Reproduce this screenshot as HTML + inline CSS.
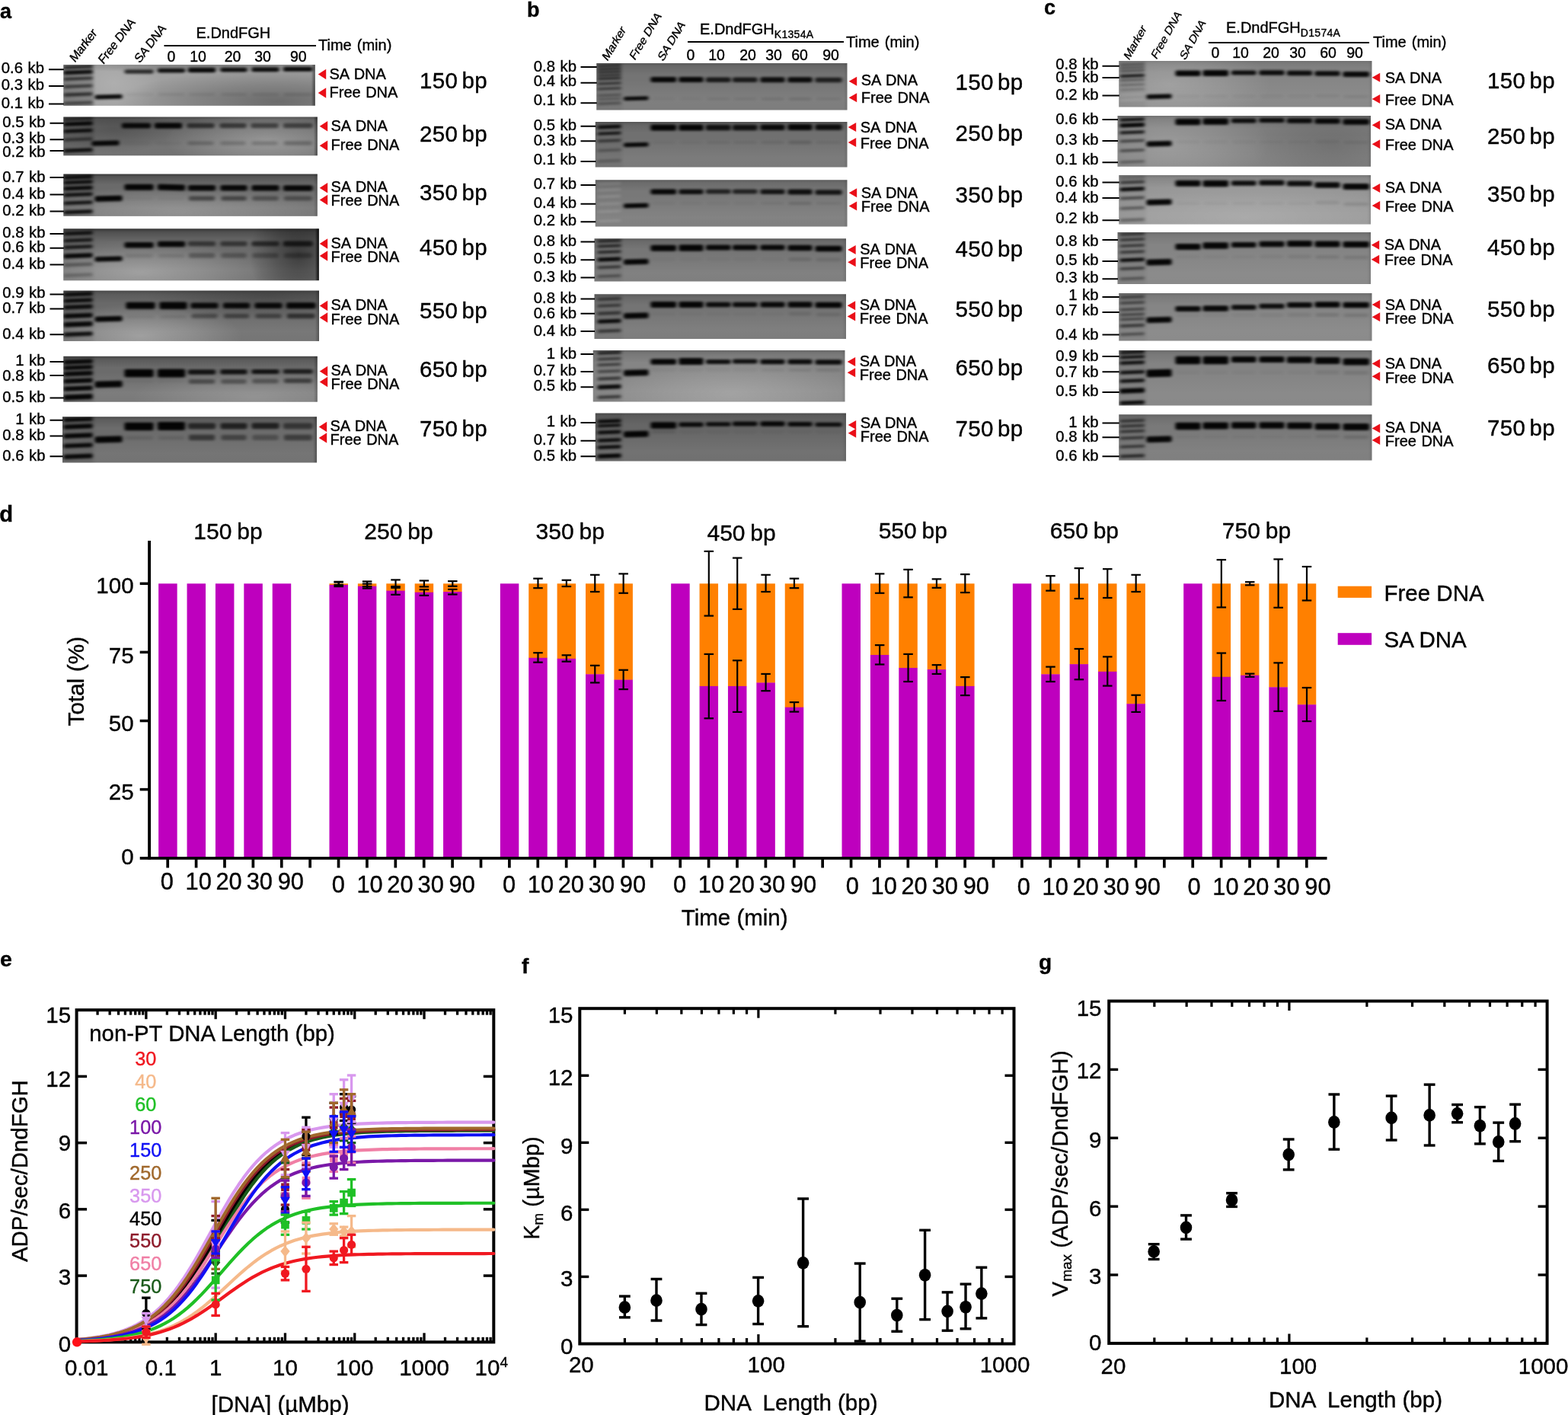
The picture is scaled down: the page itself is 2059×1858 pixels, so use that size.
<!DOCTYPE html>
<html><head><meta charset="utf-8"><title>Figure</title>
<style>
html,body{margin:0;padding:0;background:#fff;}
body{width:2059px;height:1858px;overflow:hidden;}
svg{display:block;position:absolute;left:0;top:0;}
text{font-family:'Liberation Sans', Arial, Helvetica, sans-serif;stroke:#000;stroke-width:0.38px;}
</style></head><body>
<svg width="2059" height="1858" viewBox="0 0 2059 1858">
<defs>
<filter id="bl" x="-20%" y="-100%" width="140%" height="300%"><feGaussianBlur stdDeviation="1.9 1.35"/></filter>
<filter id="bl2" x="-20%" y="-100%" width="140%" height="300%"><feGaussianBlur stdDeviation="2.2 1.5"/></filter>
<radialGradient id="rgk"><stop offset="0" stop-color="#000" stop-opacity="1"/><stop offset="0.5" stop-color="#000" stop-opacity="0.55"/><stop offset="1" stop-color="#000" stop-opacity="0"/></radialGradient>
<radialGradient id="rgw"><stop offset="0" stop-color="#fff" stop-opacity="1"/><stop offset="0.5" stop-color="#fff" stop-opacity="0.55"/><stop offset="1" stop-color="#fff" stop-opacity="0"/></radialGradient>
<linearGradient id="gt" x1="0" y1="0" x2="0" y2="1"><stop offset="0" stop-color="#000" stop-opacity="1"/><stop offset="0.07" stop-color="#000" stop-opacity="0.45"/><stop offset="0.25" stop-color="#000" stop-opacity="0"/></linearGradient>
<linearGradient id="gb" x1="0" y1="0" x2="0" y2="1"><stop offset="0.35" stop-color="#fff" stop-opacity="0"/><stop offset="0.8" stop-color="#fff" stop-opacity="1"/><stop offset="1" stop-color="#fff" stop-opacity="0.8"/></linearGradient>
<linearGradient id="gr" x1="0" y1="0" x2="1" y2="0"><stop offset="0" stop-color="#000" stop-opacity="0"/><stop offset="0.6" stop-color="#000" stop-opacity="0.6"/><stop offset="1" stop-color="#000" stop-opacity="1"/></linearGradient>
<clipPath id="cg1"><rect x="83.3" y="84.9" width="330.5" height="53.9"/></clipPath>
<clipPath id="cg2"><rect x="83.3" y="153.5" width="333.5" height="50.8"/></clipPath>
<clipPath id="cg3"><rect x="83.3" y="228.5" width="333.5" height="55.3"/></clipPath>
<clipPath id="cg4"><rect x="83.3" y="300.3" width="335.5" height="68"/></clipPath>
<clipPath id="cg5"><rect x="83.3" y="381.6" width="335.7" height="66.3"/></clipPath>
<clipPath id="cg6"><rect x="83.3" y="467.8" width="333.5" height="59.9"/></clipPath>
<clipPath id="cg7"><rect x="82" y="547.2" width="334" height="60.3"/></clipPath>
<clipPath id="cg8"><rect x="783.25" y="83" width="329.25" height="61.5"/></clipPath>
<clipPath id="cg9"><rect x="781.75" y="160" width="330.75" height="59.5"/></clipPath>
<clipPath id="cg10"><rect x="781.75" y="236.25" width="330.75" height="61.25"/></clipPath>
<clipPath id="cg11"><rect x="780.5" y="313.25" width="330.5" height="56.25"/></clipPath>
<clipPath id="cg12"><rect x="780.5" y="386.25" width="330.5" height="58.75"/></clipPath>
<clipPath id="cg13"><rect x="778.75" y="460" width="330.75" height="67.5"/></clipPath>
<clipPath id="cg14"><rect x="781.75" y="542.5" width="329.25" height="63"/></clipPath>
<clipPath id="cg15"><rect x="1469.25" y="80" width="332.25" height="60.5"/></clipPath>
<clipPath id="cg16"><rect x="1467.5" y="152" width="332.5" height="66.75"/></clipPath>
<clipPath id="cg17"><rect x="1469.25" y="230" width="330.75" height="64.5"/></clipPath>
<clipPath id="cg18"><rect x="1467.5" y="305" width="332.5" height="68"/></clipPath>
<clipPath id="cg19"><rect x="1469.25" y="385" width="332.25" height="62.5"/></clipPath>
<clipPath id="cg20"><rect x="1469.25" y="460" width="332.25" height="72.5"/></clipPath>
<clipPath id="cg21"><rect x="1469.25" y="544.25" width="332.25" height="60.25"/></clipPath>
</defs>
<rect x="0" y="0" width="2059" height="1858" fill="#fff"/>
<rect x="83.3" y="84.9" width="330.5" height="53.9" fill="#a0a0a0"/>
<g clip-path="url(#cg1)">
<rect x="408.8" y="84.9" width="5" height="53.9" fill="url(#gr)" opacity="0.5"/>
<rect x="80.3" y="81.9" width="42.7" height="59.9" fill="#000" opacity="0.22" filter="url(#bl2)"/>
<ellipse cx="364.23" cy="133.41" rx="211.52" ry="43.12" fill="url(#rgk)" opacity="0.33"/>
<ellipse cx="149.4" cy="109.16" rx="63.46" ry="43.12" fill="url(#rgw)" opacity="0.15"/>
<ellipse cx="281.6" cy="84.9" rx="264.4" ry="10.35" fill="url(#rgk)" opacity="0.22"/>
<rect x="83.4" y="86.3" width="38.2" height="3.4" rx="1.7" fill="#000" opacity="0.78" filter="url(#bl)" transform="rotate(-2.2 102.5 88)"/>
<rect x="83.4" y="92.2" width="38.2" height="5.2" rx="2.2" fill="#000" opacity="0.9" filter="url(#bl)" transform="rotate(-2.2 102.5 94.8)"/>
<rect x="83.4" y="101.15" width="38.2" height="4.1" rx="2.05" fill="#000" opacity="0.64" filter="url(#bl)" transform="rotate(-2.2 102.5 103.2)"/>
<rect x="83.4" y="111.15" width="38.2" height="4.1" rx="2.05" fill="#000" opacity="0.59" filter="url(#bl)" transform="rotate(-2.2 102.5 113.2)"/>
<rect x="83.4" y="121.85" width="38.2" height="4.3" rx="2.15" fill="#000" opacity="0.64" filter="url(#bl)" transform="rotate(-2.2 102.5 124)"/>
<rect x="83.4" y="133.25" width="38.2" height="4.1" rx="2.05" fill="#000" opacity="0.49" filter="url(#bl)" transform="rotate(-2.2 102.5 135.3)"/>
<rect x="124.4" y="124.15" width="36.2" height="5.9" rx="2.2" fill="#000" opacity="0.93" filter="url(#bl)" transform="rotate(-1.5 142.5 127.1)"/>
<rect x="163.4" y="91.35" width="38.2" height="5.3" rx="2.2" fill="#000" opacity="0.73" filter="url(#bl)"/>
<rect x="164.4" y="122.05" width="36.2" height="3.9" rx="1.95" fill="#000" opacity="0.04" filter="url(#bl2)"/>
<rect x="206.9" y="89.85" width="36.2" height="5.7" rx="2.2" fill="#000" opacity="0.88" filter="url(#bl)"/>
<rect x="207.9" y="122.05" width="34.2" height="3.9" rx="1.95" fill="#000" opacity="0.06" filter="url(#bl2)"/>
<rect x="246.9" y="88.85" width="36.2" height="6.3" rx="2.2" fill="#000" opacity="0.93" filter="url(#bl)"/>
<rect x="247.9" y="122.05" width="34.2" height="3.9" rx="1.95" fill="#000" opacity="0.06" filter="url(#bl2)"/>
<rect x="289.4" y="88.65" width="35.2" height="5.9" rx="2.2" fill="#000" opacity="0.9" filter="url(#bl)"/>
<rect x="290.4" y="122.05" width="33.2" height="3.9" rx="1.95" fill="#000" opacity="0.07" filter="url(#bl2)"/>
<rect x="330.4" y="88.25" width="36.2" height="5.9" rx="2.2" fill="#000" opacity="0.9" filter="url(#bl)"/>
<rect x="331.4" y="122.05" width="34.2" height="3.9" rx="1.95" fill="#000" opacity="0.07" filter="url(#bl2)"/>
<rect x="371.9" y="87.75" width="38.7" height="6.1" rx="2.2" fill="#000" opacity="0.93" filter="url(#bl)"/>
<rect x="372.9" y="122.05" width="36.7" height="3.9" rx="1.95" fill="#000" opacity="0.1" filter="url(#bl2)"/>
</g>
<text x="58" y="95.75" font-size="20.3" text-anchor="end" word-spacing="1">0.6 kb</text>
<line x1="64" y1="91.25" x2="83.8" y2="91.25" stroke="#000" stroke-width="2"/>
<text x="58" y="118" font-size="20.3" text-anchor="end" word-spacing="1">0.3 kb</text>
<line x1="64" y1="113" x2="83.8" y2="113" stroke="#000" stroke-width="2"/>
<text x="58" y="141.75" font-size="20.3" text-anchor="end" word-spacing="1">0.1 kb</text>
<line x1="64" y1="136.5" x2="83.8" y2="136.5" stroke="#000" stroke-width="2"/>
<path d="M417.7 97.5 L428.2 90.7 L428.2 104.3 Z" fill="#ea0f18"/>
<text x="432.5" y="103.75" font-size="20" word-spacing="1">SA DNA</text>
<path d="M417.7 122 L428.2 115.2 L428.2 128.8 Z" fill="#ea0f18"/>
<text x="432.5" y="128.25" font-size="20" word-spacing="1">Free DNA</text>
<rect x="83.3" y="153.5" width="333.5" height="50.8" fill="#686868"/>
<g clip-path="url(#cg2)">
<rect x="83.3" y="153.5" width="333.5" height="50.8" fill="url(#gt)" opacity="0.3"/>
<rect x="83.3" y="153.5" width="333.5" height="50.8" fill="url(#gb)" opacity="0.08"/>
<rect x="411.8" y="153.5" width="5" height="50.8" fill="url(#gr)" opacity="0.6"/>
<rect x="80.3" y="150.5" width="42.7" height="56.8" fill="#000" opacity="0.12" filter="url(#bl2)"/>
<ellipse cx="350.1" cy="183.98" rx="133.4" ry="40.64" fill="url(#rgw)" opacity="0.27"/>
<ellipse cx="150" cy="168.74" rx="80.04" ry="32.51" fill="url(#rgk)" opacity="0.18"/>
<rect x="83.4" y="154.6" width="38.2" height="3.4" rx="1.7" fill="#000" opacity="0.59" filter="url(#bl)" transform="rotate(-2.2 102.5 156.3)"/>
<rect x="83.4" y="159.95" width="38.2" height="5.1" rx="2.2" fill="#000" opacity="0.93" filter="url(#bl)" transform="rotate(-2.2 102.5 162.5)"/>
<rect x="83.4" y="169.5" width="38.2" height="4.4" rx="2.2" fill="#000" opacity="0.88" filter="url(#bl)" transform="rotate(-2.2 102.5 171.7)"/>
<rect x="83.4" y="181.05" width="38.2" height="3.9" rx="1.95" fill="#000" opacity="0.49" filter="url(#bl)" transform="rotate(-2.2 102.5 183)"/>
<rect x="83.4" y="194.95" width="38.2" height="4.9" rx="2.2" fill="#000" opacity="0.88" filter="url(#bl)" transform="rotate(-2.2 102.5 197.4)"/>
<rect x="120.4" y="184.8" width="36.2" height="6.4" rx="2.2" fill="#000" opacity="0.93" filter="url(#bl)" transform="rotate(-1.5 138.5 188)"/>
<rect x="159.9" y="161.55" width="38.2" height="6.9" rx="2.2" fill="#000" opacity="0.9" filter="url(#bl)"/>
<rect x="160.9" y="186.05" width="36.2" height="3.9" rx="1.95" fill="#000" opacity="0.03" filter="url(#bl2)"/>
<rect x="202.9" y="161.3" width="36.2" height="7.4" rx="2.2" fill="#000" opacity="0.93" filter="url(#bl)"/>
<rect x="203.9" y="186.05" width="34.2" height="3.9" rx="1.95" fill="#000" opacity="0.03" filter="url(#bl2)"/>
<rect x="245.4" y="161.8" width="36.2" height="6.4" rx="2.2" fill="#000" opacity="0.59" filter="url(#bl)"/>
<rect x="246.4" y="185.55" width="34.2" height="4.9" rx="2.2" fill="#000" opacity="0.2" filter="url(#bl2)"/>
<rect x="288.4" y="161.8" width="35.2" height="6.4" rx="2.2" fill="#000" opacity="0.54" filter="url(#bl)"/>
<rect x="289.4" y="185.55" width="33.2" height="4.9" rx="2.2" fill="#000" opacity="0.18" filter="url(#bl2)"/>
<rect x="329.4" y="161.8" width="36.2" height="6.4" rx="2.2" fill="#000" opacity="0.49" filter="url(#bl)"/>
<rect x="330.4" y="185.55" width="34.2" height="4.9" rx="2.2" fill="#000" opacity="0.18" filter="url(#bl2)"/>
<rect x="371.9" y="161.8" width="38.7" height="6.4" rx="2.2" fill="#000" opacity="0.49" filter="url(#bl)"/>
<rect x="372.9" y="185.3" width="36.7" height="5.4" rx="2.2" fill="#000" opacity="0.24" filter="url(#bl2)"/>
</g>
<text x="59.5" y="167" font-size="20.3" text-anchor="end" word-spacing="1">0.5 kb</text>
<line x1="65.5" y1="161.75" x2="83.8" y2="161.75" stroke="#000" stroke-width="2"/>
<text x="59.5" y="188" font-size="20.3" text-anchor="end" word-spacing="1">0.3 kb</text>
<line x1="65.5" y1="183.25" x2="83.8" y2="183.25" stroke="#000" stroke-width="2"/>
<text x="59.5" y="205.5" font-size="20.3" text-anchor="end" word-spacing="1">0.2 kb</text>
<line x1="65.5" y1="198" x2="83.8" y2="198" stroke="#000" stroke-width="2"/>
<path d="M419.7 165.75 L430.2 158.95 L430.2 172.55 Z" fill="#ea0f18"/>
<text x="434.5" y="172" font-size="20" word-spacing="1">SA DNA</text>
<path d="M419.7 191.25 L430.2 184.45 L430.2 198.05 Z" fill="#ea0f18"/>
<text x="434.5" y="196.75" font-size="20" word-spacing="1">Free DNA</text>
<rect x="83.3" y="228.5" width="333.5" height="55.3" fill="#6a6a6a"/>
<g clip-path="url(#cg3)">
<rect x="83.3" y="228.5" width="333.5" height="55.3" fill="url(#gt)" opacity="0.45"/>
<rect x="83.3" y="228.5" width="333.5" height="55.3" fill="url(#gb)" opacity="0.12"/>
<rect x="411.8" y="228.5" width="5" height="55.3" fill="url(#gr)" opacity="0.2"/>
<rect x="80.3" y="225.5" width="42.7" height="61.3" fill="#000" opacity="0.1" filter="url(#bl2)"/>
<ellipse cx="233.38" cy="278.27" rx="186.76" ry="35.39" fill="url(#rgw)" opacity="0.18"/>
<rect x="83.4" y="230.3" width="38.2" height="4.4" rx="2.2" fill="#000" opacity="0.88" filter="url(#bl)" transform="rotate(-2.2 102.5 232.5)"/>
<rect x="83.4" y="237.05" width="38.2" height="4.4" rx="2.2" fill="#000" opacity="0.88" filter="url(#bl)" transform="rotate(-2.2 102.5 239.25)"/>
<rect x="83.4" y="244.55" width="38.2" height="4.9" rx="2.2" fill="#000" opacity="0.93" filter="url(#bl)" transform="rotate(-2.2 102.5 247)"/>
<rect x="83.4" y="253.3" width="38.2" height="4.4" rx="2.2" fill="#000" opacity="0.88" filter="url(#bl)" transform="rotate(-2.2 102.5 255.5)"/>
<rect x="83.4" y="264.05" width="38.2" height="4.4" rx="2.2" fill="#000" opacity="0.83" filter="url(#bl)" transform="rotate(-2.2 102.5 266.25)"/>
<rect x="83.4" y="275.8" width="38.2" height="4.9" rx="2.2" fill="#000" opacity="0.88" filter="url(#bl)" transform="rotate(-2.2 102.5 278.25)"/>
<rect x="124.4" y="257.05" width="36.2" height="7.4" rx="2.2" fill="#000" opacity="0.95" filter="url(#bl)" transform="rotate(-1.5 142.5 260.75)"/>
<rect x="163.4" y="241.8" width="38.2" height="7.9" rx="2.2" fill="#000" opacity="0.95" filter="url(#bl)"/>
<rect x="164.4" y="258.55" width="36.2" height="3.9" rx="1.95" fill="#000" opacity="0.03" filter="url(#bl2)"/>
<rect x="206.9" y="242.05" width="36.2" height="7.9" rx="2.2" fill="#000" opacity="0.95" filter="url(#bl)" transform="rotate(1.5 225 246)"/>
<rect x="207.9" y="258.55" width="34.2" height="3.9" rx="1.95" fill="#000" opacity="0.03" filter="url(#bl2)"/>
<rect x="246.9" y="243.05" width="36.2" height="7.4" rx="2.2" fill="#000" opacity="0.93" filter="url(#bl)"/>
<rect x="247.9" y="257.55" width="34.2" height="5.9" rx="2.2" fill="#000" opacity="0.44" filter="url(#bl2)"/>
<rect x="289.4" y="243.05" width="35.2" height="7.4" rx="2.2" fill="#000" opacity="0.93" filter="url(#bl)"/>
<rect x="290.4" y="257.55" width="33.2" height="5.9" rx="2.2" fill="#000" opacity="0.44" filter="url(#bl2)"/>
<rect x="330.4" y="243.05" width="36.2" height="7.4" rx="2.2" fill="#000" opacity="0.93" filter="url(#bl)"/>
<rect x="331.4" y="257.55" width="34.2" height="5.9" rx="2.2" fill="#000" opacity="0.34" filter="url(#bl2)"/>
<rect x="371.9" y="243.3" width="38.7" height="7.4" rx="2.2" fill="#000" opacity="0.93" filter="url(#bl)"/>
<rect x="372.9" y="257.55" width="36.7" height="5.9" rx="2.2" fill="#000" opacity="0.34" filter="url(#bl2)"/>
</g>
<text x="59.5" y="238.75" font-size="20.3" text-anchor="end" word-spacing="1">0.7 kb</text>
<line x1="65.5" y1="233" x2="83.8" y2="233" stroke="#000" stroke-width="2"/>
<text x="59.5" y="261.25" font-size="20.3" text-anchor="end" word-spacing="1">0.4 kb</text>
<line x1="65.5" y1="255.5" x2="83.8" y2="255.5" stroke="#000" stroke-width="2"/>
<text x="59.5" y="283" font-size="20.3" text-anchor="end" word-spacing="1">0.2 kb</text>
<line x1="65.5" y1="277.5" x2="83.8" y2="277.5" stroke="#000" stroke-width="2"/>
<path d="M419.7 246.75 L430.2 239.95 L430.2 253.55 Z" fill="#ea0f18"/>
<text x="434.5" y="251.5" font-size="20" word-spacing="1">SA DNA</text>
<path d="M419.7 262.5 L430.2 255.7 L430.2 269.3 Z" fill="#ea0f18"/>
<text x="434.5" y="270" font-size="20" word-spacing="1">Free DNA</text>
<rect x="83.3" y="300.3" width="335.5" height="68" fill="#696969"/>
<g clip-path="url(#cg4)">
<rect x="83.3" y="300.3" width="335.5" height="68" fill="url(#gt)" opacity="0.5"/>
<rect x="83.3" y="300.3" width="335.5" height="68" fill="url(#gb)" opacity="0.1"/>
<rect x="413.8" y="300.3" width="5" height="68" fill="url(#gr)" opacity="0.9"/>
<rect x="80.3" y="297.3" width="42.7" height="74" fill="#000" opacity="0.05" filter="url(#bl2)"/>
<ellipse cx="183.95" cy="358.1" rx="161.04" ry="43.52" fill="url(#rgw)" opacity="0.3"/>
<ellipse cx="391.96" cy="334.3" rx="64.42" ry="76.16" fill="url(#rgk)" opacity="0.45"/>
<rect x="83.4" y="304.05" width="38.2" height="4.4" rx="2.2" fill="#000" opacity="0.83" filter="url(#bl)" transform="rotate(-2.2 102.5 306.25)"/>
<rect x="83.4" y="313.3" width="38.2" height="4.4" rx="2.2" fill="#000" opacity="0.78" filter="url(#bl)" transform="rotate(-2.2 102.5 315.5)"/>
<rect x="83.4" y="322.05" width="38.2" height="4.4" rx="2.2" fill="#000" opacity="0.78" filter="url(#bl)" transform="rotate(-2.2 102.5 324.25)"/>
<rect x="83.4" y="332.8" width="38.2" height="5.9" rx="2.2" fill="#000" opacity="0.93" filter="url(#bl)" transform="rotate(-2.2 102.5 335.75)"/>
<rect x="83.4" y="345.3" width="38.2" height="4.4" rx="2.2" fill="#000" opacity="0.34" filter="url(#bl)" transform="rotate(-2.2 102.5 347.5)"/>
<rect x="83.4" y="359.05" width="38.2" height="4.4" rx="2.2" fill="#000" opacity="0.24" filter="url(#bl)" transform="rotate(-2.2 102.5 361.25)"/>
<rect x="124.4" y="336.8" width="36.2" height="6.4" rx="2.2" fill="#000" opacity="0.93" filter="url(#bl)" transform="rotate(-1.5 142.5 340)"/>
<rect x="163.4" y="318.05" width="38.2" height="7.4" rx="2.2" fill="#000" opacity="0.93" filter="url(#bl)"/>
<rect x="164.4" y="333.55" width="36.2" height="4.9" rx="2.2" fill="#000" opacity="0.1" filter="url(#bl2)"/>
<rect x="206.9" y="316.8" width="36.2" height="7.4" rx="2.2" fill="#000" opacity="0.93" filter="url(#bl)"/>
<rect x="207.9" y="333.55" width="34.2" height="4.9" rx="2.2" fill="#000" opacity="0.1" filter="url(#bl2)"/>
<rect x="246.9" y="316.8" width="36.2" height="6.4" rx="2.2" fill="#000" opacity="0.49" filter="url(#bl)"/>
<rect x="247.9" y="332.3" width="34.2" height="6.4" rx="2.2" fill="#000" opacity="0.29" filter="url(#bl2)"/>
<rect x="289.4" y="316.8" width="35.2" height="6.4" rx="2.2" fill="#000" opacity="0.49" filter="url(#bl)"/>
<rect x="290.4" y="332.3" width="33.2" height="6.4" rx="2.2" fill="#000" opacity="0.27" filter="url(#bl2)"/>
<rect x="330.4" y="316.8" width="36.2" height="6.4" rx="2.2" fill="#000" opacity="0.59" filter="url(#bl)"/>
<rect x="331.4" y="332.3" width="34.2" height="6.4" rx="2.2" fill="#000" opacity="0.27" filter="url(#bl2)"/>
<rect x="371.9" y="316.55" width="38.7" height="6.9" rx="2.2" fill="#000" opacity="0.69" filter="url(#bl)"/>
<rect x="372.9" y="332.3" width="36.7" height="6.4" rx="2.2" fill="#000" opacity="0.27" filter="url(#bl2)"/>
</g>
<text x="59.5" y="311.75" font-size="20.3" text-anchor="end" word-spacing="1">0.8 kb</text>
<line x1="65.5" y1="307" x2="83.8" y2="307" stroke="#000" stroke-width="2"/>
<text x="59.5" y="331.25" font-size="20.3" text-anchor="end" word-spacing="1">0.6 kb</text>
<line x1="65.5" y1="325.75" x2="83.8" y2="325.75" stroke="#000" stroke-width="2"/>
<text x="59.5" y="352.5" font-size="20.3" text-anchor="end" word-spacing="1">0.4 kb</text>
<line x1="65.5" y1="347.5" x2="83.8" y2="347.5" stroke="#000" stroke-width="2"/>
<path d="M419.7 320 L430.2 313.2 L430.2 326.8 Z" fill="#ea0f18"/>
<text x="434.5" y="325.5" font-size="20" word-spacing="1">SA DNA</text>
<path d="M419.7 336 L430.2 329.2 L430.2 342.8 Z" fill="#ea0f18"/>
<text x="434.5" y="344" font-size="20" word-spacing="1">Free DNA</text>
<rect x="83.3" y="381.6" width="335.7" height="66.3" fill="#696969"/>
<g clip-path="url(#cg5)">
<rect x="83.3" y="381.6" width="335.7" height="66.3" fill="url(#gt)" opacity="0.3"/>
<rect x="83.3" y="381.6" width="335.7" height="66.3" fill="url(#gb)" opacity="0.1"/>
<rect x="414" y="381.6" width="5" height="66.3" fill="url(#gr)" opacity="0.3"/>
<rect x="80.3" y="378.6" width="42.7" height="72.3" fill="#000" opacity="0.1" filter="url(#bl2)"/>
<ellipse cx="184.01" cy="441.27" rx="134.28" ry="42.43" fill="url(#rgw)" opacity="0.3"/>
<ellipse cx="351.86" cy="388.23" rx="161.14" ry="31.82" fill="url(#rgk)" opacity="0.22"/>
<rect x="83.4" y="383.8" width="38.2" height="4.9" rx="2.2" fill="#000" opacity="0.88" filter="url(#bl)" transform="rotate(-2.2 102.5 386.25)"/>
<rect x="83.4" y="392.05" width="38.2" height="4.9" rx="2.2" fill="#000" opacity="0.88" filter="url(#bl)" transform="rotate(-2.2 102.5 394.5)"/>
<rect x="83.4" y="400.3" width="38.2" height="5.4" rx="2.2" fill="#000" opacity="0.88" filter="url(#bl)" transform="rotate(-2.2 102.5 403)"/>
<rect x="83.4" y="411.55" width="38.2" height="5.9" rx="2.2" fill="#000" opacity="0.93" filter="url(#bl)" transform="rotate(-2.2 102.5 414.5)"/>
<rect x="83.4" y="422.55" width="38.2" height="6.4" rx="2.2" fill="#000" opacity="0.93" filter="url(#bl)" transform="rotate(-2.2 102.5 425.75)"/>
<rect x="83.4" y="436.05" width="38.2" height="5.4" rx="2.2" fill="#000" opacity="0.88" filter="url(#bl)" transform="rotate(-2.2 102.5 438.75)"/>
<rect x="124.4" y="415.3" width="36.2" height="6.9" rx="2.2" fill="#000" opacity="0.95" filter="url(#bl)" transform="rotate(-1.5 142.5 418.75)"/>
<rect x="165.4" y="396.8" width="38.2" height="8.9" rx="2.2" fill="#000" opacity="0.95" filter="url(#bl)"/>
<rect x="166.4" y="414.05" width="36.2" height="3.9" rx="1.95" fill="#000" opacity="0.05" filter="url(#bl2)"/>
<rect x="209.4" y="396.55" width="36.2" height="9.4" rx="2.2" fill="#000" opacity="0.95" filter="url(#bl)"/>
<rect x="210.4" y="414.05" width="34.2" height="3.9" rx="1.95" fill="#000" opacity="0.08" filter="url(#bl2)"/>
<rect x="250.4" y="397.55" width="36.2" height="7.4" rx="2.2" fill="#000" opacity="0.9" filter="url(#bl)"/>
<rect x="251.4" y="412.05" width="34.2" height="5.9" rx="2.2" fill="#000" opacity="0.34" filter="url(#bl2)"/>
<rect x="292.9" y="397.55" width="35.2" height="7.4" rx="2.2" fill="#000" opacity="0.9" filter="url(#bl)"/>
<rect x="293.9" y="412.05" width="33.2" height="5.9" rx="2.2" fill="#000" opacity="0.39" filter="url(#bl2)"/>
<rect x="334.4" y="397.55" width="36.2" height="7.4" rx="2.2" fill="#000" opacity="0.9" filter="url(#bl)"/>
<rect x="335.4" y="412.05" width="34.2" height="5.9" rx="2.2" fill="#000" opacity="0.39" filter="url(#bl2)"/>
<rect x="375.9" y="397.3" width="38.7" height="7.9" rx="2.2" fill="#000" opacity="0.93" filter="url(#bl)"/>
<rect x="376.9" y="411.8" width="36.7" height="6.4" rx="2.2" fill="#000" opacity="0.54" filter="url(#bl2)"/>
</g>
<text x="59.5" y="390.5" font-size="20.3" text-anchor="end" word-spacing="1">0.9 kb</text>
<line x1="65.5" y1="386.5" x2="83.8" y2="386.5" stroke="#000" stroke-width="2"/>
<text x="59.5" y="411.25" font-size="20.3" text-anchor="end" word-spacing="1">0.7 kb</text>
<line x1="65.5" y1="405.5" x2="83.8" y2="405.5" stroke="#000" stroke-width="2"/>
<text x="59.5" y="445" font-size="20.3" text-anchor="end" word-spacing="1">0.4 kb</text>
<line x1="65.5" y1="439.25" x2="83.8" y2="439.25" stroke="#000" stroke-width="2"/>
<path d="M419.7 401.5 L430.2 394.7 L430.2 408.3 Z" fill="#ea0f18"/>
<text x="434.5" y="406.5" font-size="20" word-spacing="1">SA DNA</text>
<path d="M419.7 417 L430.2 410.2 L430.2 423.8 Z" fill="#ea0f18"/>
<text x="434.5" y="425.5" font-size="20" word-spacing="1">Free DNA</text>
<rect x="83.3" y="467.8" width="333.5" height="59.9" fill="#6b6b6b"/>
<g clip-path="url(#cg6)">
<rect x="83.3" y="467.8" width="333.5" height="59.9" fill="url(#gt)" opacity="0.35"/>
<rect x="83.3" y="467.8" width="333.5" height="59.9" fill="url(#gb)" opacity="0.12"/>
<rect x="411.8" y="467.8" width="5" height="59.9" fill="url(#gr)" opacity="0.3"/>
<rect x="80.3" y="464.8" width="42.7" height="65.9" fill="#000" opacity="0.1" filter="url(#bl2)"/>
<ellipse cx="333.43" cy="521.71" rx="160.08" ry="38.34" fill="url(#rgw)" opacity="0.18"/>
<rect x="83.4" y="472.3" width="38.2" height="5.4" rx="2.2" fill="#000" opacity="0.93" filter="url(#bl)" transform="rotate(-2.2 102.5 475)"/>
<rect x="83.4" y="479.8" width="38.2" height="5.4" rx="2.2" fill="#000" opacity="0.93" filter="url(#bl)" transform="rotate(-2.2 102.5 482.5)"/>
<rect x="83.4" y="487.55" width="38.2" height="5.9" rx="2.2" fill="#000" opacity="0.93" filter="url(#bl)" transform="rotate(-2.2 102.5 490.5)"/>
<rect x="83.4" y="497.05" width="38.2" height="5.9" rx="2.2" fill="#000" opacity="0.93" filter="url(#bl)" transform="rotate(-2.2 102.5 500)"/>
<rect x="83.4" y="507.05" width="38.2" height="5.9" rx="2.2" fill="#000" opacity="0.93" filter="url(#bl)" transform="rotate(-2.2 102.5 510)"/>
<rect x="83.4" y="517.8" width="38.2" height="6.9" rx="2.2" fill="#000" opacity="0.95" filter="url(#bl)" transform="rotate(-2.2 102.5 521.25)"/>
<rect x="124.4" y="500.3" width="36.2" height="8.4" rx="2.2" fill="#000" opacity="0.95" filter="url(#bl)" transform="rotate(-1.5 142.5 504.5)"/>
<rect x="163.4" y="484.8" width="38.2" height="10.4" rx="2.2" fill="#000" opacity="0.96" filter="url(#bl)"/>
<rect x="164.4" y="498.68" width="36.2" height="3.9" rx="1.95" fill="#000" opacity="0.03" filter="url(#bl2)"/>
<rect x="206.9" y="484.55" width="36.2" height="10.9" rx="2.2" fill="#000" opacity="0.96" filter="url(#bl)"/>
<rect x="207.9" y="498.68" width="34.2" height="3.9" rx="1.95" fill="#000" opacity="0.03" filter="url(#bl2)"/>
<rect x="246.9" y="485.3" width="36.2" height="6.4" rx="2.2" fill="#000" opacity="0.83" filter="url(#bl)"/>
<rect x="247.9" y="498.05" width="34.2" height="5.9" rx="2.2" fill="#000" opacity="0.39" filter="url(#bl2)"/>
<rect x="289.4" y="485.1" width="35.2" height="6.4" rx="2.2" fill="#000" opacity="0.83" filter="url(#bl)"/>
<rect x="290.4" y="498.05" width="33.2" height="5.9" rx="2.2" fill="#000" opacity="0.34" filter="url(#bl2)"/>
<rect x="330.4" y="485.05" width="36.2" height="5.9" rx="2.2" fill="#000" opacity="0.83" filter="url(#bl)"/>
<rect x="331.4" y="497.55" width="34.2" height="5.9" rx="2.2" fill="#000" opacity="0.34" filter="url(#bl2)"/>
<rect x="371.9" y="484.85" width="38.7" height="5.9" rx="2.2" fill="#000" opacity="0.73" filter="url(#bl)"/>
<rect x="372.9" y="497.05" width="36.7" height="5.9" rx="2.2" fill="#000" opacity="0.49" filter="url(#bl2)"/>
</g>
<text x="59.5" y="480" font-size="20.3" text-anchor="end" word-spacing="1">1 kb</text>
<line x1="65.5" y1="475" x2="83.8" y2="475" stroke="#000" stroke-width="2"/>
<text x="59.5" y="499.5" font-size="20.3" text-anchor="end" word-spacing="1">0.8 kb</text>
<line x1="65.5" y1="493" x2="83.8" y2="493" stroke="#000" stroke-width="2"/>
<text x="59.5" y="527.5" font-size="20.3" text-anchor="end" word-spacing="1">0.5 kb</text>
<line x1="65.5" y1="522.5" x2="83.8" y2="522.5" stroke="#000" stroke-width="2"/>
<path d="M419.7 487.5 L430.2 480.7 L430.2 494.3 Z" fill="#ea0f18"/>
<text x="434.5" y="492.5" font-size="20" word-spacing="1">SA DNA</text>
<path d="M419.7 501.5 L430.2 494.7 L430.2 508.3 Z" fill="#ea0f18"/>
<text x="434.5" y="511" font-size="20" word-spacing="1">Free DNA</text>
<rect x="82" y="547.2" width="334" height="60.3" fill="#6c6c6c"/>
<g clip-path="url(#cg7)">
<rect x="82" y="547.2" width="334" height="60.3" fill="url(#gt)" opacity="0.3"/>
<rect x="82" y="547.2" width="334" height="60.3" fill="url(#gb)" opacity="0.06"/>
<rect x="411" y="547.2" width="5" height="60.3" fill="url(#gr)" opacity="0.3"/>
<rect x="79" y="544.2" width="44" height="66.3" fill="#000" opacity="0.1" filter="url(#bl2)"/>
<rect x="83.4" y="548.3" width="38.2" height="4.9" rx="2.2" fill="#000" opacity="0.93" filter="url(#bl)" transform="rotate(-2.2 102.5 550.75)"/>
<rect x="83.4" y="557.05" width="38.2" height="5.9" rx="2.2" fill="#000" opacity="0.93" filter="url(#bl)" transform="rotate(-2.2 102.5 560)"/>
<rect x="83.4" y="569.05" width="38.2" height="5.9" rx="2.2" fill="#000" opacity="0.93" filter="url(#bl)" transform="rotate(-2.2 102.5 572)"/>
<rect x="83.4" y="582.3" width="38.2" height="5.4" rx="2.2" fill="#000" opacity="0.93" filter="url(#bl)" transform="rotate(-2.2 102.5 585)"/>
<rect x="83.4" y="596.3" width="38.2" height="5.9" rx="2.2" fill="#000" opacity="0.93" filter="url(#bl)" transform="rotate(-2.2 102.5 599.25)"/>
<rect x="124.4" y="572.8" width="36.2" height="8.4" rx="2.2" fill="#000" opacity="0.95" filter="url(#bl)" transform="rotate(-1.5 142.5 577)"/>
<rect x="163.4" y="554.8" width="38.2" height="10.4" rx="2.2" fill="#000" opacity="0.96" filter="url(#bl)"/>
<rect x="164.4" y="572.55" width="36.2" height="4.9" rx="2.2" fill="#000" opacity="0.1" filter="url(#bl2)"/>
<rect x="206.9" y="554.05" width="36.2" height="10.9" rx="2.2" fill="#000" opacity="0.96" filter="url(#bl)"/>
<rect x="207.9" y="572.55" width="34.2" height="4.9" rx="2.2" fill="#000" opacity="0.1" filter="url(#bl2)"/>
<rect x="246.9" y="555.55" width="36.2" height="7.9" rx="2.2" fill="#000" opacity="0.64" filter="url(#bl)"/>
<rect x="247.9" y="570.8" width="34.2" height="7.4" rx="2.2" fill="#000" opacity="0.49" filter="url(#bl2)"/>
<rect x="289.4" y="555.55" width="35.2" height="7.9" rx="2.2" fill="#000" opacity="0.69" filter="url(#bl)"/>
<rect x="290.4" y="571.05" width="33.2" height="6.9" rx="2.2" fill="#000" opacity="0.39" filter="url(#bl2)"/>
<rect x="330.4" y="555.25" width="36.2" height="7.9" rx="2.2" fill="#000" opacity="0.69" filter="url(#bl)"/>
<rect x="331.4" y="571.05" width="34.2" height="6.9" rx="2.2" fill="#000" opacity="0.29" filter="url(#bl2)"/>
<rect x="371.9" y="555.55" width="38.7" height="7.9" rx="2.2" fill="#000" opacity="0.49" filter="url(#bl)"/>
<rect x="372.9" y="570.8" width="36.7" height="7.4" rx="2.2" fill="#000" opacity="0.44" filter="url(#bl2)"/>
</g>
<text x="59.5" y="557" font-size="20.3" text-anchor="end" word-spacing="1">1 kb</text>
<line x1="65.5" y1="551.75" x2="82.5" y2="551.75" stroke="#000" stroke-width="2"/>
<text x="59.5" y="578" font-size="20.3" text-anchor="end" word-spacing="1">0.8 kb</text>
<line x1="65.5" y1="572.5" x2="82.5" y2="572.5" stroke="#000" stroke-width="2"/>
<text x="59.5" y="605" font-size="20.3" text-anchor="end" word-spacing="1">0.6 kb</text>
<line x1="65.5" y1="599.25" x2="82.5" y2="599.25" stroke="#000" stroke-width="2"/>
<path d="M418.7 560.5 L429.2 553.7 L429.2 567.3 Z" fill="#ea0f18"/>
<text x="433.5" y="566" font-size="20" word-spacing="1">SA DNA</text>
<path d="M418.7 575 L429.2 568.2 L429.2 581.8 Z" fill="#ea0f18"/>
<text x="433.5" y="584" font-size="20" word-spacing="1">Free DNA</text>
<text x="0" y="23.8" font-size="27" font-weight="bold">a</text>
<text font-size="17.2" letter-spacing="-0.35" transform="translate(98.3 82.7) scale(0.87 1) rotate(-48.5)">Marker</text>
<text font-size="17.2" letter-spacing="-0.35" transform="translate(135.7 85.3) scale(0.87 1) rotate(-48.5)">Free DNA</text>
<text font-size="17.2" letter-spacing="-0.35" transform="translate(183.3 83.8) scale(0.87 1) rotate(-48.5)">SA DNA</text>
<text x="257.5" y="50" font-size="20">E.DndFGH</text>
<line x1="215.5" y1="60" x2="415" y2="60" stroke="#000" stroke-width="1.8"/>
<text x="418" y="65.5" font-size="20" word-spacing="1.5">Time (min)</text>
<text x="225" y="81.25" font-size="19.5" text-anchor="middle">0</text>
<text x="260" y="81.25" font-size="19.5" text-anchor="middle">10</text>
<text x="305.5" y="81.25" font-size="19.5" text-anchor="middle">20</text>
<text x="345" y="81.25" font-size="19.5" text-anchor="middle">30</text>
<text x="391.75" y="81.25" font-size="19.5" text-anchor="middle">90</text>
<text x="551" y="116.3" font-size="29.5" word-spacing="-3" letter-spacing="0.3">150 bp</text>
<text x="551" y="185.8" font-size="29.5" word-spacing="-3" letter-spacing="0.3">250 bp</text>
<text x="551" y="262.7" font-size="29.5" word-spacing="-3" letter-spacing="0.3">350 bp</text>
<text x="551" y="335" font-size="29.5" word-spacing="-3" letter-spacing="0.3">450 bp</text>
<text x="551" y="417.7" font-size="29.5" word-spacing="-3" letter-spacing="0.3">550 bp</text>
<text x="551" y="495" font-size="29.5" word-spacing="-3" letter-spacing="0.3">650 bp</text>
<text x="551" y="573" font-size="29.5" word-spacing="-3" letter-spacing="0.3">750 bp</text>
<rect x="783.25" y="83" width="329.25" height="61.5" fill="#747474"/>
<g clip-path="url(#cg8)">
<rect x="783.25" y="83" width="329.25" height="61.5" fill="url(#gt)" opacity="0.22"/>
<rect x="783.25" y="83" width="329.25" height="61.5" fill="url(#gb)" opacity="0.08"/>
<rect x="1107.5" y="83" width="5" height="61.5" fill="url(#gr)" opacity="0.1"/>
<rect x="780.25" y="80" width="36.75" height="67.5" fill="#000" opacity="0.05" filter="url(#bl2)"/>
<rect x="784.4" y="84.8" width="31.2" height="2.9" rx="1.45" fill="#000" opacity="0.59" filter="url(#bl)" transform="rotate(-2.2 800 86.25)"/>
<rect x="784.4" y="89.05" width="31.2" height="2.9" rx="1.45" fill="#000" opacity="0.59" filter="url(#bl)" transform="rotate(-2.2 800 90.5)"/>
<rect x="784.4" y="93.05" width="31.2" height="2.9" rx="1.45" fill="#000" opacity="0.59" filter="url(#bl)" transform="rotate(-2.2 800 94.5)"/>
<rect x="784.4" y="97.3" width="31.2" height="2.9" rx="1.45" fill="#000" opacity="0.59" filter="url(#bl)" transform="rotate(-2.2 800 98.75)"/>
<rect x="784.4" y="101.45" width="31.2" height="3.1" rx="1.55" fill="#000" opacity="0.69" filter="url(#bl)" transform="rotate(-2.2 800 103)"/>
<rect x="784.4" y="107.95" width="31.2" height="3.1" rx="1.55" fill="#000" opacity="0.59" filter="url(#bl)" transform="rotate(-2.2 800 109.5)"/>
<rect x="784.4" y="114.7" width="31.2" height="3.1" rx="1.55" fill="#000" opacity="0.54" filter="url(#bl)" transform="rotate(-2.2 800 116.25)"/>
<rect x="784.4" y="123.55" width="31.2" height="2.9" rx="1.45" fill="#000" opacity="0.34" filter="url(#bl)" transform="rotate(-2.2 800 125)"/>
<rect x="784.4" y="128.55" width="31.2" height="2.9" rx="1.45" fill="#000" opacity="0.29" filter="url(#bl)" transform="rotate(-2.2 800 130)"/>
<rect x="784.4" y="134.2" width="31.2" height="3.1" rx="1.55" fill="#000" opacity="0.39" filter="url(#bl)" transform="rotate(-2.2 800 135.75)"/>
<rect x="818.9" y="126.7" width="32.7" height="5.1" rx="2.2" fill="#000" opacity="0.95" filter="url(#bl)" transform="rotate(-1.5 835.25 129.25)"/>
<rect x="854.4" y="101.05" width="33.7" height="6.9" rx="2.2" fill="#000" opacity="0.93" filter="url(#bl)"/>
<rect x="855.4" y="128.05" width="31.7" height="3.9" rx="1.95" fill="#000" opacity="0.03" filter="url(#bl2)"/>
<rect x="891.4" y="101.05" width="32.2" height="6.9" rx="2.2" fill="#000" opacity="0.93" filter="url(#bl)"/>
<rect x="892.4" y="128.05" width="30.2" height="3.9" rx="1.95" fill="#000" opacity="0.03" filter="url(#bl2)"/>
<rect x="926.9" y="101.6" width="32.7" height="6.4" rx="2.2" fill="#000" opacity="0.78" filter="url(#bl)"/>
<rect x="927.9" y="128.05" width="30.7" height="3.9" rx="1.95" fill="#000" opacity="0.06" filter="url(#bl2)"/>
<rect x="961.9" y="101.6" width="32.7" height="6.4" rx="2.2" fill="#000" opacity="0.78" filter="url(#bl)"/>
<rect x="962.9" y="128.05" width="30.7" height="3.9" rx="1.95" fill="#000" opacity="0.06" filter="url(#bl2)"/>
<rect x="998.4" y="101.35" width="32.2" height="6.9" rx="2.2" fill="#000" opacity="0.88" filter="url(#bl)"/>
<rect x="999.4" y="128.05" width="30.2" height="3.9" rx="1.95" fill="#000" opacity="0.08" filter="url(#bl2)"/>
<rect x="1034.4" y="101.35" width="32.2" height="6.9" rx="2.2" fill="#000" opacity="0.9" filter="url(#bl)"/>
<rect x="1035.4" y="128.05" width="30.2" height="3.9" rx="1.95" fill="#000" opacity="0.1" filter="url(#bl2)"/>
<rect x="1070.4" y="101.8" width="35.2" height="6.4" rx="2.2" fill="#000" opacity="0.73" filter="url(#bl)"/>
<rect x="1071.4" y="128.05" width="33.2" height="3.9" rx="1.95" fill="#000" opacity="0.06" filter="url(#bl2)"/>
</g>
<text x="757" y="93.75" font-size="20.3" text-anchor="end" word-spacing="1">0.8 kb</text>
<line x1="762.5" y1="88" x2="783.75" y2="88" stroke="#000" stroke-width="2"/>
<text x="757" y="113.25" font-size="20.3" text-anchor="end" word-spacing="1">0.4 kb</text>
<line x1="762.5" y1="108.75" x2="783.75" y2="108.75" stroke="#000" stroke-width="2"/>
<text x="757" y="138" font-size="20.3" text-anchor="end" word-spacing="1">0.1 kb</text>
<line x1="762.5" y1="135.25" x2="783.75" y2="135.25" stroke="#000" stroke-width="2"/>
<path d="M1114.7 106.75 L1125.2 100.85 L1125.2 112.65 Z" fill="#ea0f18"/>
<text x="1130.75" y="111.5" font-size="20" word-spacing="1">SA DNA</text>
<path d="M1114.7 128.25 L1125.2 122.35 L1125.2 134.15 Z" fill="#ea0f18"/>
<text x="1130.75" y="134.5" font-size="20" word-spacing="1">Free DNA</text>
<rect x="781.75" y="160" width="330.75" height="59.5" fill="#707070"/>
<g clip-path="url(#cg9)">
<rect x="781.75" y="160" width="330.75" height="59.5" fill="url(#gt)" opacity="0.22"/>
<rect x="781.75" y="160" width="330.75" height="59.5" fill="url(#gb)" opacity="0.08"/>
<rect x="1107.5" y="160" width="5" height="59.5" fill="url(#gr)" opacity="0.1"/>
<rect x="778.75" y="157" width="38.25" height="65.5" fill="#000" opacity="0.05" filter="url(#bl2)"/>
<rect x="784.4" y="164.15" width="31.2" height="4.5" rx="2.2" fill="#000" opacity="0.93" filter="url(#bl)" transform="rotate(-2.2 800 166.4)"/>
<rect x="784.4" y="173.15" width="31.2" height="3.9" rx="1.95" fill="#000" opacity="0.83" filter="url(#bl)" transform="rotate(-2.2 800 175.1)"/>
<rect x="784.4" y="182.95" width="31.2" height="3.5" rx="1.75" fill="#000" opacity="0.54" filter="url(#bl)" transform="rotate(-2.2 800 184.7)"/>
<rect x="784.4" y="195.6" width="31.2" height="3.4" rx="1.7" fill="#000" opacity="0.29" filter="url(#bl)" transform="rotate(-2.2 800 197.3)"/>
<rect x="784.4" y="209.5" width="31.2" height="3.4" rx="1.7" fill="#000" opacity="0.24" filter="url(#bl)" transform="rotate(-2.2 800 211.2)"/>
<rect x="818.9" y="187.3" width="32.7" height="5.4" rx="2.2" fill="#000" opacity="0.95" filter="url(#bl)" transform="rotate(-1.5 835.25 190)"/>
<rect x="854.4" y="163.55" width="33.7" height="7.9" rx="2.2" fill="#000" opacity="0.95" filter="url(#bl)"/>
<rect x="855.4" y="185.05" width="31.7" height="3.9" rx="1.95" fill="#000" opacity="0.03" filter="url(#bl2)"/>
<rect x="891.4" y="163.55" width="32.2" height="7.9" rx="2.2" fill="#000" opacity="0.95" filter="url(#bl)"/>
<rect x="892.4" y="185.05" width="30.2" height="3.9" rx="1.95" fill="#000" opacity="0.03" filter="url(#bl2)"/>
<rect x="926.9" y="163.8" width="32.7" height="7.4" rx="2.2" fill="#000" opacity="0.83" filter="url(#bl)"/>
<rect x="927.9" y="185.05" width="30.7" height="3.9" rx="1.95" fill="#000" opacity="0.06" filter="url(#bl2)"/>
<rect x="961.9" y="163.8" width="32.7" height="7.4" rx="2.2" fill="#000" opacity="0.83" filter="url(#bl)"/>
<rect x="962.9" y="185.05" width="30.7" height="3.9" rx="1.95" fill="#000" opacity="0.06" filter="url(#bl2)"/>
<rect x="998.4" y="163.6" width="32.2" height="7.4" rx="2.2" fill="#000" opacity="0.9" filter="url(#bl)"/>
<rect x="999.4" y="185.05" width="30.2" height="3.9" rx="1.95" fill="#000" opacity="0.08" filter="url(#bl2)"/>
<rect x="1034.4" y="163.05" width="32.2" height="7.9" rx="2.2" fill="#000" opacity="0.93" filter="url(#bl)"/>
<rect x="1035.4" y="184.8" width="30.2" height="4.4" rx="2.2" fill="#000" opacity="0.15" filter="url(#bl2)"/>
<rect x="1070.4" y="163.3" width="35.2" height="7.4" rx="2.2" fill="#000" opacity="0.88" filter="url(#bl)"/>
<rect x="1071.4" y="185.05" width="33.2" height="3.9" rx="1.95" fill="#000" opacity="0.06" filter="url(#bl2)"/>
</g>
<text x="757" y="170.75" font-size="20.3" text-anchor="end" word-spacing="1">0.5 kb</text>
<line x1="762.5" y1="165.75" x2="782.25" y2="165.75" stroke="#000" stroke-width="2"/>
<text x="757" y="190.5" font-size="20.3" text-anchor="end" word-spacing="1">0.3 kb</text>
<line x1="762.5" y1="185.25" x2="782.25" y2="185.25" stroke="#000" stroke-width="2"/>
<text x="757" y="215.5" font-size="20.3" text-anchor="end" word-spacing="1">0.1 kb</text>
<line x1="762.5" y1="212" x2="782.25" y2="212" stroke="#000" stroke-width="2"/>
<path d="M1113.7 167 L1124.2 161.1 L1124.2 172.9 Z" fill="#ea0f18"/>
<text x="1129.75" y="174" font-size="20" word-spacing="1">SA DNA</text>
<path d="M1113.7 187 L1124.2 181.1 L1124.2 192.9 Z" fill="#ea0f18"/>
<text x="1129.75" y="194.5" font-size="20" word-spacing="1">Free DNA</text>
<rect x="781.75" y="236.25" width="330.75" height="61.25" fill="#787878"/>
<g clip-path="url(#cg10)">
<rect x="781.75" y="236.25" width="330.75" height="61.25" fill="url(#gt)" opacity="0.22"/>
<rect x="781.75" y="236.25" width="330.75" height="61.25" fill="url(#gb)" opacity="0.08"/>
<rect x="1107.5" y="236.25" width="5" height="61.25" fill="url(#gr)" opacity="0.1"/>
<rect x="784.4" y="239.55" width="31.2" height="3.4" rx="1.7" fill="#fff" opacity="0.1" filter="url(#bl)" transform="rotate(-2.2 800 241.25)"/>
<rect x="784.4" y="247.55" width="31.2" height="3.4" rx="1.7" fill="#fff" opacity="0.12" filter="url(#bl)" transform="rotate(-2.2 800 249.25)"/>
<rect x="784.4" y="256.3" width="31.2" height="3.4" rx="1.7" fill="#fff" opacity="0.14" filter="url(#bl)" transform="rotate(-2.2 800 258)"/>
<rect x="784.4" y="265.8" width="31.2" height="3.4" rx="1.7" fill="#fff" opacity="0.12" filter="url(#bl)" transform="rotate(-2.2 800 267.5)"/>
<rect x="784.4" y="275.8" width="31.2" height="3.4" rx="1.7" fill="#fff" opacity="0.12" filter="url(#bl)" transform="rotate(-2.2 800 277.5)"/>
<rect x="784.4" y="288.3" width="31.2" height="3.4" rx="1.7" fill="#fff" opacity="0.12" filter="url(#bl)" transform="rotate(-2.2 800 290)"/>
<rect x="818.9" y="267.05" width="32.7" height="5.9" rx="2.2" fill="#000" opacity="0.95" filter="url(#bl)" transform="rotate(-1.5 835.25 270)"/>
<rect x="854.4" y="248.3" width="33.7" height="6.9" rx="2.2" fill="#000" opacity="0.93" filter="url(#bl)"/>
<rect x="855.4" y="265.05" width="31.7" height="3.9" rx="1.95" fill="#000" opacity="0.03" filter="url(#bl2)"/>
<rect x="891.4" y="248.55" width="32.2" height="6.4" rx="2.2" fill="#000" opacity="0.88" filter="url(#bl)"/>
<rect x="892.4" y="265.05" width="30.2" height="3.9" rx="1.95" fill="#000" opacity="0.03" filter="url(#bl2)"/>
<rect x="926.9" y="248.55" width="32.7" height="5.9" rx="2.2" fill="#000" opacity="0.73" filter="url(#bl)"/>
<rect x="927.9" y="265.05" width="30.7" height="3.9" rx="1.95" fill="#000" opacity="0.03" filter="url(#bl2)"/>
<rect x="961.9" y="248.55" width="32.7" height="5.9" rx="2.2" fill="#000" opacity="0.73" filter="url(#bl)"/>
<rect x="962.9" y="265.05" width="30.7" height="3.9" rx="1.95" fill="#000" opacity="0.03" filter="url(#bl2)"/>
<rect x="998.4" y="248.55" width="32.2" height="6.4" rx="2.2" fill="#000" opacity="0.83" filter="url(#bl)"/>
<rect x="999.4" y="265.05" width="30.2" height="3.9" rx="1.95" fill="#000" opacity="0.05" filter="url(#bl2)"/>
<rect x="1034.4" y="248.55" width="32.2" height="6.9" rx="2.2" fill="#000" opacity="0.88" filter="url(#bl)"/>
<rect x="1035.4" y="264.8" width="30.2" height="4.4" rx="2.2" fill="#000" opacity="0.12" filter="url(#bl2)"/>
<rect x="1070.4" y="249.3" width="35.2" height="6.4" rx="2.2" fill="#000" opacity="0.83" filter="url(#bl)"/>
<rect x="1071.4" y="265.05" width="33.2" height="3.9" rx="1.95" fill="#000" opacity="0.06" filter="url(#bl2)"/>
</g>
<text x="757" y="248" font-size="20.3" text-anchor="end" word-spacing="1">0.7 kb</text>
<line x1="762.5" y1="243" x2="782.25" y2="243" stroke="#000" stroke-width="2"/>
<text x="757" y="272.5" font-size="20.3" text-anchor="end" word-spacing="1">0.4 kb</text>
<line x1="762.5" y1="267.75" x2="782.25" y2="267.75" stroke="#000" stroke-width="2"/>
<text x="757" y="295.5" font-size="20.3" text-anchor="end" word-spacing="1">0.2 kb</text>
<line x1="762.5" y1="291.25" x2="782.25" y2="291.25" stroke="#000" stroke-width="2"/>
<path d="M1114.7 253.25 L1125.2 247.35 L1125.2 259.15 Z" fill="#ea0f18"/>
<text x="1130.75" y="259.5" font-size="20" word-spacing="1">SA DNA</text>
<path d="M1114.7 270.5 L1125.2 264.6 L1125.2 276.4 Z" fill="#ea0f18"/>
<text x="1130.75" y="278" font-size="20" word-spacing="1">Free DNA</text>
<rect x="780.5" y="313.25" width="330.5" height="56.25" fill="#767676"/>
<g clip-path="url(#cg11)">
<rect x="780.5" y="313.25" width="330.5" height="56.25" fill="url(#gt)" opacity="0.22"/>
<rect x="780.5" y="313.25" width="330.5" height="56.25" fill="url(#gb)" opacity="0.08"/>
<rect x="1106" y="313.25" width="5" height="56.25" fill="url(#gr)" opacity="0.1"/>
<rect x="777.5" y="310.25" width="39.5" height="62.25" fill="#000" opacity="0.05" filter="url(#bl2)"/>
<rect x="784.4" y="314.55" width="31.2" height="3.4" rx="1.7" fill="#000" opacity="0.69" filter="url(#bl)" transform="rotate(-2.2 800 316.25)"/>
<rect x="784.4" y="321.3" width="31.2" height="3.4" rx="1.7" fill="#000" opacity="0.69" filter="url(#bl)" transform="rotate(-2.2 800 323)"/>
<rect x="784.4" y="329.05" width="31.2" height="3.4" rx="1.7" fill="#000" opacity="0.69" filter="url(#bl)" transform="rotate(-2.2 800 330.75)"/>
<rect x="784.4" y="338.05" width="31.2" height="4.9" rx="2.2" fill="#000" opacity="0.93" filter="url(#bl)" transform="rotate(-2.2 800 340.5)"/>
<rect x="784.4" y="349.05" width="31.2" height="3.4" rx="1.7" fill="#000" opacity="0.59" filter="url(#bl)" transform="rotate(-2.2 800 350.75)"/>
<rect x="784.4" y="360.8" width="31.2" height="3.4" rx="1.7" fill="#000" opacity="0.39" filter="url(#bl)" transform="rotate(-2.2 800 362.5)"/>
<rect x="818.9" y="340.3" width="32.7" height="6.9" rx="2.2" fill="#000" opacity="0.95" filter="url(#bl)" transform="rotate(-1.5 835.25 343.75)"/>
<rect x="854.4" y="321.8" width="33.7" height="7.9" rx="2.2" fill="#000" opacity="0.95" filter="url(#bl)"/>
<rect x="855.4" y="338.8" width="31.7" height="3.9" rx="1.95" fill="#000" opacity="0.03" filter="url(#bl2)"/>
<rect x="891.4" y="321.3" width="32.2" height="8.4" rx="2.2" fill="#000" opacity="0.95" filter="url(#bl)"/>
<rect x="892.4" y="338.8" width="30.2" height="3.9" rx="1.95" fill="#000" opacity="0.03" filter="url(#bl2)"/>
<rect x="926.9" y="321.55" width="32.7" height="6.9" rx="2.2" fill="#000" opacity="0.93" filter="url(#bl)"/>
<rect x="927.9" y="338.8" width="30.7" height="3.9" rx="1.95" fill="#000" opacity="0.03" filter="url(#bl2)"/>
<rect x="961.9" y="321.55" width="32.7" height="6.9" rx="2.2" fill="#000" opacity="0.93" filter="url(#bl)"/>
<rect x="962.9" y="338.8" width="30.7" height="3.9" rx="1.95" fill="#000" opacity="0.03" filter="url(#bl2)"/>
<rect x="998.4" y="321.55" width="32.2" height="6.9" rx="2.2" fill="#000" opacity="0.93" filter="url(#bl)"/>
<rect x="999.4" y="338.8" width="30.2" height="3.9" rx="1.95" fill="#000" opacity="0.03" filter="url(#bl2)"/>
<rect x="1034.4" y="321.8" width="32.2" height="7.4" rx="2.2" fill="#000" opacity="0.93" filter="url(#bl)"/>
<rect x="1035.4" y="338.3" width="30.2" height="4.4" rx="2.2" fill="#000" opacity="0.12" filter="url(#bl2)"/>
<rect x="1070.4" y="322.8" width="35.2" height="7.4" rx="2.2" fill="#000" opacity="0.95" filter="url(#bl)"/>
<rect x="1071.4" y="338.8" width="33.2" height="4.4" rx="2.2" fill="#000" opacity="0.1" filter="url(#bl2)"/>
</g>
<text x="757" y="323" font-size="20.3" text-anchor="end" word-spacing="1">0.8 kb</text>
<line x1="762.5" y1="317.5" x2="781" y2="317.5" stroke="#000" stroke-width="2"/>
<text x="757" y="346.25" font-size="20.3" text-anchor="end" word-spacing="1">0.5 kb</text>
<line x1="762.5" y1="341.25" x2="781" y2="341.25" stroke="#000" stroke-width="2"/>
<text x="757" y="369.5" font-size="20.3" text-anchor="end" word-spacing="1">0.3 kb</text>
<line x1="762.5" y1="364.5" x2="781" y2="364.5" stroke="#000" stroke-width="2"/>
<path d="M1113.2 328 L1123.7 322.1 L1123.7 333.9 Z" fill="#ea0f18"/>
<text x="1129.25" y="333.5" font-size="20" word-spacing="1">SA DNA</text>
<path d="M1113.2 344.25 L1123.7 338.35 L1123.7 350.15 Z" fill="#ea0f18"/>
<text x="1129.25" y="352" font-size="20" word-spacing="1">Free DNA</text>
<rect x="780.5" y="386.25" width="330.5" height="58.75" fill="#747474"/>
<g clip-path="url(#cg12)">
<rect x="780.5" y="386.25" width="330.5" height="58.75" fill="url(#gt)" opacity="0.22"/>
<rect x="780.5" y="386.25" width="330.5" height="58.75" fill="url(#gb)" opacity="0.08"/>
<rect x="1106" y="386.25" width="5" height="58.75" fill="url(#gr)" opacity="0.1"/>
<rect x="777.5" y="383.25" width="39.5" height="64.75" fill="#000" opacity="0.05" filter="url(#bl2)"/>
<rect x="784.4" y="390.8" width="31.2" height="3.4" rx="1.7" fill="#000" opacity="0.54" filter="url(#bl)" transform="rotate(-2.2 800 392.5)"/>
<rect x="784.4" y="399.55" width="31.2" height="3.4" rx="1.7" fill="#000" opacity="0.54" filter="url(#bl)" transform="rotate(-2.2 800 401.25)"/>
<rect x="784.4" y="409.3" width="31.2" height="3.9" rx="1.95" fill="#000" opacity="0.59" filter="url(#bl)" transform="rotate(-2.2 800 411.25)"/>
<rect x="784.4" y="419.3" width="31.2" height="4.9" rx="2.2" fill="#000" opacity="0.93" filter="url(#bl)" transform="rotate(-2.2 800 421.75)"/>
<rect x="784.4" y="432.55" width="31.2" height="3.9" rx="1.95" fill="#000" opacity="0.59" filter="url(#bl)" transform="rotate(-2.2 800 434.5)"/>
<rect x="818.9" y="410.8" width="32.7" height="7.4" rx="2.2" fill="#000" opacity="0.95" filter="url(#bl)" transform="rotate(-1.5 835.25 414.5)"/>
<rect x="854.4" y="396.05" width="33.7" height="7.9" rx="2.2" fill="#000" opacity="0.95" filter="url(#bl)"/>
<rect x="855.4" y="410.55" width="31.7" height="3.9" rx="1.95" fill="#000" opacity="0.03" filter="url(#bl2)"/>
<rect x="891.4" y="396.05" width="32.2" height="7.9" rx="2.2" fill="#000" opacity="0.95" filter="url(#bl)"/>
<rect x="892.4" y="410.55" width="30.2" height="3.9" rx="1.95" fill="#000" opacity="0.03" filter="url(#bl2)"/>
<rect x="926.9" y="396.8" width="32.7" height="6.4" rx="2.2" fill="#000" opacity="0.9" filter="url(#bl)"/>
<rect x="927.9" y="410.55" width="30.7" height="3.9" rx="1.95" fill="#000" opacity="0.03" filter="url(#bl2)"/>
<rect x="961.9" y="396.8" width="32.7" height="6.4" rx="2.2" fill="#000" opacity="0.9" filter="url(#bl)"/>
<rect x="962.9" y="410.55" width="30.7" height="3.9" rx="1.95" fill="#000" opacity="0.03" filter="url(#bl2)"/>
<rect x="998.4" y="396.55" width="32.2" height="6.9" rx="2.2" fill="#000" opacity="0.93" filter="url(#bl)"/>
<rect x="999.4" y="410.55" width="30.2" height="3.9" rx="1.95" fill="#000" opacity="0.03" filter="url(#bl2)"/>
<rect x="1034.4" y="396.3" width="32.2" height="7.4" rx="2.2" fill="#000" opacity="0.93" filter="url(#bl)"/>
<rect x="1035.4" y="409.8" width="30.2" height="4.4" rx="2.2" fill="#000" opacity="0.1" filter="url(#bl2)"/>
<rect x="1070.4" y="396.8" width="35.2" height="7.4" rx="2.2" fill="#000" opacity="0.95" filter="url(#bl)"/>
<rect x="1071.4" y="410.8" width="33.2" height="4.4" rx="2.2" fill="#000" opacity="0.1" filter="url(#bl2)"/>
</g>
<text x="757" y="398" font-size="20.3" text-anchor="end" word-spacing="1">0.8 kb</text>
<line x1="762.5" y1="392.5" x2="781" y2="392.5" stroke="#000" stroke-width="2"/>
<text x="757" y="417.5" font-size="20.3" text-anchor="end" word-spacing="1">0.6 kb</text>
<line x1="762.5" y1="411.75" x2="781" y2="411.75" stroke="#000" stroke-width="2"/>
<text x="757" y="441.25" font-size="20.3" text-anchor="end" word-spacing="1">0.4 kb</text>
<line x1="762.5" y1="435" x2="781" y2="435" stroke="#000" stroke-width="2"/>
<path d="M1112.7 401.25 L1123.2 395.35 L1123.2 407.15 Z" fill="#ea0f18"/>
<text x="1128.75" y="407" font-size="20" word-spacing="1">SA DNA</text>
<path d="M1112.7 415.5 L1123.2 409.6 L1123.2 421.4 Z" fill="#ea0f18"/>
<text x="1128.75" y="424.5" font-size="20" word-spacing="1">Free DNA</text>
<rect x="778.75" y="460" width="330.75" height="67.5" fill="#858585"/>
<g clip-path="url(#cg13)">
<rect x="778.75" y="460" width="330.75" height="67.5" fill="url(#gt)" opacity="0.22"/>
<rect x="778.75" y="460" width="330.75" height="67.5" fill="url(#gb)" opacity="0.08"/>
<rect x="1104.5" y="460" width="5" height="67.5" fill="url(#gr)" opacity="0.1"/>
<rect x="775.75" y="457" width="41.25" height="73.5" fill="#000" opacity="0.05" filter="url(#bl2)"/>
<ellipse cx="960.66" cy="517.38" rx="158.76" ry="54" fill="url(#rgw)" opacity="0.18"/>
<rect x="784.4" y="461.55" width="31.2" height="3.4" rx="1.7" fill="#000" opacity="0.78" filter="url(#bl)" transform="rotate(-2.2 800 463.25)"/>
<rect x="784.4" y="469.55" width="31.2" height="3.4" rx="1.7" fill="#000" opacity="0.54" filter="url(#bl)" transform="rotate(-2.2 800 471.25)"/>
<rect x="784.4" y="477.05" width="31.2" height="3.4" rx="1.7" fill="#000" opacity="0.54" filter="url(#bl)" transform="rotate(-2.2 800 478.75)"/>
<rect x="784.4" y="485.8" width="31.2" height="3.4" rx="1.7" fill="#000" opacity="0.49" filter="url(#bl)" transform="rotate(-2.2 800 487.5)"/>
<rect x="784.4" y="495.05" width="31.2" height="3.9" rx="1.95" fill="#000" opacity="0.59" filter="url(#bl)" transform="rotate(-2.2 800 497)"/>
<rect x="784.4" y="505.3" width="31.2" height="5.4" rx="2.2" fill="#000" opacity="0.93" filter="url(#bl)" transform="rotate(-2.2 800 508)"/>
<rect x="784.4" y="519.3" width="31.2" height="3.9" rx="1.95" fill="#000" opacity="0.59" filter="url(#bl)" transform="rotate(-2.2 800 521.25)"/>
<rect x="818.9" y="485.55" width="32.7" height="7.9" rx="2.2" fill="#000" opacity="0.95" filter="url(#bl)" transform="rotate(-1.5 835.25 489.5)"/>
<rect x="854.4" y="471.3" width="33.7" height="7.4" rx="2.2" fill="#000" opacity="0.95" filter="url(#bl)"/>
<rect x="855.4" y="484.05" width="31.7" height="3.9" rx="1.95" fill="#000" opacity="0.03" filter="url(#bl2)"/>
<rect x="891.4" y="470.05" width="32.2" height="8.9" rx="2.2" fill="#000" opacity="0.95" filter="url(#bl)"/>
<rect x="892.4" y="484.05" width="30.2" height="3.9" rx="1.95" fill="#000" opacity="0.03" filter="url(#bl2)"/>
<rect x="926.9" y="472.05" width="32.7" height="5.9" rx="2.2" fill="#000" opacity="0.88" filter="url(#bl)"/>
<rect x="927.9" y="484.05" width="30.7" height="3.9" rx="1.95" fill="#000" opacity="0.03" filter="url(#bl2)"/>
<rect x="961.9" y="471.55" width="32.7" height="5.9" rx="2.2" fill="#000" opacity="0.88" filter="url(#bl)"/>
<rect x="962.9" y="484.05" width="30.7" height="3.9" rx="1.95" fill="#000" opacity="0.03" filter="url(#bl2)"/>
<rect x="998.4" y="471.8" width="32.2" height="6.4" rx="2.2" fill="#000" opacity="0.9" filter="url(#bl)"/>
<rect x="999.4" y="484.05" width="30.2" height="3.9" rx="1.95" fill="#000" opacity="0.05" filter="url(#bl2)"/>
<rect x="1034.4" y="471.8" width="32.2" height="6.4" rx="2.2" fill="#000" opacity="0.9" filter="url(#bl)"/>
<rect x="1035.4" y="484.05" width="30.2" height="3.9" rx="1.95" fill="#000" opacity="0.08" filter="url(#bl2)"/>
<rect x="1070.4" y="472.3" width="35.2" height="6.4" rx="2.2" fill="#000" opacity="0.9" filter="url(#bl)"/>
<rect x="1071.4" y="484.05" width="33.2" height="3.9" rx="1.95" fill="#000" opacity="0.1" filter="url(#bl2)"/>
</g>
<text x="757" y="471.25" font-size="20.3" text-anchor="end" word-spacing="1">1 kb</text>
<line x1="762.5" y1="465" x2="779.25" y2="465" stroke="#000" stroke-width="2"/>
<text x="757" y="492.5" font-size="20.3" text-anchor="end" word-spacing="1">0.7 kb</text>
<line x1="762.5" y1="488" x2="779.25" y2="488" stroke="#000" stroke-width="2"/>
<text x="757" y="512.5" font-size="20.3" text-anchor="end" word-spacing="1">0.5 kb</text>
<line x1="762.5" y1="508.25" x2="779.25" y2="508.25" stroke="#000" stroke-width="2"/>
<path d="M1112.7 475 L1123.2 469.1 L1123.2 480.9 Z" fill="#ea0f18"/>
<text x="1128.75" y="481" font-size="20" word-spacing="1">SA DNA</text>
<path d="M1112.7 489.25 L1123.2 483.35 L1123.2 495.15 Z" fill="#ea0f18"/>
<text x="1128.75" y="499" font-size="20" word-spacing="1">Free DNA</text>
<rect x="781.75" y="542.5" width="329.25" height="63" fill="#666666"/>
<g clip-path="url(#cg14)">
<rect x="781.75" y="542.5" width="329.25" height="63" fill="url(#gt)" opacity="0.22"/>
<rect x="781.75" y="542.5" width="329.25" height="63" fill="url(#gb)" opacity="0.08"/>
<rect x="1106" y="542.5" width="5" height="63" fill="url(#gr)" opacity="0.1"/>
<rect x="778.75" y="539.5" width="38.25" height="69" fill="#000" opacity="0.05" filter="url(#bl2)"/>
<rect x="784.4" y="550.8" width="31.2" height="4.4" rx="2.2" fill="#000" opacity="0.93" filter="url(#bl)" transform="rotate(-2.2 800 553)"/>
<rect x="784.4" y="556.8" width="31.2" height="3.9" rx="1.95" fill="#000" opacity="0.88" filter="url(#bl)" transform="rotate(-2.2 800 558.75)"/>
<rect x="784.4" y="565.3" width="31.2" height="4.4" rx="2.2" fill="#000" opacity="0.9" filter="url(#bl)" transform="rotate(-2.2 800 567.5)"/>
<rect x="784.4" y="575.8" width="31.2" height="4.4" rx="2.2" fill="#000" opacity="0.9" filter="url(#bl)" transform="rotate(-2.2 800 578)"/>
<rect x="784.4" y="584.8" width="31.2" height="4.4" rx="2.2" fill="#000" opacity="0.9" filter="url(#bl)" transform="rotate(-2.2 800 587)"/>
<rect x="784.4" y="596.05" width="31.2" height="5.4" rx="2.2" fill="#000" opacity="0.95" filter="url(#bl)" transform="rotate(-2.2 800 598.75)"/>
<rect x="818.9" y="566.05" width="32.7" height="7.9" rx="2.2" fill="#000" opacity="0.95" filter="url(#bl)" transform="rotate(-1.5 835.25 570)"/>
<rect x="854.4" y="554.3" width="33.7" height="8.4" rx="2.2" fill="#000" opacity="0.95" filter="url(#bl)"/>
<rect x="855.4" y="565.05" width="31.7" height="3.9" rx="1.95" fill="#000" opacity="0.1" filter="url(#bl2)"/>
<rect x="891.4" y="554.55" width="32.2" height="5.9" rx="2.2" fill="#000" opacity="0.9" filter="url(#bl)"/>
<rect x="892.4" y="565.05" width="30.2" height="3.9" rx="1.95" fill="#000" opacity="0.03" filter="url(#bl2)"/>
<rect x="926.9" y="554.3" width="32.7" height="5.4" rx="2.2" fill="#000" opacity="0.88" filter="url(#bl)"/>
<rect x="927.9" y="565.05" width="30.7" height="3.9" rx="1.95" fill="#000" opacity="0.03" filter="url(#bl2)"/>
<rect x="961.9" y="553.55" width="32.7" height="5.9" rx="2.2" fill="#000" opacity="0.9" filter="url(#bl)"/>
<rect x="962.9" y="565.05" width="30.7" height="3.9" rx="1.95" fill="#000" opacity="0.03" filter="url(#bl2)"/>
<rect x="998.4" y="553.3" width="32.2" height="6.4" rx="2.2" fill="#000" opacity="0.93" filter="url(#bl)"/>
<rect x="999.4" y="565.05" width="30.2" height="3.9" rx="1.95" fill="#000" opacity="0.03" filter="url(#bl2)"/>
<rect x="1034.4" y="554.05" width="32.2" height="5.9" rx="2.2" fill="#000" opacity="0.9" filter="url(#bl)"/>
<rect x="1035.4" y="565.05" width="30.2" height="3.9" rx="1.95" fill="#000" opacity="0.03" filter="url(#bl2)"/>
<rect x="1070.4" y="554.8" width="35.2" height="5.4" rx="2.2" fill="#000" opacity="0.88" filter="url(#bl)"/>
<rect x="1071.4" y="565.05" width="33.2" height="3.9" rx="1.95" fill="#000" opacity="0.03" filter="url(#bl2)"/>
</g>
<text x="757" y="560" font-size="20.3" text-anchor="end" word-spacing="1">1 kb</text>
<line x1="762.5" y1="555" x2="782.25" y2="555" stroke="#000" stroke-width="2"/>
<text x="757" y="583.75" font-size="20.3" text-anchor="end" word-spacing="1">0.7 kb</text>
<line x1="762.5" y1="578.75" x2="782.25" y2="578.75" stroke="#000" stroke-width="2"/>
<text x="757" y="604.5" font-size="20.3" text-anchor="end" word-spacing="1">0.5 kb</text>
<line x1="762.5" y1="599.25" x2="782.25" y2="599.25" stroke="#000" stroke-width="2"/>
<path d="M1113.7 558 L1124.2 552.1 L1124.2 563.9 Z" fill="#ea0f18"/>
<text x="1129.75" y="561.5" font-size="20" word-spacing="1">SA DNA</text>
<path d="M1113.7 568.75 L1124.2 562.85 L1124.2 574.65 Z" fill="#ea0f18"/>
<text x="1129.75" y="580" font-size="20" word-spacing="1">Free DNA</text>
<text x="692" y="21.7" font-size="27" font-weight="bold">b</text>
<text font-size="17.2" letter-spacing="-0.35" transform="translate(797.5 81) scale(0.79 1) rotate(-52.5)">Marker</text>
<text font-size="17.2" letter-spacing="-0.35" transform="translate(833.5 80) scale(0.79 1) rotate(-52.5)">Free DNA</text>
<text font-size="17.2" letter-spacing="-0.35" transform="translate(870.5 81.5) scale(0.79 1) rotate(-52.5)">SA DNA</text>
<text x="919" y="44.7" font-size="20" text-anchor="start">E.DndFGH<tspan font-size="14" dy="5" letter-spacing="0.3">K1354A</tspan></text>
<line x1="903" y1="55" x2="1108" y2="55" stroke="#000" stroke-width="1.8"/>
<text x="1111" y="61.5" font-size="20" word-spacing="1.5">Time (min)</text>
<text x="907" y="78.5" font-size="19.5" text-anchor="middle">0</text>
<text x="941" y="78.5" font-size="19.5" text-anchor="middle">10</text>
<text x="982" y="78.5" font-size="19.5" text-anchor="middle">20</text>
<text x="1016" y="78.5" font-size="19.5" text-anchor="middle">30</text>
<text x="1050" y="78.5" font-size="19.5" text-anchor="middle">60</text>
<text x="1091" y="78.5" font-size="19.5" text-anchor="middle">90</text>
<text x="1254.5" y="117.5" font-size="29.5" word-spacing="-3" letter-spacing="0.3">150 bp</text>
<text x="1254.5" y="185.2" font-size="29.5" word-spacing="-3" letter-spacing="0.3">250 bp</text>
<text x="1254.5" y="265.5" font-size="29.5" word-spacing="-3" letter-spacing="0.3">350 bp</text>
<text x="1254.5" y="336.5" font-size="29.5" word-spacing="-3" letter-spacing="0.3">450 bp</text>
<text x="1254.5" y="416.3" font-size="29.5" word-spacing="-3" letter-spacing="0.3">550 bp</text>
<text x="1254.5" y="492.5" font-size="29.5" word-spacing="-3" letter-spacing="0.3">650 bp</text>
<text x="1254.5" y="572.5" font-size="29.5" word-spacing="-3" letter-spacing="0.3">750 bp</text>
<rect x="1469.25" y="80" width="332.25" height="60.5" fill="#858585"/>
<g clip-path="url(#cg15)">
<rect x="1469.25" y="80" width="332.25" height="60.5" fill="url(#gt)" opacity="0.15"/>
<rect x="1469.25" y="80" width="332.25" height="60.5" fill="url(#gb)" opacity="0.05"/>
<rect x="1796.5" y="80" width="5" height="60.5" fill="url(#gr)" opacity="0.1"/>
<rect x="1466.25" y="77" width="38.25" height="66.5" fill="#000" opacity="0.05" filter="url(#bl2)"/>
<ellipse cx="1535.7" cy="110.25" rx="132.9" ry="58.08" fill="url(#rgw)" opacity="0.21"/>
<rect x="1470.4" y="83.05" width="32.7" height="2.9" rx="1.45" fill="#000" opacity="0.39" filter="url(#bl)" transform="rotate(-2.2 1486.75 84.5)"/>
<rect x="1470.4" y="87.3" width="32.7" height="2.9" rx="1.45" fill="#000" opacity="0.39" filter="url(#bl)" transform="rotate(-2.2 1486.75 88.75)"/>
<rect x="1470.4" y="91.55" width="32.7" height="2.9" rx="1.45" fill="#000" opacity="0.44" filter="url(#bl)" transform="rotate(-2.2 1486.75 93)"/>
<rect x="1470.4" y="97.55" width="32.7" height="3.9" rx="1.95" fill="#000" opacity="0.83" filter="url(#bl)" transform="rotate(-2.2 1486.75 99.5)"/>
<rect x="1470.4" y="103.55" width="32.7" height="2.9" rx="1.45" fill="#000" opacity="0.39" filter="url(#bl)" transform="rotate(-2.2 1486.75 105)"/>
<rect x="1470.4" y="109.8" width="32.7" height="2.9" rx="1.45" fill="#000" opacity="0.29" filter="url(#bl)" transform="rotate(-2.2 1486.75 111.25)"/>
<rect x="1470.4" y="116.05" width="32.7" height="2.9" rx="1.45" fill="#000" opacity="0.2" filter="url(#bl)" transform="rotate(-2.2 1486.75 117.5)"/>
<rect x="1470.4" y="122.8" width="32.7" height="2.9" rx="1.45" fill="#fff" opacity="0.1" filter="url(#bl)" transform="rotate(-2.2 1486.75 124.25)"/>
<rect x="1470.4" y="129.8" width="32.7" height="2.9" rx="1.45" fill="#fff" opacity="0.12" filter="url(#bl)" transform="rotate(-2.2 1486.75 131.25)"/>
<rect x="1505.4" y="123.8" width="33.2" height="5.9" rx="2.2" fill="#000" opacity="0.95" filter="url(#bl)" transform="rotate(-1.5 1522 126.75)"/>
<rect x="1543.4" y="92.55" width="33.2" height="7.4" rx="2.2" fill="#000" opacity="0.95" filter="url(#bl)"/>
<rect x="1544.4" y="124.55" width="31.2" height="3.9" rx="1.95" fill="#000" opacity="0.03" filter="url(#bl2)"/>
<rect x="1579.4" y="92.05" width="33.7" height="7.9" rx="2.2" fill="#000" opacity="0.95" filter="url(#bl)"/>
<rect x="1580.4" y="124.55" width="31.7" height="3.9" rx="1.95" fill="#000" opacity="0.03" filter="url(#bl2)"/>
<rect x="1616.9" y="92.55" width="32.7" height="5.9" rx="2.2" fill="#000" opacity="0.9" filter="url(#bl)"/>
<rect x="1617.9" y="124.55" width="30.7" height="3.9" rx="1.95" fill="#000" opacity="0.03" filter="url(#bl2)"/>
<rect x="1653.4" y="92.3" width="33.2" height="6.4" rx="2.2" fill="#000" opacity="0.9" filter="url(#bl)"/>
<rect x="1654.4" y="124.55" width="31.2" height="3.9" rx="1.95" fill="#000" opacity="0.03" filter="url(#bl2)"/>
<rect x="1689.9" y="92.8" width="33.2" height="6.4" rx="2.2" fill="#000" opacity="0.9" filter="url(#bl)"/>
<rect x="1690.9" y="124.55" width="31.2" height="3.9" rx="1.95" fill="#000" opacity="0.03" filter="url(#bl2)"/>
<rect x="1726.4" y="93.3" width="33.2" height="6.4" rx="2.2" fill="#000" opacity="0.9" filter="url(#bl)"/>
<rect x="1727.4" y="124.05" width="31.2" height="3.9" rx="1.95" fill="#000" opacity="0.05" filter="url(#bl2)"/>
<rect x="1763.4" y="94.05" width="34.7" height="6.9" rx="2.2" fill="#000" opacity="0.93" filter="url(#bl)"/>
<rect x="1764.4" y="125.05" width="32.7" height="3.9" rx="1.95" fill="#000" opacity="0.06" filter="url(#bl2)"/>
</g>
<text x="1442.5" y="90.5" font-size="20.3" text-anchor="end" word-spacing="1">0.8 kb</text>
<line x1="1447.5" y1="86.75" x2="1469.75" y2="86.75" stroke="#000" stroke-width="2"/>
<text x="1442.5" y="108.25" font-size="20.3" text-anchor="end" word-spacing="1">0.5 kb</text>
<line x1="1447.5" y1="102" x2="1469.75" y2="102" stroke="#000" stroke-width="2"/>
<text x="1442.5" y="130.75" font-size="20.3" text-anchor="end" word-spacing="1">0.2 kb</text>
<line x1="1447.5" y1="125.5" x2="1469.75" y2="125.5" stroke="#000" stroke-width="2"/>
<path d="M1801.7 101.75 L1812.2 95.85 L1812.2 107.65 Z" fill="#ea0f18"/>
<text x="1818.75" y="108.5" font-size="20" word-spacing="1">SA DNA</text>
<path d="M1801.7 130 L1812.2 124.1 L1812.2 135.9 Z" fill="#ea0f18"/>
<text x="1818.75" y="137.5" font-size="20" word-spacing="1">Free DNA</text>
<rect x="1467.5" y="152" width="332.5" height="66.75" fill="#7e7e7e"/>
<g clip-path="url(#cg16)">
<rect x="1467.5" y="152" width="332.5" height="66.75" fill="url(#gt)" opacity="0.2"/>
<rect x="1467.5" y="152" width="332.5" height="66.75" fill="url(#gb)" opacity="0.05"/>
<rect x="1795" y="152" width="5" height="66.75" fill="url(#gr)" opacity="0.1"/>
<rect x="1464.5" y="149" width="40" height="72.75" fill="#000" opacity="0.05" filter="url(#bl2)"/>
<ellipse cx="1534" cy="188.71" rx="133" ry="64.08" fill="url(#rgw)" opacity="0.21"/>
<ellipse cx="1750.12" cy="192.05" rx="106.4" ry="64.08" fill="url(#rgk)" opacity="0.12"/>
<rect x="1470.4" y="155.05" width="32.7" height="3.9" rx="1.95" fill="#000" opacity="0.88" filter="url(#bl)" transform="rotate(-2.2 1486.75 157)"/>
<rect x="1470.4" y="161.55" width="32.7" height="5.4" rx="2.2" fill="#000" opacity="0.95" filter="url(#bl)" transform="rotate(-2.2 1486.75 164.25)"/>
<rect x="1470.4" y="171.8" width="32.7" height="3.9" rx="1.95" fill="#000" opacity="0.83" filter="url(#bl)" transform="rotate(-2.2 1486.75 173.75)"/>
<rect x="1470.4" y="183.3" width="32.7" height="3.4" rx="1.7" fill="#000" opacity="0.54" filter="url(#bl)" transform="rotate(-2.2 1486.75 185)"/>
<rect x="1470.4" y="195.8" width="32.7" height="3.4" rx="1.7" fill="#000" opacity="0.49" filter="url(#bl)" transform="rotate(-2.2 1486.75 197.5)"/>
<rect x="1470.4" y="210.8" width="32.7" height="3.4" rx="1.7" fill="#000" opacity="0.34" filter="url(#bl)" transform="rotate(-2.2 1486.75 212.5)"/>
<rect x="1505.4" y="185.3" width="33.2" height="6.9" rx="2.2" fill="#000" opacity="0.95" filter="url(#bl)" transform="rotate(-1.5 1522 188.75)"/>
<rect x="1543.4" y="155.8" width="33.2" height="8.4" rx="2.2" fill="#000" opacity="0.95" filter="url(#bl)"/>
<rect x="1544.4" y="184.55" width="31.2" height="3.9" rx="1.95" fill="#000" opacity="0.03" filter="url(#bl2)"/>
<rect x="1579.4" y="155.3" width="33.7" height="8.4" rx="2.2" fill="#000" opacity="0.95" filter="url(#bl)"/>
<rect x="1580.4" y="184.55" width="31.7" height="3.9" rx="1.95" fill="#000" opacity="0.03" filter="url(#bl2)"/>
<rect x="1616.9" y="155.55" width="32.7" height="5.9" rx="2.2" fill="#000" opacity="0.9" filter="url(#bl)"/>
<rect x="1617.9" y="184.55" width="30.7" height="3.9" rx="1.95" fill="#000" opacity="0.03" filter="url(#bl2)"/>
<rect x="1653.4" y="155.05" width="33.2" height="5.9" rx="2.2" fill="#000" opacity="0.9" filter="url(#bl)"/>
<rect x="1654.4" y="184.55" width="31.2" height="3.9" rx="1.95" fill="#000" opacity="0.03" filter="url(#bl2)"/>
<rect x="1689.9" y="155.3" width="33.2" height="6.4" rx="2.2" fill="#000" opacity="0.9" filter="url(#bl)"/>
<rect x="1690.9" y="184.55" width="31.2" height="3.9" rx="1.95" fill="#000" opacity="0.03" filter="url(#bl2)"/>
<rect x="1726.4" y="155.55" width="33.2" height="6.9" rx="2.2" fill="#000" opacity="0.93" filter="url(#bl)"/>
<rect x="1727.4" y="184.05" width="31.2" height="3.9" rx="1.95" fill="#000" opacity="0.05" filter="url(#bl2)"/>
<rect x="1763.4" y="156.3" width="34.7" height="7.4" rx="2.2" fill="#000" opacity="0.93" filter="url(#bl)"/>
<rect x="1764.4" y="185.05" width="32.7" height="3.9" rx="1.95" fill="#000" opacity="0.06" filter="url(#bl2)"/>
</g>
<text x="1442.5" y="162.5" font-size="20.3" text-anchor="end" word-spacing="1">0.6 kb</text>
<line x1="1447.5" y1="157" x2="1468" y2="157" stroke="#000" stroke-width="2"/>
<text x="1442.5" y="190" font-size="20.3" text-anchor="end" word-spacing="1">0.3 kb</text>
<line x1="1447.5" y1="185" x2="1468" y2="185" stroke="#000" stroke-width="2"/>
<text x="1442.5" y="216.25" font-size="20.3" text-anchor="end" word-spacing="1">0.1 kb</text>
<line x1="1447.5" y1="213.25" x2="1468" y2="213.25" stroke="#000" stroke-width="2"/>
<path d="M1801.7 164.25 L1812.2 158.35 L1812.2 170.15 Z" fill="#ea0f18"/>
<text x="1818.75" y="170" font-size="20" word-spacing="1">SA DNA</text>
<path d="M1801.7 189.25 L1812.2 183.35 L1812.2 195.15 Z" fill="#ea0f18"/>
<text x="1818.75" y="196.5" font-size="20" word-spacing="1">Free DNA</text>
<rect x="1469.25" y="230" width="330.75" height="64.5" fill="#959595"/>
<g clip-path="url(#cg17)">
<rect x="1469.25" y="230" width="330.75" height="64.5" fill="url(#gt)" opacity="0.2"/>
<rect x="1469.25" y="230" width="330.75" height="64.5" fill="url(#gb)" opacity="0.06"/>
<rect x="1795" y="230" width="5" height="64.5" fill="url(#gr)" opacity="0.1"/>
<rect x="1466.25" y="227" width="38.25" height="70.5" fill="#000" opacity="0.05" filter="url(#bl2)"/>
<ellipse cx="1634.62" cy="284.82" rx="211.68" ry="51.6" fill="url(#rgw)" opacity="0.15"/>
<rect x="1470.4" y="231.8" width="32.7" height="2.9" rx="1.45" fill="#000" opacity="0.24" filter="url(#bl)" transform="rotate(-2.2 1486.75 233.25)"/>
<rect x="1470.4" y="237.3" width="32.7" height="3.9" rx="1.95" fill="#000" opacity="0.59" filter="url(#bl)" transform="rotate(-2.2 1486.75 239.25)"/>
<rect x="1470.4" y="245.8" width="32.7" height="4.9" rx="2.2" fill="#000" opacity="0.93" filter="url(#bl)" transform="rotate(-2.2 1486.75 248.25)"/>
<rect x="1470.4" y="258.05" width="32.7" height="3.9" rx="1.95" fill="#000" opacity="0.49" filter="url(#bl)" transform="rotate(-2.2 1486.75 260)"/>
<rect x="1470.4" y="271.3" width="32.7" height="3.9" rx="1.95" fill="#000" opacity="0.39" filter="url(#bl)" transform="rotate(-2.2 1486.75 273.25)"/>
<rect x="1470.4" y="286.8" width="32.7" height="3.9" rx="1.95" fill="#000" opacity="0.34" filter="url(#bl)" transform="rotate(-2.2 1486.75 288.75)"/>
<rect x="1505.4" y="261.8" width="33.2" height="7.4" rx="2.2" fill="#000" opacity="0.95" filter="url(#bl)" transform="rotate(-1.5 1522 265.5)"/>
<rect x="1543.4" y="236.8" width="33.2" height="7.9" rx="2.2" fill="#000" opacity="0.95" filter="url(#bl)"/>
<rect x="1544.4" y="265.05" width="31.2" height="3.9" rx="1.95" fill="#000" opacity="0.03" filter="url(#bl2)"/>
<rect x="1579.4" y="236.8" width="33.7" height="8.4" rx="2.2" fill="#000" opacity="0.95" filter="url(#bl)"/>
<rect x="1580.4" y="265.05" width="31.7" height="3.9" rx="1.95" fill="#000" opacity="0.03" filter="url(#bl2)"/>
<rect x="1616.9" y="237.3" width="32.7" height="6.4" rx="2.2" fill="#000" opacity="0.9" filter="url(#bl)"/>
<rect x="1617.9" y="265.05" width="30.7" height="3.9" rx="1.95" fill="#000" opacity="0.03" filter="url(#bl2)"/>
<rect x="1653.4" y="236.55" width="33.2" height="6.9" rx="2.2" fill="#000" opacity="0.9" filter="url(#bl)"/>
<rect x="1654.4" y="265.05" width="31.2" height="3.9" rx="1.95" fill="#000" opacity="0.03" filter="url(#bl2)"/>
<rect x="1689.9" y="237.55" width="33.2" height="6.9" rx="2.2" fill="#000" opacity="0.9" filter="url(#bl)"/>
<rect x="1690.9" y="265.05" width="31.2" height="3.9" rx="1.95" fill="#000" opacity="0.03" filter="url(#bl2)"/>
<rect x="1726.4" y="239.3" width="33.2" height="7.4" rx="2.2" fill="#000" opacity="0.93" filter="url(#bl)"/>
<rect x="1727.4" y="263.8" width="31.2" height="4.4" rx="2.2" fill="#000" opacity="0.08" filter="url(#bl2)"/>
<rect x="1763.4" y="241.05" width="34.7" height="7.9" rx="2.2" fill="#000" opacity="0.95" filter="url(#bl)"/>
<rect x="1764.4" y="265.8" width="32.7" height="4.4" rx="2.2" fill="#000" opacity="0.1" filter="url(#bl2)"/>
</g>
<text x="1442.5" y="245" font-size="20.3" text-anchor="end" word-spacing="1">0.6 kb</text>
<line x1="1447.5" y1="239.5" x2="1469.75" y2="239.5" stroke="#000" stroke-width="2"/>
<text x="1442.5" y="266.25" font-size="20.3" text-anchor="end" word-spacing="1">0.4 kb</text>
<line x1="1447.5" y1="260" x2="1469.75" y2="260" stroke="#000" stroke-width="2"/>
<text x="1442.5" y="293" font-size="20.3" text-anchor="end" word-spacing="1">0.2 kb</text>
<line x1="1447.5" y1="289.25" x2="1469.75" y2="289.25" stroke="#000" stroke-width="2"/>
<path d="M1801.7 247 L1812.2 241.1 L1812.2 252.9 Z" fill="#ea0f18"/>
<text x="1818.75" y="253" font-size="20" word-spacing="1">SA DNA</text>
<path d="M1801.7 270 L1812.2 264.1 L1812.2 275.9 Z" fill="#ea0f18"/>
<text x="1818.75" y="277.5" font-size="20" word-spacing="1">Free DNA</text>
<rect x="1467.5" y="305" width="332.5" height="68" fill="#848484"/>
<g clip-path="url(#cg18)">
<rect x="1467.5" y="305" width="332.5" height="68" fill="url(#gt)" opacity="0.18"/>
<rect x="1467.5" y="305" width="332.5" height="68" fill="url(#gb)" opacity="0.06"/>
<rect x="1795" y="305" width="5" height="68" fill="url(#gr)" opacity="0.1"/>
<rect x="1464.5" y="302" width="40" height="74" fill="#000" opacity="0.05" filter="url(#bl2)"/>
<rect x="1470.4" y="305.8" width="32.7" height="3.4" rx="1.7" fill="#000" opacity="0.59" filter="url(#bl)" transform="rotate(-2.2 1486.75 307.5)"/>
<rect x="1470.4" y="312.8" width="32.7" height="3.4" rx="1.7" fill="#000" opacity="0.59" filter="url(#bl)" transform="rotate(-2.2 1486.75 314.5)"/>
<rect x="1470.4" y="320.8" width="32.7" height="3.4" rx="1.7" fill="#000" opacity="0.59" filter="url(#bl)" transform="rotate(-2.2 1486.75 322.5)"/>
<rect x="1470.4" y="329.05" width="32.7" height="3.4" rx="1.7" fill="#000" opacity="0.59" filter="url(#bl)" transform="rotate(-2.2 1486.75 330.75)"/>
<rect x="1470.4" y="339.05" width="32.7" height="4.4" rx="2.2" fill="#000" opacity="0.93" filter="url(#bl)" transform="rotate(-2.2 1486.75 341.25)"/>
<rect x="1470.4" y="350.8" width="32.7" height="3.4" rx="1.7" fill="#000" opacity="0.59" filter="url(#bl)" transform="rotate(-2.2 1486.75 352.5)"/>
<rect x="1470.4" y="364.05" width="32.7" height="3.4" rx="1.7" fill="#000" opacity="0.39" filter="url(#bl)" transform="rotate(-2.2 1486.75 365.75)"/>
<rect x="1505.4" y="340.3" width="33.2" height="7.9" rx="2.2" fill="#000" opacity="0.95" filter="url(#bl)" transform="rotate(-1.5 1522 344.25)"/>
<rect x="1543.4" y="320.05" width="33.2" height="7.9" rx="2.2" fill="#000" opacity="0.95" filter="url(#bl)"/>
<rect x="1544.4" y="335.43" width="31.2" height="3.9" rx="1.95" fill="#000" opacity="0.03" filter="url(#bl2)"/>
<rect x="1579.4" y="318.3" width="33.7" height="8.4" rx="2.2" fill="#000" opacity="0.95" filter="url(#bl)"/>
<rect x="1580.4" y="335.43" width="31.7" height="3.9" rx="1.95" fill="#000" opacity="0.03" filter="url(#bl2)"/>
<rect x="1616.9" y="318.05" width="32.7" height="6.9" rx="2.2" fill="#000" opacity="0.93" filter="url(#bl)"/>
<rect x="1617.9" y="335.43" width="30.7" height="3.9" rx="1.95" fill="#000" opacity="0.03" filter="url(#bl2)"/>
<rect x="1653.4" y="316.8" width="33.2" height="7.4" rx="2.2" fill="#000" opacity="0.93" filter="url(#bl)"/>
<rect x="1654.4" y="335.05" width="31.2" height="3.9" rx="1.95" fill="#000" opacity="0.05" filter="url(#bl2)"/>
<rect x="1689.9" y="316.05" width="33.2" height="7.9" rx="2.2" fill="#000" opacity="0.95" filter="url(#bl)"/>
<rect x="1690.9" y="334.8" width="31.2" height="4.4" rx="2.2" fill="#000" opacity="0.08" filter="url(#bl2)"/>
<rect x="1726.4" y="316.55" width="33.2" height="7.9" rx="2.2" fill="#000" opacity="0.95" filter="url(#bl)"/>
<rect x="1727.4" y="335.3" width="31.2" height="4.4" rx="2.2" fill="#000" opacity="0.1" filter="url(#bl2)"/>
<rect x="1763.4" y="317.05" width="34.7" height="7.9" rx="2.2" fill="#000" opacity="0.95" filter="url(#bl)"/>
<rect x="1764.4" y="335.8" width="32.7" height="4.4" rx="2.2" fill="#000" opacity="0.1" filter="url(#bl2)"/>
</g>
<text x="1442.5" y="322.5" font-size="20.3" text-anchor="end" word-spacing="1">0.8 kb</text>
<line x1="1447.5" y1="315" x2="1468" y2="315" stroke="#000" stroke-width="2"/>
<text x="1442.5" y="347.5" font-size="20.3" text-anchor="end" word-spacing="1">0.5 kb</text>
<line x1="1447.5" y1="343" x2="1468" y2="343" stroke="#000" stroke-width="2"/>
<text x="1442.5" y="371.25" font-size="20.3" text-anchor="end" word-spacing="1">0.3 kb</text>
<line x1="1447.5" y1="366.25" x2="1468" y2="366.25" stroke="#000" stroke-width="2"/>
<path d="M1800.7 321.75 L1811.2 315.85 L1811.2 327.65 Z" fill="#ea0f18"/>
<text x="1817.75" y="327.5" font-size="20" word-spacing="1">SA DNA</text>
<path d="M1800.7 340.75 L1811.2 334.85 L1811.2 346.65 Z" fill="#ea0f18"/>
<text x="1817.75" y="347.5" font-size="20" word-spacing="1">Free DNA</text>
<rect x="1469.25" y="385" width="332.25" height="62.5" fill="#858585"/>
<g clip-path="url(#cg19)">
<rect x="1469.25" y="385" width="332.25" height="62.5" fill="url(#gt)" opacity="0.18"/>
<rect x="1469.25" y="385" width="332.25" height="62.5" fill="url(#gb)" opacity="0.06"/>
<rect x="1796.5" y="385" width="5" height="62.5" fill="url(#gr)" opacity="0.1"/>
<rect x="1466.25" y="382" width="38.25" height="68.5" fill="#000" opacity="0.05" filter="url(#bl2)"/>
<rect x="1470.4" y="388.3" width="32.7" height="3.4" rx="1.7" fill="#000" opacity="0.49" filter="url(#bl)" transform="rotate(-2.2 1486.75 390)"/>
<rect x="1470.4" y="395.8" width="32.7" height="3.4" rx="1.7" fill="#000" opacity="0.49" filter="url(#bl)" transform="rotate(-2.2 1486.75 397.5)"/>
<rect x="1470.4" y="404.55" width="32.7" height="3.4" rx="1.7" fill="#000" opacity="0.49" filter="url(#bl)" transform="rotate(-2.2 1486.75 406.25)"/>
<rect x="1470.4" y="411.3" width="32.7" height="3.4" rx="1.7" fill="#000" opacity="0.49" filter="url(#bl)" transform="rotate(-2.2 1486.75 413)"/>
<rect x="1470.4" y="417.3" width="32.7" height="3.4" rx="1.7" fill="#000" opacity="0.49" filter="url(#bl)" transform="rotate(-2.2 1486.75 419)"/>
<rect x="1470.4" y="425.55" width="32.7" height="3.9" rx="1.95" fill="#000" opacity="0.59" filter="url(#bl)" transform="rotate(-2.2 1486.75 427.5)"/>
<rect x="1470.4" y="437.05" width="32.7" height="3.4" rx="1.7" fill="#000" opacity="0.44" filter="url(#bl)" transform="rotate(-2.2 1486.75 438.75)"/>
<rect x="1505.4" y="416.3" width="33.2" height="7.4" rx="2.2" fill="#000" opacity="0.95" filter="url(#bl)" transform="rotate(-1.5 1522 420)"/>
<rect x="1543.4" y="402.05" width="33.2" height="6.9" rx="2.2" fill="#000" opacity="0.93" filter="url(#bl)"/>
<rect x="1544.4" y="411.8" width="31.2" height="3.9" rx="1.95" fill="#000" opacity="0.03" filter="url(#bl2)"/>
<rect x="1579.4" y="401.3" width="33.7" height="7.4" rx="2.2" fill="#000" opacity="0.93" filter="url(#bl)"/>
<rect x="1580.4" y="411.8" width="31.7" height="3.9" rx="1.95" fill="#000" opacity="0.03" filter="url(#bl2)"/>
<rect x="1616.9" y="400.3" width="32.7" height="6.4" rx="2.2" fill="#000" opacity="0.9" filter="url(#bl)"/>
<rect x="1617.9" y="411.8" width="30.7" height="3.9" rx="1.95" fill="#000" opacity="0.03" filter="url(#bl2)"/>
<rect x="1653.4" y="398.8" width="33.2" height="6.4" rx="2.2" fill="#000" opacity="0.9" filter="url(#bl)"/>
<rect x="1654.4" y="412.05" width="31.2" height="3.9" rx="1.95" fill="#000" opacity="0.05" filter="url(#bl2)"/>
<rect x="1689.9" y="397.05" width="33.2" height="6.9" rx="2.2" fill="#000" opacity="0.93" filter="url(#bl)"/>
<rect x="1690.9" y="411.3" width="31.2" height="4.4" rx="2.2" fill="#000" opacity="0.08" filter="url(#bl2)"/>
<rect x="1726.4" y="396.3" width="33.2" height="7.4" rx="2.2" fill="#000" opacity="0.95" filter="url(#bl)"/>
<rect x="1727.4" y="411.3" width="31.2" height="4.4" rx="2.2" fill="#000" opacity="0.12" filter="url(#bl2)"/>
<rect x="1763.4" y="396.8" width="34.7" height="7.4" rx="2.2" fill="#000" opacity="0.95" filter="url(#bl)"/>
<rect x="1764.4" y="411.8" width="32.7" height="4.4" rx="2.2" fill="#000" opacity="0.12" filter="url(#bl2)"/>
</g>
<text x="1442.5" y="393.75" font-size="20.3" text-anchor="end" word-spacing="1">1 kb</text>
<line x1="1447.5" y1="390" x2="1469.75" y2="390" stroke="#000" stroke-width="2"/>
<text x="1442.5" y="414.25" font-size="20.3" text-anchor="end" word-spacing="1">0.7 kb</text>
<line x1="1447.5" y1="410" x2="1469.75" y2="410" stroke="#000" stroke-width="2"/>
<text x="1442.5" y="445.75" font-size="20.3" text-anchor="end" word-spacing="1">0.4 kb</text>
<line x1="1447.5" y1="439.5" x2="1469.75" y2="439.5" stroke="#000" stroke-width="2"/>
<path d="M1801.7 400 L1812.2 394.1 L1812.2 405.9 Z" fill="#ea0f18"/>
<text x="1818.75" y="406.5" font-size="20" word-spacing="1">SA DNA</text>
<path d="M1801.7 416.25 L1812.2 410.35 L1812.2 422.15 Z" fill="#ea0f18"/>
<text x="1818.75" y="424.5" font-size="20" word-spacing="1">Free DNA</text>
<rect x="1469.25" y="460" width="332.25" height="72.5" fill="#838383"/>
<g clip-path="url(#cg20)">
<rect x="1469.25" y="460" width="332.25" height="72.5" fill="url(#gt)" opacity="0.18"/>
<rect x="1469.25" y="460" width="332.25" height="72.5" fill="url(#gb)" opacity="0.06"/>
<rect x="1796.5" y="460" width="5" height="72.5" fill="url(#gr)" opacity="0.1"/>
<rect x="1466.25" y="457" width="38.25" height="78.5" fill="#000" opacity="0.05" filter="url(#bl2)"/>
<rect x="1470.4" y="460.55" width="32.7" height="3.9" rx="1.95" fill="#000" opacity="0.88" filter="url(#bl)" transform="rotate(-2.2 1486.75 462.5)"/>
<rect x="1470.4" y="466.8" width="32.7" height="3.9" rx="1.95" fill="#000" opacity="0.88" filter="url(#bl)" transform="rotate(-2.2 1486.75 468.75)"/>
<rect x="1470.4" y="474.05" width="32.7" height="4.4" rx="2.2" fill="#000" opacity="0.88" filter="url(#bl)" transform="rotate(-2.2 1486.75 476.25)"/>
<rect x="1470.4" y="486.55" width="32.7" height="4.4" rx="2.2" fill="#000" opacity="0.88" filter="url(#bl)" transform="rotate(-2.2 1486.75 488.75)"/>
<rect x="1470.4" y="497.8" width="32.7" height="4.4" rx="2.2" fill="#000" opacity="0.88" filter="url(#bl)" transform="rotate(-2.2 1486.75 500)"/>
<rect x="1470.4" y="509.8" width="32.7" height="6.4" rx="2.2" fill="#000" opacity="0.95" filter="url(#bl)" transform="rotate(-2.2 1486.75 513)"/>
<rect x="1470.4" y="526.3" width="32.7" height="4.9" rx="2.2" fill="#000" opacity="0.93" filter="url(#bl)" transform="rotate(-2.2 1486.75 528.75)"/>
<rect x="1505.4" y="485.05" width="33.2" height="9.9" rx="2.2" fill="#000" opacity="0.96" filter="url(#bl)" transform="rotate(-1.5 1522 490)"/>
<rect x="1543.4" y="467.8" width="33.2" height="10.4" rx="2.2" fill="#000" opacity="0.96" filter="url(#bl)"/>
<rect x="1544.4" y="487.3" width="31.2" height="3.9" rx="1.95" fill="#000" opacity="0.03" filter="url(#bl2)"/>
<rect x="1579.4" y="467.8" width="33.7" height="10.4" rx="2.2" fill="#000" opacity="0.96" filter="url(#bl)"/>
<rect x="1580.4" y="487.3" width="31.7" height="3.9" rx="1.95" fill="#000" opacity="0.03" filter="url(#bl2)"/>
<rect x="1616.9" y="468.05" width="32.7" height="7.9" rx="2.2" fill="#000" opacity="0.95" filter="url(#bl)"/>
<rect x="1617.9" y="487.3" width="30.7" height="3.9" rx="1.95" fill="#000" opacity="0.03" filter="url(#bl2)"/>
<rect x="1653.4" y="468.05" width="33.2" height="7.9" rx="2.2" fill="#000" opacity="0.95" filter="url(#bl)"/>
<rect x="1654.4" y="487.3" width="31.2" height="3.9" rx="1.95" fill="#000" opacity="0.03" filter="url(#bl2)"/>
<rect x="1689.9" y="468.3" width="33.2" height="8.4" rx="2.2" fill="#000" opacity="0.95" filter="url(#bl)"/>
<rect x="1690.9" y="487.3" width="31.2" height="3.9" rx="1.95" fill="#000" opacity="0.03" filter="url(#bl2)"/>
<rect x="1726.4" y="469.05" width="33.2" height="8.9" rx="2.2" fill="#000" opacity="0.95" filter="url(#bl)"/>
<rect x="1727.4" y="486.55" width="31.2" height="4.9" rx="2.2" fill="#000" opacity="0.08" filter="url(#bl2)"/>
<rect x="1763.4" y="470.55" width="34.7" height="8.9" rx="2.2" fill="#000" opacity="0.95" filter="url(#bl)"/>
<rect x="1764.4" y="487.05" width="32.7" height="4.9" rx="2.2" fill="#000" opacity="0.1" filter="url(#bl2)"/>
</g>
<text x="1442.5" y="474.25" font-size="20.3" text-anchor="end" word-spacing="1">0.9 kb</text>
<line x1="1447.5" y1="468" x2="1469.75" y2="468" stroke="#000" stroke-width="2"/>
<text x="1442.5" y="494.5" font-size="20.3" text-anchor="end" word-spacing="1">0.7 kb</text>
<line x1="1447.5" y1="488.25" x2="1469.75" y2="488.25" stroke="#000" stroke-width="2"/>
<text x="1442.5" y="519.5" font-size="20.3" text-anchor="end" word-spacing="1">0.5 kb</text>
<line x1="1447.5" y1="515" x2="1469.75" y2="515" stroke="#000" stroke-width="2"/>
<path d="M1801.7 477.5 L1812.2 471.6 L1812.2 483.4 Z" fill="#ea0f18"/>
<text x="1818.75" y="483.5" font-size="20" word-spacing="1">SA DNA</text>
<path d="M1801.7 494.25 L1812.2 488.35 L1812.2 500.15 Z" fill="#ea0f18"/>
<text x="1818.75" y="502.5" font-size="20" word-spacing="1">Free DNA</text>
<rect x="1469.25" y="544.25" width="332.25" height="60.25" fill="#797979"/>
<g clip-path="url(#cg21)">
<rect x="1469.25" y="544.25" width="332.25" height="60.25" fill="url(#gt)" opacity="0.18"/>
<rect x="1469.25" y="544.25" width="332.25" height="60.25" fill="url(#gb)" opacity="0.06"/>
<rect x="1796.5" y="544.25" width="5" height="60.25" fill="url(#gr)" opacity="0.1"/>
<rect x="1466.25" y="541.25" width="38.25" height="66.25" fill="#000" opacity="0.05" filter="url(#bl2)"/>
<rect x="1470.4" y="550.8" width="32.7" height="3.4" rx="1.7" fill="#000" opacity="0.59" filter="url(#bl)" transform="rotate(-2.2 1486.75 552.5)"/>
<rect x="1470.4" y="557.55" width="32.7" height="3.4" rx="1.7" fill="#000" opacity="0.59" filter="url(#bl)" transform="rotate(-2.2 1486.75 559.25)"/>
<rect x="1470.4" y="564.55" width="32.7" height="3.4" rx="1.7" fill="#000" opacity="0.59" filter="url(#bl)" transform="rotate(-2.2 1486.75 566.25)"/>
<rect x="1470.4" y="573.3" width="32.7" height="3.4" rx="1.7" fill="#000" opacity="0.59" filter="url(#bl)" transform="rotate(-2.2 1486.75 575)"/>
<rect x="1470.4" y="584.55" width="32.7" height="3.4" rx="1.7" fill="#000" opacity="0.59" filter="url(#bl)" transform="rotate(-2.2 1486.75 586.25)"/>
<rect x="1470.4" y="596.8" width="32.7" height="3.9" rx="1.95" fill="#000" opacity="0.69" filter="url(#bl)" transform="rotate(-2.2 1486.75 598.75)"/>
<rect x="1505.4" y="572.8" width="33.2" height="7.9" rx="2.2" fill="#000" opacity="0.95" filter="url(#bl)" transform="rotate(-1.5 1522 576.75)"/>
<rect x="1543.4" y="554.8" width="33.2" height="9.4" rx="2.2" fill="#000" opacity="0.96" filter="url(#bl)"/>
<rect x="1544.4" y="571.55" width="31.2" height="3.9" rx="1.95" fill="#000" opacity="0.03" filter="url(#bl2)"/>
<rect x="1579.4" y="554.55" width="33.7" height="8.9" rx="2.2" fill="#000" opacity="0.96" filter="url(#bl)"/>
<rect x="1580.4" y="571.55" width="31.7" height="3.9" rx="1.95" fill="#000" opacity="0.03" filter="url(#bl2)"/>
<rect x="1616.9" y="554.3" width="32.7" height="8.4" rx="2.2" fill="#000" opacity="0.95" filter="url(#bl)"/>
<rect x="1617.9" y="571.55" width="30.7" height="3.9" rx="1.95" fill="#000" opacity="0.03" filter="url(#bl2)"/>
<rect x="1653.4" y="554.3" width="33.2" height="8.4" rx="2.2" fill="#000" opacity="0.95" filter="url(#bl)"/>
<rect x="1654.4" y="571.55" width="31.2" height="3.9" rx="1.95" fill="#000" opacity="0.03" filter="url(#bl2)"/>
<rect x="1689.9" y="554.8" width="33.2" height="8.4" rx="2.2" fill="#000" opacity="0.95" filter="url(#bl)"/>
<rect x="1690.9" y="571.55" width="31.2" height="3.9" rx="1.95" fill="#000" opacity="0.03" filter="url(#bl2)"/>
<rect x="1726.4" y="555.8" width="33.2" height="8.4" rx="2.2" fill="#000" opacity="0.95" filter="url(#bl)"/>
<rect x="1727.4" y="570.8" width="31.2" height="4.4" rx="2.2" fill="#000" opacity="0.08" filter="url(#bl2)"/>
<rect x="1763.4" y="556.05" width="34.7" height="8.9" rx="2.2" fill="#000" opacity="0.95" filter="url(#bl)"/>
<rect x="1764.4" y="571.8" width="32.7" height="4.4" rx="2.2" fill="#000" opacity="0.12" filter="url(#bl2)"/>
</g>
<text x="1442.5" y="561.25" font-size="20.3" text-anchor="end" word-spacing="1">1 kb</text>
<line x1="1447.5" y1="555.5" x2="1469.75" y2="555.5" stroke="#000" stroke-width="2"/>
<text x="1442.5" y="580" font-size="20.3" text-anchor="end" word-spacing="1">0.8 kb</text>
<line x1="1447.5" y1="574.25" x2="1469.75" y2="574.25" stroke="#000" stroke-width="2"/>
<text x="1442.5" y="604.5" font-size="20.3" text-anchor="end" word-spacing="1">0.6 kb</text>
<line x1="1447.5" y1="599.25" x2="1469.75" y2="599.25" stroke="#000" stroke-width="2"/>
<path d="M1801.7 562.5 L1812.2 556.6 L1812.2 568.4 Z" fill="#ea0f18"/>
<text x="1818.75" y="568" font-size="20" word-spacing="1">SA DNA</text>
<path d="M1801.7 578 L1812.2 572.1 L1812.2 583.9 Z" fill="#ea0f18"/>
<text x="1818.75" y="586" font-size="20" word-spacing="1">Free DNA</text>
<text x="1371" y="18.5" font-size="27" font-weight="bold">c</text>
<text font-size="17.2" letter-spacing="-0.35" transform="translate(1482.5 80) scale(0.77 1) rotate(-54)">Marker</text>
<text font-size="17.2" letter-spacing="-0.35" transform="translate(1518.5 79) scale(0.77 1) rotate(-54)">Free DNA</text>
<text font-size="17.2" letter-spacing="-0.35" transform="translate(1556 80) scale(0.77 1) rotate(-54)">SA DNA</text>
<text x="1610" y="42.8" font-size="20" text-anchor="start">E.DndFGH<tspan font-size="14" dy="5" letter-spacing="0.3">D1574A</tspan></text>
<line x1="1587" y1="56" x2="1798" y2="56" stroke="#000" stroke-width="1.8"/>
<text x="1803" y="61.5" font-size="20" word-spacing="1.5">Time (min)</text>
<text x="1596" y="76" font-size="19.5" text-anchor="middle">0</text>
<text x="1629" y="76" font-size="19.5" text-anchor="middle">10</text>
<text x="1669" y="76" font-size="19.5" text-anchor="middle">20</text>
<text x="1704" y="76" font-size="19.5" text-anchor="middle">30</text>
<text x="1744" y="76" font-size="19.5" text-anchor="middle">60</text>
<text x="1779" y="76" font-size="19.5" text-anchor="middle">90</text>
<text x="1953" y="116" font-size="29.5" word-spacing="-3" letter-spacing="0.3">150 bp</text>
<text x="1953" y="188.5" font-size="29.5" word-spacing="-3" letter-spacing="0.3">250 bp</text>
<text x="1953" y="264.7" font-size="29.5" word-spacing="-3" letter-spacing="0.3">350 bp</text>
<text x="1953" y="334.7" font-size="29.5" word-spacing="-3" letter-spacing="0.3">450 bp</text>
<text x="1953" y="416.4" font-size="29.5" word-spacing="-3" letter-spacing="0.3">550 bp</text>
<text x="1953" y="489.9" font-size="29.5" word-spacing="-3" letter-spacing="0.3">650 bp</text>
<text x="1953" y="572.4" font-size="29.5" word-spacing="-3" letter-spacing="0.3">750 bp</text>
<text x="-0.8" y="685" font-size="29.2" font-weight="bold">d</text>
<rect x="208.15" y="766.3" width="24.5" height="359.1" fill="#be00be"/>
<rect x="245.54" y="766.3" width="24.5" height="359.1" fill="#be00be"/>
<rect x="282.93" y="766.3" width="24.5" height="359.1" fill="#be00be"/>
<rect x="320.32" y="766.3" width="24.5" height="359.1" fill="#be00be"/>
<rect x="357.71" y="766.3" width="24.5" height="359.1" fill="#be00be"/>
<rect x="432.49" y="766.3" width="24.5" height="2" fill="#ff8000"/>
<rect x="432.49" y="768" width="24.5" height="357.4" fill="#be00be"/>
<rect x="469.88" y="766.3" width="24.5" height="3.73" fill="#ff8000"/>
<rect x="469.88" y="769.73" width="24.5" height="355.67" fill="#be00be"/>
<rect x="507.27" y="766.3" width="24.5" height="9.63" fill="#ff8000"/>
<rect x="507.27" y="775.63" width="24.5" height="349.77" fill="#be00be"/>
<rect x="544.66" y="766.3" width="24.5" height="11.71" fill="#ff8000"/>
<rect x="544.66" y="777.71" width="24.5" height="347.69" fill="#be00be"/>
<rect x="582.05" y="766.3" width="24.5" height="11.02" fill="#ff8000"/>
<rect x="582.05" y="777.02" width="24.5" height="348.38" fill="#be00be"/>
<rect x="656.83" y="766.3" width="24.5" height="359.1" fill="#be00be"/>
<rect x="694.22" y="766.3" width="24.5" height="97.78" fill="#ff8000"/>
<rect x="694.22" y="863.78" width="24.5" height="261.62" fill="#be00be"/>
<rect x="731.61" y="766.3" width="24.5" height="98.82" fill="#ff8000"/>
<rect x="731.61" y="864.82" width="24.5" height="260.58" fill="#be00be"/>
<rect x="769" y="766.3" width="24.5" height="119.3" fill="#ff8000"/>
<rect x="769" y="885.3" width="24.5" height="240.1" fill="#be00be"/>
<rect x="806.39" y="766.3" width="24.5" height="126.59" fill="#ff8000"/>
<rect x="806.39" y="892.59" width="24.5" height="232.81" fill="#be00be"/>
<rect x="881.17" y="766.3" width="24.5" height="359.1" fill="#be00be"/>
<rect x="918.56" y="766.3" width="24.5" height="134.92" fill="#ff8000"/>
<rect x="918.56" y="900.92" width="24.5" height="224.48" fill="#be00be"/>
<rect x="955.95" y="766.3" width="24.5" height="134.92" fill="#ff8000"/>
<rect x="955.95" y="900.92" width="24.5" height="224.48" fill="#be00be"/>
<rect x="993.34" y="766.3" width="24.5" height="130.41" fill="#ff8000"/>
<rect x="993.34" y="896.41" width="24.5" height="228.99" fill="#be00be"/>
<rect x="1030.73" y="766.3" width="24.5" height="162.68" fill="#ff8000"/>
<rect x="1030.73" y="928.68" width="24.5" height="196.72" fill="#be00be"/>
<rect x="1105.51" y="766.3" width="24.5" height="359.1" fill="#be00be"/>
<rect x="1142.9" y="766.3" width="24.5" height="93.97" fill="#ff8000"/>
<rect x="1142.9" y="859.97" width="24.5" height="265.43" fill="#be00be"/>
<rect x="1180.29" y="766.3" width="24.5" height="110.97" fill="#ff8000"/>
<rect x="1180.29" y="876.97" width="24.5" height="248.43" fill="#be00be"/>
<rect x="1217.68" y="766.3" width="24.5" height="113.05" fill="#ff8000"/>
<rect x="1217.68" y="879.05" width="24.5" height="246.35" fill="#be00be"/>
<rect x="1255.07" y="766.3" width="24.5" height="134.92" fill="#ff8000"/>
<rect x="1255.07" y="900.92" width="24.5" height="224.48" fill="#be00be"/>
<rect x="1329.85" y="766.3" width="24.5" height="359.1" fill="#be00be"/>
<rect x="1367.24" y="766.3" width="24.5" height="119.3" fill="#ff8000"/>
<rect x="1367.24" y="885.3" width="24.5" height="240.1" fill="#be00be"/>
<rect x="1404.63" y="766.3" width="24.5" height="106.11" fill="#ff8000"/>
<rect x="1404.63" y="872.11" width="24.5" height="253.29" fill="#be00be"/>
<rect x="1442.02" y="766.3" width="24.5" height="115.83" fill="#ff8000"/>
<rect x="1442.02" y="881.83" width="24.5" height="243.57" fill="#be00be"/>
<rect x="1479.41" y="766.3" width="24.5" height="158.17" fill="#ff8000"/>
<rect x="1479.41" y="924.17" width="24.5" height="201.23" fill="#be00be"/>
<rect x="1554.19" y="766.3" width="24.5" height="359.1" fill="#be00be"/>
<rect x="1591.58" y="766.3" width="24.5" height="122.77" fill="#ff8000"/>
<rect x="1591.58" y="888.77" width="24.5" height="236.63" fill="#be00be"/>
<rect x="1628.97" y="766.3" width="24.5" height="120.69" fill="#ff8000"/>
<rect x="1628.97" y="886.69" width="24.5" height="238.71" fill="#be00be"/>
<rect x="1666.36" y="766.3" width="24.5" height="136.31" fill="#ff8000"/>
<rect x="1666.36" y="902.31" width="24.5" height="223.09" fill="#be00be"/>
<rect x="1703.75" y="766.3" width="24.5" height="159.21" fill="#ff8000"/>
<rect x="1703.75" y="925.21" width="24.5" height="200.19" fill="#be00be"/>
<line x1="444.74" y1="763.83" x2="444.74" y2="768" stroke="#000" stroke-width="2.2"/>
<line x1="438.49" y1="763.83" x2="450.99" y2="763.83" stroke="#000" stroke-width="2.2"/>
<line x1="438.49" y1="768" x2="450.99" y2="768" stroke="#000" stroke-width="2.2"/>
<line x1="444.74" y1="764.53" x2="444.74" y2="770.08" stroke="#000" stroke-width="2.2"/>
<line x1="438.49" y1="764.53" x2="450.99" y2="764.53" stroke="#000" stroke-width="2.2"/>
<line x1="438.49" y1="770.08" x2="450.99" y2="770.08" stroke="#000" stroke-width="2.2"/>
<line x1="482.13" y1="763.49" x2="482.13" y2="770.08" stroke="#000" stroke-width="2.2"/>
<line x1="475.88" y1="763.49" x2="488.38" y2="763.49" stroke="#000" stroke-width="2.2"/>
<line x1="475.88" y1="770.08" x2="488.38" y2="770.08" stroke="#000" stroke-width="2.2"/>
<line x1="482.13" y1="766.61" x2="482.13" y2="772.51" stroke="#000" stroke-width="2.2"/>
<line x1="475.88" y1="766.61" x2="488.38" y2="766.61" stroke="#000" stroke-width="2.2"/>
<line x1="475.88" y1="772.51" x2="488.38" y2="772.51" stroke="#000" stroke-width="2.2"/>
<line x1="519.52" y1="761.4" x2="519.52" y2="771.81" stroke="#000" stroke-width="2.2"/>
<line x1="513.27" y1="761.4" x2="525.77" y2="761.4" stroke="#000" stroke-width="2.2"/>
<line x1="513.27" y1="771.81" x2="525.77" y2="771.81" stroke="#000" stroke-width="2.2"/>
<line x1="519.52" y1="770.08" x2="519.52" y2="780.84" stroke="#000" stroke-width="2.2"/>
<line x1="513.27" y1="770.08" x2="525.77" y2="770.08" stroke="#000" stroke-width="2.2"/>
<line x1="513.27" y1="780.84" x2="525.77" y2="780.84" stroke="#000" stroke-width="2.2"/>
<line x1="556.91" y1="762.44" x2="556.91" y2="770.43" stroke="#000" stroke-width="2.2"/>
<line x1="550.66" y1="762.44" x2="563.16" y2="762.44" stroke="#000" stroke-width="2.2"/>
<line x1="550.66" y1="770.43" x2="563.16" y2="770.43" stroke="#000" stroke-width="2.2"/>
<line x1="556.91" y1="774.24" x2="556.91" y2="781.88" stroke="#000" stroke-width="2.2"/>
<line x1="550.66" y1="774.24" x2="563.16" y2="774.24" stroke="#000" stroke-width="2.2"/>
<line x1="550.66" y1="781.88" x2="563.16" y2="781.88" stroke="#000" stroke-width="2.2"/>
<line x1="594.3" y1="763.14" x2="594.3" y2="769.73" stroke="#000" stroke-width="2.2"/>
<line x1="588.05" y1="763.14" x2="600.55" y2="763.14" stroke="#000" stroke-width="2.2"/>
<line x1="588.05" y1="769.73" x2="600.55" y2="769.73" stroke="#000" stroke-width="2.2"/>
<line x1="594.3" y1="773.9" x2="594.3" y2="780.49" stroke="#000" stroke-width="2.2"/>
<line x1="588.05" y1="773.9" x2="600.55" y2="773.9" stroke="#000" stroke-width="2.2"/>
<line x1="588.05" y1="780.49" x2="600.55" y2="780.49" stroke="#000" stroke-width="2.2"/>
<line x1="706.47" y1="759.67" x2="706.47" y2="772.16" stroke="#000" stroke-width="2.2"/>
<line x1="700.22" y1="759.67" x2="712.72" y2="759.67" stroke="#000" stroke-width="2.2"/>
<line x1="700.22" y1="772.16" x2="712.72" y2="772.16" stroke="#000" stroke-width="2.2"/>
<line x1="706.47" y1="857.19" x2="706.47" y2="869.68" stroke="#000" stroke-width="2.2"/>
<line x1="700.22" y1="857.19" x2="712.72" y2="857.19" stroke="#000" stroke-width="2.2"/>
<line x1="700.22" y1="869.68" x2="712.72" y2="869.68" stroke="#000" stroke-width="2.2"/>
<line x1="743.86" y1="761.75" x2="743.86" y2="770.08" stroke="#000" stroke-width="2.2"/>
<line x1="737.61" y1="761.75" x2="750.11" y2="761.75" stroke="#000" stroke-width="2.2"/>
<line x1="737.61" y1="770.08" x2="750.11" y2="770.08" stroke="#000" stroke-width="2.2"/>
<line x1="743.86" y1="860.31" x2="743.86" y2="868.64" stroke="#000" stroke-width="2.2"/>
<line x1="737.61" y1="860.31" x2="750.11" y2="860.31" stroke="#000" stroke-width="2.2"/>
<line x1="737.61" y1="868.64" x2="750.11" y2="868.64" stroke="#000" stroke-width="2.2"/>
<line x1="781.25" y1="754.81" x2="781.25" y2="777.02" stroke="#000" stroke-width="2.2"/>
<line x1="775" y1="754.81" x2="787.5" y2="754.81" stroke="#000" stroke-width="2.2"/>
<line x1="775" y1="777.02" x2="787.5" y2="777.02" stroke="#000" stroke-width="2.2"/>
<line x1="781.25" y1="873.85" x2="781.25" y2="896.41" stroke="#000" stroke-width="2.2"/>
<line x1="775" y1="873.85" x2="787.5" y2="873.85" stroke="#000" stroke-width="2.2"/>
<line x1="775" y1="896.41" x2="787.5" y2="896.41" stroke="#000" stroke-width="2.2"/>
<line x1="818.64" y1="753.42" x2="818.64" y2="778.76" stroke="#000" stroke-width="2.2"/>
<line x1="812.39" y1="753.42" x2="824.89" y2="753.42" stroke="#000" stroke-width="2.2"/>
<line x1="812.39" y1="778.76" x2="824.89" y2="778.76" stroke="#000" stroke-width="2.2"/>
<line x1="818.64" y1="879.75" x2="818.64" y2="905.08" stroke="#000" stroke-width="2.2"/>
<line x1="812.39" y1="879.75" x2="824.89" y2="879.75" stroke="#000" stroke-width="2.2"/>
<line x1="812.39" y1="905.08" x2="824.89" y2="905.08" stroke="#000" stroke-width="2.2"/>
<line x1="930.81" y1="723.92" x2="930.81" y2="808.6" stroke="#000" stroke-width="2.2"/>
<line x1="924.56" y1="723.92" x2="937.06" y2="723.92" stroke="#000" stroke-width="2.2"/>
<line x1="924.56" y1="808.6" x2="937.06" y2="808.6" stroke="#000" stroke-width="2.2"/>
<line x1="930.81" y1="858.92" x2="930.81" y2="943.26" stroke="#000" stroke-width="2.2"/>
<line x1="924.56" y1="858.92" x2="937.06" y2="858.92" stroke="#000" stroke-width="2.2"/>
<line x1="924.56" y1="943.26" x2="937.06" y2="943.26" stroke="#000" stroke-width="2.2"/>
<line x1="968.2" y1="732.6" x2="968.2" y2="799.93" stroke="#000" stroke-width="2.2"/>
<line x1="961.95" y1="732.6" x2="974.45" y2="732.6" stroke="#000" stroke-width="2.2"/>
<line x1="961.95" y1="799.93" x2="974.45" y2="799.93" stroke="#000" stroke-width="2.2"/>
<line x1="968.2" y1="867.25" x2="968.2" y2="934.93" stroke="#000" stroke-width="2.2"/>
<line x1="961.95" y1="867.25" x2="974.45" y2="867.25" stroke="#000" stroke-width="2.2"/>
<line x1="961.95" y1="934.93" x2="974.45" y2="934.93" stroke="#000" stroke-width="2.2"/>
<line x1="1005.59" y1="754.81" x2="1005.59" y2="777.02" stroke="#000" stroke-width="2.2"/>
<line x1="999.34" y1="754.81" x2="1011.84" y2="754.81" stroke="#000" stroke-width="2.2"/>
<line x1="999.34" y1="777.02" x2="1011.84" y2="777.02" stroke="#000" stroke-width="2.2"/>
<line x1="1005.59" y1="884.95" x2="1005.59" y2="907.16" stroke="#000" stroke-width="2.2"/>
<line x1="999.34" y1="884.95" x2="1011.84" y2="884.95" stroke="#000" stroke-width="2.2"/>
<line x1="999.34" y1="907.16" x2="1011.84" y2="907.16" stroke="#000" stroke-width="2.2"/>
<line x1="1042.98" y1="759.67" x2="1042.98" y2="772.16" stroke="#000" stroke-width="2.2"/>
<line x1="1036.73" y1="759.67" x2="1049.23" y2="759.67" stroke="#000" stroke-width="2.2"/>
<line x1="1036.73" y1="772.16" x2="1049.23" y2="772.16" stroke="#000" stroke-width="2.2"/>
<line x1="1042.98" y1="922.09" x2="1042.98" y2="934.58" stroke="#000" stroke-width="2.2"/>
<line x1="1036.73" y1="922.09" x2="1049.23" y2="922.09" stroke="#000" stroke-width="2.2"/>
<line x1="1036.73" y1="934.58" x2="1049.23" y2="934.58" stroke="#000" stroke-width="2.2"/>
<line x1="1155.15" y1="753.42" x2="1155.15" y2="778.76" stroke="#000" stroke-width="2.2"/>
<line x1="1148.9" y1="753.42" x2="1161.4" y2="753.42" stroke="#000" stroke-width="2.2"/>
<line x1="1148.9" y1="778.76" x2="1161.4" y2="778.76" stroke="#000" stroke-width="2.2"/>
<line x1="1155.15" y1="847.12" x2="1155.15" y2="872.46" stroke="#000" stroke-width="2.2"/>
<line x1="1148.9" y1="847.12" x2="1161.4" y2="847.12" stroke="#000" stroke-width="2.2"/>
<line x1="1148.9" y1="872.46" x2="1161.4" y2="872.46" stroke="#000" stroke-width="2.2"/>
<line x1="1192.54" y1="747.87" x2="1192.54" y2="784.31" stroke="#000" stroke-width="2.2"/>
<line x1="1186.29" y1="747.87" x2="1198.79" y2="747.87" stroke="#000" stroke-width="2.2"/>
<line x1="1186.29" y1="784.31" x2="1198.79" y2="784.31" stroke="#000" stroke-width="2.2"/>
<line x1="1192.54" y1="858.92" x2="1192.54" y2="895.02" stroke="#000" stroke-width="2.2"/>
<line x1="1186.29" y1="858.92" x2="1198.79" y2="858.92" stroke="#000" stroke-width="2.2"/>
<line x1="1186.29" y1="895.02" x2="1198.79" y2="895.02" stroke="#000" stroke-width="2.2"/>
<line x1="1229.93" y1="760.36" x2="1229.93" y2="771.81" stroke="#000" stroke-width="2.2"/>
<line x1="1223.68" y1="760.36" x2="1236.18" y2="760.36" stroke="#000" stroke-width="2.2"/>
<line x1="1223.68" y1="771.81" x2="1236.18" y2="771.81" stroke="#000" stroke-width="2.2"/>
<line x1="1229.93" y1="873.15" x2="1229.93" y2="884.95" stroke="#000" stroke-width="2.2"/>
<line x1="1223.68" y1="873.15" x2="1236.18" y2="873.15" stroke="#000" stroke-width="2.2"/>
<line x1="1223.68" y1="884.95" x2="1236.18" y2="884.95" stroke="#000" stroke-width="2.2"/>
<line x1="1267.32" y1="754.12" x2="1267.32" y2="778.06" stroke="#000" stroke-width="2.2"/>
<line x1="1261.07" y1="754.12" x2="1273.57" y2="754.12" stroke="#000" stroke-width="2.2"/>
<line x1="1261.07" y1="778.06" x2="1273.57" y2="778.06" stroke="#000" stroke-width="2.2"/>
<line x1="1267.32" y1="889.12" x2="1267.32" y2="913.06" stroke="#000" stroke-width="2.2"/>
<line x1="1261.07" y1="889.12" x2="1273.57" y2="889.12" stroke="#000" stroke-width="2.2"/>
<line x1="1261.07" y1="913.06" x2="1273.57" y2="913.06" stroke="#000" stroke-width="2.2"/>
<line x1="1379.49" y1="756.2" x2="1379.49" y2="775.63" stroke="#000" stroke-width="2.2"/>
<line x1="1373.24" y1="756.2" x2="1385.74" y2="756.2" stroke="#000" stroke-width="2.2"/>
<line x1="1373.24" y1="775.63" x2="1385.74" y2="775.63" stroke="#000" stroke-width="2.2"/>
<line x1="1379.49" y1="875.58" x2="1379.49" y2="895.02" stroke="#000" stroke-width="2.2"/>
<line x1="1373.24" y1="875.58" x2="1385.74" y2="875.58" stroke="#000" stroke-width="2.2"/>
<line x1="1373.24" y1="895.02" x2="1385.74" y2="895.02" stroke="#000" stroke-width="2.2"/>
<line x1="1416.88" y1="746.13" x2="1416.88" y2="786.04" stroke="#000" stroke-width="2.2"/>
<line x1="1410.63" y1="746.13" x2="1423.13" y2="746.13" stroke="#000" stroke-width="2.2"/>
<line x1="1410.63" y1="786.04" x2="1423.13" y2="786.04" stroke="#000" stroke-width="2.2"/>
<line x1="1416.88" y1="851.98" x2="1416.88" y2="892.24" stroke="#000" stroke-width="2.2"/>
<line x1="1410.63" y1="851.98" x2="1423.13" y2="851.98" stroke="#000" stroke-width="2.2"/>
<line x1="1410.63" y1="892.24" x2="1423.13" y2="892.24" stroke="#000" stroke-width="2.2"/>
<line x1="1454.27" y1="747.17" x2="1454.27" y2="785" stroke="#000" stroke-width="2.2"/>
<line x1="1448.02" y1="747.17" x2="1460.52" y2="747.17" stroke="#000" stroke-width="2.2"/>
<line x1="1448.02" y1="785" x2="1460.52" y2="785" stroke="#000" stroke-width="2.2"/>
<line x1="1454.27" y1="862.39" x2="1454.27" y2="900.57" stroke="#000" stroke-width="2.2"/>
<line x1="1448.02" y1="862.39" x2="1460.52" y2="862.39" stroke="#000" stroke-width="2.2"/>
<line x1="1448.02" y1="900.57" x2="1460.52" y2="900.57" stroke="#000" stroke-width="2.2"/>
<line x1="1491.66" y1="754.81" x2="1491.66" y2="777.02" stroke="#000" stroke-width="2.2"/>
<line x1="1485.41" y1="754.81" x2="1497.91" y2="754.81" stroke="#000" stroke-width="2.2"/>
<line x1="1485.41" y1="777.02" x2="1497.91" y2="777.02" stroke="#000" stroke-width="2.2"/>
<line x1="1491.66" y1="912.72" x2="1491.66" y2="934.93" stroke="#000" stroke-width="2.2"/>
<line x1="1485.41" y1="912.72" x2="1497.91" y2="912.72" stroke="#000" stroke-width="2.2"/>
<line x1="1485.41" y1="934.93" x2="1497.91" y2="934.93" stroke="#000" stroke-width="2.2"/>
<line x1="1603.83" y1="735.03" x2="1603.83" y2="797.5" stroke="#000" stroke-width="2.2"/>
<line x1="1597.58" y1="735.03" x2="1610.08" y2="735.03" stroke="#000" stroke-width="2.2"/>
<line x1="1597.58" y1="797.5" x2="1610.08" y2="797.5" stroke="#000" stroke-width="2.2"/>
<line x1="1603.83" y1="857.54" x2="1603.83" y2="920" stroke="#000" stroke-width="2.2"/>
<line x1="1597.58" y1="857.54" x2="1610.08" y2="857.54" stroke="#000" stroke-width="2.2"/>
<line x1="1597.58" y1="920" x2="1610.08" y2="920" stroke="#000" stroke-width="2.2"/>
<line x1="1641.22" y1="764.18" x2="1641.22" y2="768.34" stroke="#000" stroke-width="2.2"/>
<line x1="1634.97" y1="764.18" x2="1647.47" y2="764.18" stroke="#000" stroke-width="2.2"/>
<line x1="1634.97" y1="768.34" x2="1647.47" y2="768.34" stroke="#000" stroke-width="2.2"/>
<line x1="1641.22" y1="884.61" x2="1641.22" y2="888.77" stroke="#000" stroke-width="2.2"/>
<line x1="1634.97" y1="884.61" x2="1647.47" y2="884.61" stroke="#000" stroke-width="2.2"/>
<line x1="1634.97" y1="888.77" x2="1647.47" y2="888.77" stroke="#000" stroke-width="2.2"/>
<line x1="1678.61" y1="734.33" x2="1678.61" y2="797.84" stroke="#000" stroke-width="2.2"/>
<line x1="1672.36" y1="734.33" x2="1684.86" y2="734.33" stroke="#000" stroke-width="2.2"/>
<line x1="1672.36" y1="797.84" x2="1684.86" y2="797.84" stroke="#000" stroke-width="2.2"/>
<line x1="1678.61" y1="870.38" x2="1678.61" y2="933.89" stroke="#000" stroke-width="2.2"/>
<line x1="1672.36" y1="870.38" x2="1684.86" y2="870.38" stroke="#000" stroke-width="2.2"/>
<line x1="1672.36" y1="933.89" x2="1684.86" y2="933.89" stroke="#000" stroke-width="2.2"/>
<line x1="1716" y1="744.05" x2="1716" y2="788.47" stroke="#000" stroke-width="2.2"/>
<line x1="1709.75" y1="744.05" x2="1722.25" y2="744.05" stroke="#000" stroke-width="2.2"/>
<line x1="1709.75" y1="788.47" x2="1722.25" y2="788.47" stroke="#000" stroke-width="2.2"/>
<line x1="1716" y1="903" x2="1716" y2="947.07" stroke="#000" stroke-width="2.2"/>
<line x1="1709.75" y1="903" x2="1722.25" y2="903" stroke="#000" stroke-width="2.2"/>
<line x1="1709.75" y1="947.07" x2="1722.25" y2="947.07" stroke="#000" stroke-width="2.2"/>
<line x1="196.1" y1="709.9" x2="196.1" y2="1128.6" stroke="#000" stroke-width="3.9"/>
<line x1="183.7" y1="1126.8" x2="1742.5" y2="1126.8" stroke="#000" stroke-width="3.7"/>
<line x1="183.7" y1="766.3" x2="197" y2="766.3" stroke="#000" stroke-width="3.5"/>
<text x="175.6" y="779.1" font-size="29.5" text-anchor="end">100</text>
<line x1="183.7" y1="856.4" x2="197" y2="856.4" stroke="#000" stroke-width="3.5"/>
<text x="175.6" y="870.6" font-size="29.5" text-anchor="end">75</text>
<line x1="183.7" y1="946.5" x2="197" y2="946.5" stroke="#000" stroke-width="3.5"/>
<text x="175.6" y="960.3" font-size="29.5" text-anchor="end">50</text>
<line x1="183.7" y1="1036.6" x2="197" y2="1036.6" stroke="#000" stroke-width="3.5"/>
<text x="175.6" y="1050.3" font-size="29.5" text-anchor="end">25</text>
<text x="175.6" y="1135.1" font-size="29.5" text-anchor="end">0</text>
<line x1="220.2" y1="1126.7" x2="220.2" y2="1139.5" stroke="#000" stroke-width="3.7"/>
<line x1="257.59" y1="1126.7" x2="257.59" y2="1139.5" stroke="#000" stroke-width="3.7"/>
<line x1="294.98" y1="1126.7" x2="294.98" y2="1139.5" stroke="#000" stroke-width="3.7"/>
<line x1="332.37" y1="1126.7" x2="332.37" y2="1139.5" stroke="#000" stroke-width="3.7"/>
<line x1="369.76" y1="1126.7" x2="369.76" y2="1139.5" stroke="#000" stroke-width="3.7"/>
<line x1="407.15" y1="1126.7" x2="407.15" y2="1139.5" stroke="#000" stroke-width="3.7"/>
<line x1="444.54" y1="1126.7" x2="444.54" y2="1139.5" stroke="#000" stroke-width="3.7"/>
<line x1="481.93" y1="1126.7" x2="481.93" y2="1139.5" stroke="#000" stroke-width="3.7"/>
<line x1="519.32" y1="1126.7" x2="519.32" y2="1139.5" stroke="#000" stroke-width="3.7"/>
<line x1="556.71" y1="1126.7" x2="556.71" y2="1139.5" stroke="#000" stroke-width="3.7"/>
<line x1="594.1" y1="1126.7" x2="594.1" y2="1139.5" stroke="#000" stroke-width="3.7"/>
<line x1="631.49" y1="1126.7" x2="631.49" y2="1139.5" stroke="#000" stroke-width="3.7"/>
<line x1="668.88" y1="1126.7" x2="668.88" y2="1139.5" stroke="#000" stroke-width="3.7"/>
<line x1="706.27" y1="1126.7" x2="706.27" y2="1139.5" stroke="#000" stroke-width="3.7"/>
<line x1="743.66" y1="1126.7" x2="743.66" y2="1139.5" stroke="#000" stroke-width="3.7"/>
<line x1="781.05" y1="1126.7" x2="781.05" y2="1139.5" stroke="#000" stroke-width="3.7"/>
<line x1="818.44" y1="1126.7" x2="818.44" y2="1139.5" stroke="#000" stroke-width="3.7"/>
<line x1="855.83" y1="1126.7" x2="855.83" y2="1139.5" stroke="#000" stroke-width="3.7"/>
<line x1="893.22" y1="1126.7" x2="893.22" y2="1139.5" stroke="#000" stroke-width="3.7"/>
<line x1="930.61" y1="1126.7" x2="930.61" y2="1139.5" stroke="#000" stroke-width="3.7"/>
<line x1="968" y1="1126.7" x2="968" y2="1139.5" stroke="#000" stroke-width="3.7"/>
<line x1="1005.39" y1="1126.7" x2="1005.39" y2="1139.5" stroke="#000" stroke-width="3.7"/>
<line x1="1042.78" y1="1126.7" x2="1042.78" y2="1139.5" stroke="#000" stroke-width="3.7"/>
<line x1="1080.17" y1="1126.7" x2="1080.17" y2="1139.5" stroke="#000" stroke-width="3.7"/>
<line x1="1117.56" y1="1126.7" x2="1117.56" y2="1139.5" stroke="#000" stroke-width="3.7"/>
<line x1="1154.95" y1="1126.7" x2="1154.95" y2="1139.5" stroke="#000" stroke-width="3.7"/>
<line x1="1192.34" y1="1126.7" x2="1192.34" y2="1139.5" stroke="#000" stroke-width="3.7"/>
<line x1="1229.73" y1="1126.7" x2="1229.73" y2="1139.5" stroke="#000" stroke-width="3.7"/>
<line x1="1267.12" y1="1126.7" x2="1267.12" y2="1139.5" stroke="#000" stroke-width="3.7"/>
<line x1="1304.51" y1="1126.7" x2="1304.51" y2="1139.5" stroke="#000" stroke-width="3.7"/>
<line x1="1341.9" y1="1126.7" x2="1341.9" y2="1139.5" stroke="#000" stroke-width="3.7"/>
<line x1="1379.29" y1="1126.7" x2="1379.29" y2="1139.5" stroke="#000" stroke-width="3.7"/>
<line x1="1416.68" y1="1126.7" x2="1416.68" y2="1139.5" stroke="#000" stroke-width="3.7"/>
<line x1="1454.07" y1="1126.7" x2="1454.07" y2="1139.5" stroke="#000" stroke-width="3.7"/>
<line x1="1491.46" y1="1126.7" x2="1491.46" y2="1139.5" stroke="#000" stroke-width="3.7"/>
<line x1="1528.85" y1="1126.7" x2="1528.85" y2="1139.5" stroke="#000" stroke-width="3.7"/>
<line x1="1566.24" y1="1126.7" x2="1566.24" y2="1139.5" stroke="#000" stroke-width="3.7"/>
<line x1="1603.63" y1="1126.7" x2="1603.63" y2="1139.5" stroke="#000" stroke-width="3.7"/>
<line x1="1641.02" y1="1126.7" x2="1641.02" y2="1139.5" stroke="#000" stroke-width="3.7"/>
<line x1="1678.41" y1="1126.7" x2="1678.41" y2="1139.5" stroke="#000" stroke-width="3.7"/>
<line x1="1715.8" y1="1126.7" x2="1715.8" y2="1139.5" stroke="#000" stroke-width="3.7"/>
<text x="219.3" y="1168.3" font-size="30.8" text-anchor="middle">0</text>
<text x="260.7" y="1168.3" font-size="30.8" text-anchor="middle">10</text>
<text x="300.6" y="1168.3" font-size="30.8" text-anchor="middle">20</text>
<text x="340.8" y="1168.3" font-size="30.8" text-anchor="middle">30</text>
<text x="381.8" y="1168.3" font-size="30.8" text-anchor="middle">90</text>
<text x="444.2" y="1172.2" font-size="30.8" text-anchor="middle">0</text>
<text x="485.6" y="1172.2" font-size="30.8" text-anchor="middle">10</text>
<text x="525.5" y="1172.2" font-size="30.8" text-anchor="middle">20</text>
<text x="565.7" y="1172.2" font-size="30.8" text-anchor="middle">30</text>
<text x="606.7" y="1172.2" font-size="30.8" text-anchor="middle">90</text>
<text x="668.5" y="1172.2" font-size="30.8" text-anchor="middle">0</text>
<text x="709.9" y="1172.2" font-size="30.8" text-anchor="middle">10</text>
<text x="749.8" y="1172.2" font-size="30.8" text-anchor="middle">20</text>
<text x="790" y="1172.2" font-size="30.8" text-anchor="middle">30</text>
<text x="831" y="1172.2" font-size="30.8" text-anchor="middle">90</text>
<text x="892.5" y="1172.4" font-size="30.8" text-anchor="middle">0</text>
<text x="933.9" y="1172.4" font-size="30.8" text-anchor="middle">10</text>
<text x="973.8" y="1172.4" font-size="30.8" text-anchor="middle">20</text>
<text x="1014" y="1172.4" font-size="30.8" text-anchor="middle">30</text>
<text x="1055" y="1172.4" font-size="30.8" text-anchor="middle">90</text>
<text x="1119.3" y="1174.2" font-size="30.8" text-anchor="middle">0</text>
<text x="1160.7" y="1174.2" font-size="30.8" text-anchor="middle">10</text>
<text x="1200.6" y="1174.2" font-size="30.8" text-anchor="middle">20</text>
<text x="1240.8" y="1174.2" font-size="30.8" text-anchor="middle">30</text>
<text x="1281.8" y="1174.2" font-size="30.8" text-anchor="middle">90</text>
<text x="1344.3" y="1174.7" font-size="30.8" text-anchor="middle">0</text>
<text x="1385.7" y="1174.7" font-size="30.8" text-anchor="middle">10</text>
<text x="1425.6" y="1174.7" font-size="30.8" text-anchor="middle">20</text>
<text x="1465.8" y="1174.7" font-size="30.8" text-anchor="middle">30</text>
<text x="1506.8" y="1174.7" font-size="30.8" text-anchor="middle">90</text>
<text x="1568" y="1174.7" font-size="30.8" text-anchor="middle">0</text>
<text x="1609.4" y="1174.7" font-size="30.8" text-anchor="middle">10</text>
<text x="1649.3" y="1174.7" font-size="30.8" text-anchor="middle">20</text>
<text x="1689.5" y="1174.7" font-size="30.8" text-anchor="middle">30</text>
<text x="1730.5" y="1174.7" font-size="30.8" text-anchor="middle">90</text>
<text x="299.5" y="707.5" font-size="30" text-anchor="middle" word-spacing="-1.5">150 bp</text>
<text x="523.5" y="707.5" font-size="30" text-anchor="middle" word-spacing="-1.5">250 bp</text>
<text x="748.7" y="707.5" font-size="30" text-anchor="middle" word-spacing="-1.5">350 bp</text>
<text x="973.6" y="710" font-size="30" text-anchor="middle" word-spacing="-1.5">450 bp</text>
<text x="1198.8" y="706.5" font-size="30" text-anchor="middle" word-spacing="-1.5">550 bp</text>
<text x="1423.9" y="706.5" font-size="30" text-anchor="middle" word-spacing="-1.5">650 bp</text>
<text x="1650" y="706.5" font-size="30" text-anchor="middle" word-spacing="-1.5">750 bp</text>
<text x="964.7" y="1214.5" font-size="29.5" text-anchor="middle">Time (min)</text>
<text x="110.3" y="894.7" font-size="29.5" text-anchor="middle" transform="rotate(-90 110.3 894.7)" textLength="117.5" lengthAdjust="spacingAndGlyphs">Total (%)</text>
<rect x="1756.7" y="769.7" width="44.4" height="15.2" fill="#ff8000"/>
<rect x="1756.7" y="831.2" width="44.4" height="15.6" fill="#be00be"/>
<text x="1817.5" y="789.3" font-size="29.5">Free DNA</text>
<text x="1817.5" y="849.9" font-size="29.5">SA DNA</text>
<text x="0" y="1268.5" font-size="28.5" font-weight="bold">e</text>
<text x="685" y="1277.7" font-size="28" font-weight="bold">f</text>
<text x="1364" y="1273" font-size="28" font-weight="bold">g</text>
<rect x="100.6" y="1326.2" width="547.7" height="436.1" fill="none" stroke="#000" stroke-width="4"/>
<line x1="128.08" y1="1762.3" x2="128.08" y2="1755.8" stroke="#000" stroke-width="3.3"/>
<line x1="128.08" y1="1326.2" x2="128.08" y2="1332.7" stroke="#000" stroke-width="3.3"/>
<line x1="144.15" y1="1762.3" x2="144.15" y2="1755.8" stroke="#000" stroke-width="3.3"/>
<line x1="144.15" y1="1326.2" x2="144.15" y2="1332.7" stroke="#000" stroke-width="3.3"/>
<line x1="155.56" y1="1762.3" x2="155.56" y2="1755.8" stroke="#000" stroke-width="3.3"/>
<line x1="155.56" y1="1326.2" x2="155.56" y2="1332.7" stroke="#000" stroke-width="3.3"/>
<line x1="164.4" y1="1762.3" x2="164.4" y2="1755.8" stroke="#000" stroke-width="3.3"/>
<line x1="164.4" y1="1326.2" x2="164.4" y2="1332.7" stroke="#000" stroke-width="3.3"/>
<line x1="171.63" y1="1762.3" x2="171.63" y2="1755.8" stroke="#000" stroke-width="3.3"/>
<line x1="171.63" y1="1326.2" x2="171.63" y2="1332.7" stroke="#000" stroke-width="3.3"/>
<line x1="177.74" y1="1762.3" x2="177.74" y2="1755.8" stroke="#000" stroke-width="3.3"/>
<line x1="177.74" y1="1326.2" x2="177.74" y2="1332.7" stroke="#000" stroke-width="3.3"/>
<line x1="183.04" y1="1762.3" x2="183.04" y2="1755.8" stroke="#000" stroke-width="3.3"/>
<line x1="183.04" y1="1326.2" x2="183.04" y2="1332.7" stroke="#000" stroke-width="3.3"/>
<line x1="187.71" y1="1762.3" x2="187.71" y2="1755.8" stroke="#000" stroke-width="3.3"/>
<line x1="187.71" y1="1326.2" x2="187.71" y2="1332.7" stroke="#000" stroke-width="3.3"/>
<line x1="191.88" y1="1762.3" x2="191.88" y2="1750.3" stroke="#000" stroke-width="3.3"/>
<line x1="191.88" y1="1326.2" x2="191.88" y2="1338.2" stroke="#000" stroke-width="3.3"/>
<line x1="219.36" y1="1762.3" x2="219.36" y2="1755.8" stroke="#000" stroke-width="3.3"/>
<line x1="219.36" y1="1326.2" x2="219.36" y2="1332.7" stroke="#000" stroke-width="3.3"/>
<line x1="235.44" y1="1762.3" x2="235.44" y2="1755.8" stroke="#000" stroke-width="3.3"/>
<line x1="235.44" y1="1326.2" x2="235.44" y2="1332.7" stroke="#000" stroke-width="3.3"/>
<line x1="246.84" y1="1762.3" x2="246.84" y2="1755.8" stroke="#000" stroke-width="3.3"/>
<line x1="246.84" y1="1326.2" x2="246.84" y2="1332.7" stroke="#000" stroke-width="3.3"/>
<line x1="255.69" y1="1762.3" x2="255.69" y2="1755.8" stroke="#000" stroke-width="3.3"/>
<line x1="255.69" y1="1326.2" x2="255.69" y2="1332.7" stroke="#000" stroke-width="3.3"/>
<line x1="262.92" y1="1762.3" x2="262.92" y2="1755.8" stroke="#000" stroke-width="3.3"/>
<line x1="262.92" y1="1326.2" x2="262.92" y2="1332.7" stroke="#000" stroke-width="3.3"/>
<line x1="269.03" y1="1762.3" x2="269.03" y2="1755.8" stroke="#000" stroke-width="3.3"/>
<line x1="269.03" y1="1326.2" x2="269.03" y2="1332.7" stroke="#000" stroke-width="3.3"/>
<line x1="274.32" y1="1762.3" x2="274.32" y2="1755.8" stroke="#000" stroke-width="3.3"/>
<line x1="274.32" y1="1326.2" x2="274.32" y2="1332.7" stroke="#000" stroke-width="3.3"/>
<line x1="278.99" y1="1762.3" x2="278.99" y2="1755.8" stroke="#000" stroke-width="3.3"/>
<line x1="278.99" y1="1326.2" x2="278.99" y2="1332.7" stroke="#000" stroke-width="3.3"/>
<line x1="283.17" y1="1762.3" x2="283.17" y2="1750.3" stroke="#000" stroke-width="3.3"/>
<line x1="283.17" y1="1326.2" x2="283.17" y2="1338.2" stroke="#000" stroke-width="3.3"/>
<line x1="310.65" y1="1762.3" x2="310.65" y2="1755.8" stroke="#000" stroke-width="3.3"/>
<line x1="310.65" y1="1326.2" x2="310.65" y2="1332.7" stroke="#000" stroke-width="3.3"/>
<line x1="326.72" y1="1762.3" x2="326.72" y2="1755.8" stroke="#000" stroke-width="3.3"/>
<line x1="326.72" y1="1326.2" x2="326.72" y2="1332.7" stroke="#000" stroke-width="3.3"/>
<line x1="338.12" y1="1762.3" x2="338.12" y2="1755.8" stroke="#000" stroke-width="3.3"/>
<line x1="338.12" y1="1326.2" x2="338.12" y2="1332.7" stroke="#000" stroke-width="3.3"/>
<line x1="346.97" y1="1762.3" x2="346.97" y2="1755.8" stroke="#000" stroke-width="3.3"/>
<line x1="346.97" y1="1326.2" x2="346.97" y2="1332.7" stroke="#000" stroke-width="3.3"/>
<line x1="354.2" y1="1762.3" x2="354.2" y2="1755.8" stroke="#000" stroke-width="3.3"/>
<line x1="354.2" y1="1326.2" x2="354.2" y2="1332.7" stroke="#000" stroke-width="3.3"/>
<line x1="360.31" y1="1762.3" x2="360.31" y2="1755.8" stroke="#000" stroke-width="3.3"/>
<line x1="360.31" y1="1326.2" x2="360.31" y2="1332.7" stroke="#000" stroke-width="3.3"/>
<line x1="365.6" y1="1762.3" x2="365.6" y2="1755.8" stroke="#000" stroke-width="3.3"/>
<line x1="365.6" y1="1326.2" x2="365.6" y2="1332.7" stroke="#000" stroke-width="3.3"/>
<line x1="370.27" y1="1762.3" x2="370.27" y2="1755.8" stroke="#000" stroke-width="3.3"/>
<line x1="370.27" y1="1326.2" x2="370.27" y2="1332.7" stroke="#000" stroke-width="3.3"/>
<line x1="374.45" y1="1762.3" x2="374.45" y2="1750.3" stroke="#000" stroke-width="3.3"/>
<line x1="374.45" y1="1326.2" x2="374.45" y2="1338.2" stroke="#000" stroke-width="3.3"/>
<line x1="401.93" y1="1762.3" x2="401.93" y2="1755.8" stroke="#000" stroke-width="3.3"/>
<line x1="401.93" y1="1326.2" x2="401.93" y2="1332.7" stroke="#000" stroke-width="3.3"/>
<line x1="418" y1="1762.3" x2="418" y2="1755.8" stroke="#000" stroke-width="3.3"/>
<line x1="418" y1="1326.2" x2="418" y2="1332.7" stroke="#000" stroke-width="3.3"/>
<line x1="429.41" y1="1762.3" x2="429.41" y2="1755.8" stroke="#000" stroke-width="3.3"/>
<line x1="429.41" y1="1326.2" x2="429.41" y2="1332.7" stroke="#000" stroke-width="3.3"/>
<line x1="438.25" y1="1762.3" x2="438.25" y2="1755.8" stroke="#000" stroke-width="3.3"/>
<line x1="438.25" y1="1326.2" x2="438.25" y2="1332.7" stroke="#000" stroke-width="3.3"/>
<line x1="445.48" y1="1762.3" x2="445.48" y2="1755.8" stroke="#000" stroke-width="3.3"/>
<line x1="445.48" y1="1326.2" x2="445.48" y2="1332.7" stroke="#000" stroke-width="3.3"/>
<line x1="451.59" y1="1762.3" x2="451.59" y2="1755.8" stroke="#000" stroke-width="3.3"/>
<line x1="451.59" y1="1326.2" x2="451.59" y2="1332.7" stroke="#000" stroke-width="3.3"/>
<line x1="456.89" y1="1762.3" x2="456.89" y2="1755.8" stroke="#000" stroke-width="3.3"/>
<line x1="456.89" y1="1326.2" x2="456.89" y2="1332.7" stroke="#000" stroke-width="3.3"/>
<line x1="461.56" y1="1762.3" x2="461.56" y2="1755.8" stroke="#000" stroke-width="3.3"/>
<line x1="461.56" y1="1326.2" x2="461.56" y2="1332.7" stroke="#000" stroke-width="3.3"/>
<line x1="465.73" y1="1762.3" x2="465.73" y2="1750.3" stroke="#000" stroke-width="3.3"/>
<line x1="465.73" y1="1326.2" x2="465.73" y2="1338.2" stroke="#000" stroke-width="3.3"/>
<line x1="493.21" y1="1762.3" x2="493.21" y2="1755.8" stroke="#000" stroke-width="3.3"/>
<line x1="493.21" y1="1326.2" x2="493.21" y2="1332.7" stroke="#000" stroke-width="3.3"/>
<line x1="509.29" y1="1762.3" x2="509.29" y2="1755.8" stroke="#000" stroke-width="3.3"/>
<line x1="509.29" y1="1326.2" x2="509.29" y2="1332.7" stroke="#000" stroke-width="3.3"/>
<line x1="520.69" y1="1762.3" x2="520.69" y2="1755.8" stroke="#000" stroke-width="3.3"/>
<line x1="520.69" y1="1326.2" x2="520.69" y2="1332.7" stroke="#000" stroke-width="3.3"/>
<line x1="529.54" y1="1762.3" x2="529.54" y2="1755.8" stroke="#000" stroke-width="3.3"/>
<line x1="529.54" y1="1326.2" x2="529.54" y2="1332.7" stroke="#000" stroke-width="3.3"/>
<line x1="536.77" y1="1762.3" x2="536.77" y2="1755.8" stroke="#000" stroke-width="3.3"/>
<line x1="536.77" y1="1326.2" x2="536.77" y2="1332.7" stroke="#000" stroke-width="3.3"/>
<line x1="542.88" y1="1762.3" x2="542.88" y2="1755.8" stroke="#000" stroke-width="3.3"/>
<line x1="542.88" y1="1326.2" x2="542.88" y2="1332.7" stroke="#000" stroke-width="3.3"/>
<line x1="548.17" y1="1762.3" x2="548.17" y2="1755.8" stroke="#000" stroke-width="3.3"/>
<line x1="548.17" y1="1326.2" x2="548.17" y2="1332.7" stroke="#000" stroke-width="3.3"/>
<line x1="552.84" y1="1762.3" x2="552.84" y2="1755.8" stroke="#000" stroke-width="3.3"/>
<line x1="552.84" y1="1326.2" x2="552.84" y2="1332.7" stroke="#000" stroke-width="3.3"/>
<line x1="557.02" y1="1762.3" x2="557.02" y2="1750.3" stroke="#000" stroke-width="3.3"/>
<line x1="557.02" y1="1326.2" x2="557.02" y2="1338.2" stroke="#000" stroke-width="3.3"/>
<line x1="584.5" y1="1762.3" x2="584.5" y2="1755.8" stroke="#000" stroke-width="3.3"/>
<line x1="584.5" y1="1326.2" x2="584.5" y2="1332.7" stroke="#000" stroke-width="3.3"/>
<line x1="600.57" y1="1762.3" x2="600.57" y2="1755.8" stroke="#000" stroke-width="3.3"/>
<line x1="600.57" y1="1326.2" x2="600.57" y2="1332.7" stroke="#000" stroke-width="3.3"/>
<line x1="611.97" y1="1762.3" x2="611.97" y2="1755.8" stroke="#000" stroke-width="3.3"/>
<line x1="611.97" y1="1326.2" x2="611.97" y2="1332.7" stroke="#000" stroke-width="3.3"/>
<line x1="620.82" y1="1762.3" x2="620.82" y2="1755.8" stroke="#000" stroke-width="3.3"/>
<line x1="620.82" y1="1326.2" x2="620.82" y2="1332.7" stroke="#000" stroke-width="3.3"/>
<line x1="628.05" y1="1762.3" x2="628.05" y2="1755.8" stroke="#000" stroke-width="3.3"/>
<line x1="628.05" y1="1326.2" x2="628.05" y2="1332.7" stroke="#000" stroke-width="3.3"/>
<line x1="634.16" y1="1762.3" x2="634.16" y2="1755.8" stroke="#000" stroke-width="3.3"/>
<line x1="634.16" y1="1326.2" x2="634.16" y2="1332.7" stroke="#000" stroke-width="3.3"/>
<line x1="639.45" y1="1762.3" x2="639.45" y2="1755.8" stroke="#000" stroke-width="3.3"/>
<line x1="639.45" y1="1326.2" x2="639.45" y2="1332.7" stroke="#000" stroke-width="3.3"/>
<line x1="644.12" y1="1762.3" x2="644.12" y2="1755.8" stroke="#000" stroke-width="3.3"/>
<line x1="644.12" y1="1326.2" x2="644.12" y2="1332.7" stroke="#000" stroke-width="3.3"/>
<line x1="100.6" y1="1675.08" x2="114.1" y2="1675.08" stroke="#000" stroke-width="3.5"/>
<line x1="648.3" y1="1675.08" x2="634.8" y2="1675.08" stroke="#000" stroke-width="3.5"/>
<line x1="100.6" y1="1587.86" x2="114.1" y2="1587.86" stroke="#000" stroke-width="3.5"/>
<line x1="648.3" y1="1587.86" x2="634.8" y2="1587.86" stroke="#000" stroke-width="3.5"/>
<line x1="100.6" y1="1500.64" x2="114.1" y2="1500.64" stroke="#000" stroke-width="3.5"/>
<line x1="648.3" y1="1500.64" x2="634.8" y2="1500.64" stroke="#000" stroke-width="3.5"/>
<line x1="100.6" y1="1413.42" x2="114.1" y2="1413.42" stroke="#000" stroke-width="3.5"/>
<line x1="648.3" y1="1413.42" x2="634.8" y2="1413.42" stroke="#000" stroke-width="3.5"/>
<g fill="none" stroke-linecap="round" stroke-linejoin="round">
<polyline points="100.6,1759.67 106.69,1759.23 112.77,1758.73 118.86,1758.15 124.94,1757.47 131.03,1756.69 137.11,1755.78 143.2,1754.73 149.28,1753.51 155.37,1752.1 161.46,1750.48 167.54,1748.62 173.63,1746.48 179.71,1744.03 185.8,1741.22 191.88,1738.03 197.97,1734.41 204.05,1730.31 210.14,1725.7 216.23,1720.53 222.31,1714.78 228.4,1708.42 234.48,1701.43 240.57,1693.81 246.65,1685.57 252.74,1676.74 258.82,1667.37 264.91,1657.54 271,1647.32 277.08,1636.82 283.17,1626.15 289.25,1615.45 295.34,1604.83 301.42,1594.42 307.51,1584.33 313.59,1574.65 319.68,1565.47 325.77,1556.85 331.85,1548.84 337.94,1541.45 344.02,1534.69 350.11,1528.55 356.19,1523.02 362.28,1518.06 368.36,1513.64 374.45,1509.72 380.54,1506.25 386.62,1503.21 392.71,1500.54 398.79,1498.2 404.88,1496.17 410.96,1494.39 417.05,1492.86 423.13,1491.52 429.22,1490.37 435.31,1489.37 441.39,1488.51 447.48,1487.76 453.56,1487.12 459.65,1486.57 465.73,1486.1 471.82,1485.69 477.9,1485.34 483.99,1485.03 490.08,1484.77 496.16,1484.55 502.25,1484.36 508.33,1484.19 514.42,1484.05 520.5,1483.93 526.59,1483.83 532.67,1483.74 538.76,1483.66 544.85,1483.59 550.93,1483.54 557.02,1483.49 563.1,1483.45 569.19,1483.41 575.27,1483.38 581.36,1483.35 587.44,1483.33 593.53,1483.31 599.62,1483.3 605.7,1483.28 611.79,1483.27 617.87,1483.26 623.96,1483.25 630.04,1483.24 636.13,1483.24 642.21,1483.23 648.3,1483.23" stroke="#000000" stroke-width="4.2"/>
<polyline points="100.6,1759.91 106.69,1759.51 112.77,1759.06 118.86,1758.53 124.94,1757.91 131.03,1757.19 137.11,1756.37 143.2,1755.4 149.28,1754.29 155.37,1753.01 161.46,1751.53 167.54,1749.82 173.63,1747.86 179.71,1745.61 185.8,1743.03 191.88,1740.09 197.97,1736.74 204.05,1732.95 210.14,1728.67 216.23,1723.86 222.31,1718.49 228.4,1712.53 234.48,1705.94 240.57,1698.73 246.65,1690.9 252.74,1682.46 258.82,1673.45 264.91,1663.93 271,1653.98 277.08,1643.69 283.17,1633.16 289.25,1622.52 295.34,1611.89 301.42,1601.4 307.51,1591.16 313.59,1581.28 319.68,1571.84 325.77,1562.93 331.85,1554.6 337.94,1546.88 344.02,1539.78 350.11,1533.31 356.19,1527.45 362.28,1522.19 368.36,1517.48 374.45,1513.29 380.54,1509.58 386.62,1506.31 392.71,1503.43 398.79,1500.92 404.88,1498.72 410.96,1496.8 417.05,1495.14 423.13,1493.7 429.22,1492.44 435.31,1491.36 441.39,1490.43 447.48,1489.62 453.56,1488.92 459.65,1488.32 465.73,1487.81 471.82,1487.36 477.9,1486.98 483.99,1486.65 490.08,1486.37 496.16,1486.12 502.25,1485.92 508.33,1485.74 514.42,1485.58 520.5,1485.45 526.59,1485.34 532.67,1485.24 538.76,1485.15 544.85,1485.08 550.93,1485.02 557.02,1484.97 563.1,1484.92 569.19,1484.88 575.27,1484.85 581.36,1484.82 587.44,1484.8 593.53,1484.78 599.62,1484.76 605.7,1484.74 611.79,1484.73 617.87,1484.72 623.96,1484.71 630.04,1484.7 636.13,1484.69 642.21,1484.69 648.3,1484.68" stroke="#1a5a1a" stroke-width="4.2"/>
<polyline points="100.6,1759.39 106.69,1758.92 112.77,1758.36 118.86,1757.72 124.94,1756.97 131.03,1756.11 137.11,1755.11 143.2,1753.95 149.28,1752.62 155.37,1751.07 161.46,1749.3 167.54,1747.26 173.63,1744.92 179.71,1742.24 185.8,1739.19 191.88,1735.72 197.97,1731.79 204.05,1727.36 210.14,1722.39 216.23,1716.85 222.31,1710.7 228.4,1703.93 234.48,1696.53 240.57,1688.51 246.65,1679.88 252.74,1670.69 258.82,1661.01 264.91,1650.91 271,1640.49 277.08,1629.87 283.17,1619.17 289.25,1608.51 295.34,1598.01 301.42,1587.8 307.51,1577.96 313.59,1568.61 319.68,1559.79 325.77,1551.56 331.85,1543.95 337.94,1536.97 344.02,1530.62 350.11,1524.87 356.19,1519.72 362.28,1515.12 368.36,1511.03 374.45,1507.41 380.54,1504.22 386.62,1501.43 392.71,1498.98 398.79,1496.84 404.88,1494.98 410.96,1493.37 417.05,1491.97 423.13,1490.75 429.22,1489.7 435.31,1488.79 441.39,1488.01 447.48,1487.34 453.56,1486.75 459.65,1486.25 465.73,1485.82 471.82,1485.45 477.9,1485.13 483.99,1484.86 490.08,1484.62 496.16,1484.42 502.25,1484.25 508.33,1484.1 514.42,1483.97 520.5,1483.86 526.59,1483.77 532.67,1483.69 538.76,1483.62 544.85,1483.56 550.93,1483.5 557.02,1483.46 563.1,1483.42 569.19,1483.39 575.27,1483.36 581.36,1483.34 587.44,1483.32 593.53,1483.3 599.62,1483.29 605.7,1483.27 611.79,1483.26 617.87,1483.25 623.96,1483.24 630.04,1483.24 636.13,1483.23 642.21,1483.23 648.3,1483.22" stroke="#8e1b2b" stroke-width="4.2"/>
<polyline points="100.6,1759.78 106.69,1759.37 112.77,1758.89 118.86,1758.34 124.94,1757.69 131.03,1756.94 137.11,1756.07 143.2,1755.07 149.28,1753.91 155.37,1752.57 161.46,1751.03 167.54,1749.25 173.63,1747.22 179.71,1744.89 185.8,1742.23 191.88,1739.2 197.97,1735.77 204.05,1731.89 210.14,1727.54 216.23,1722.67 222.31,1717.26 228.4,1711.29 234.48,1704.74 240.57,1697.62 246.65,1689.95 252.74,1681.75 258.82,1673.07 264.91,1664 271,1654.6 277.08,1644.98 283.17,1635.25 289.25,1625.52 295.34,1615.9 301.42,1606.5 307.51,1597.42 313.59,1588.75 319.68,1580.55 325.77,1572.88 331.85,1565.76 337.94,1559.21 344.02,1553.24 350.11,1547.83 356.19,1542.96 362.28,1538.61 368.36,1534.73 374.45,1531.3 380.54,1528.27 386.62,1525.61 392.71,1523.28 398.79,1521.24 404.88,1519.47 410.96,1517.93 417.05,1516.59 423.13,1515.43 429.22,1514.43 435.31,1513.56 441.39,1512.81 447.48,1512.16 453.56,1511.61 459.65,1511.13 465.73,1510.71 471.82,1510.36 477.9,1510.05 483.99,1509.79 490.08,1509.57 496.16,1509.37 502.25,1509.21 508.33,1509.06 514.42,1508.94 520.5,1508.84 526.59,1508.75 532.67,1508.67 538.76,1508.6 544.85,1508.54 550.93,1508.49 557.02,1508.45 563.1,1508.42 569.19,1508.39 575.27,1508.36 581.36,1508.34 587.44,1508.32 593.53,1508.3 599.62,1508.29 605.7,1508.27 611.79,1508.26 617.87,1508.25 623.96,1508.25 630.04,1508.24 636.13,1508.23 642.21,1508.23 648.3,1508.22" stroke="#f07fa5" stroke-width="4.2"/>
<polyline points="100.6,1758.94 106.69,1758.39 112.77,1757.76 118.86,1757.02 124.94,1756.16 131.03,1755.16 137.11,1754.01 143.2,1752.68 149.28,1751.15 155.37,1749.38 161.46,1747.35 167.54,1745.02 173.63,1742.35 179.71,1739.3 185.8,1735.84 191.88,1731.91 197.97,1727.48 204.05,1722.5 210.14,1716.93 216.23,1710.75 222.31,1703.92 228.4,1696.45 234.48,1688.32 240.57,1679.56 246.65,1670.21 252.74,1660.33 258.82,1650 264.91,1639.3 271,1628.36 277.08,1617.3 283.17,1606.25 289.25,1595.33 295.34,1584.67 301.42,1574.38 307.51,1564.56 313.59,1555.28 319.68,1546.59 325.77,1538.54 331.85,1531.14 337.94,1524.4 344.02,1518.29 350.11,1512.79 356.19,1507.88 362.28,1503.5 368.36,1499.63 374.45,1496.22 380.54,1493.22 386.62,1490.59 392.71,1488.3 398.79,1486.3 404.88,1484.56 410.96,1483.05 417.05,1481.74 423.13,1480.61 429.22,1479.64 435.31,1478.79 441.39,1478.07 447.48,1477.44 453.56,1476.9 459.65,1476.43 465.73,1476.04 471.82,1475.69 477.9,1475.4 483.99,1475.14 490.08,1474.92 496.16,1474.74 502.25,1474.58 508.33,1474.44 514.42,1474.32 520.5,1474.22 526.59,1474.13 532.67,1474.05 538.76,1473.99 544.85,1473.93 550.93,1473.89 557.02,1473.85 563.1,1473.81 569.19,1473.78 575.27,1473.76 581.36,1473.73 587.44,1473.72 593.53,1473.7 599.62,1473.69 605.7,1473.67 611.79,1473.66 617.87,1473.65 623.96,1473.65 630.04,1473.64 636.13,1473.64 642.21,1473.63 648.3,1473.63" stroke="#d898ee" stroke-width="4.2"/>
<polyline points="100.6,1759.21 106.69,1758.71 112.77,1758.12 118.86,1757.44 124.94,1756.65 131.03,1755.73 137.11,1754.67 143.2,1753.45 149.28,1752.03 155.37,1750.4 161.46,1748.53 167.54,1746.37 173.63,1743.9 179.71,1741.08 185.8,1737.86 191.88,1734.22 197.97,1730.09 204.05,1725.45 210.14,1720.25 216.23,1714.46 222.31,1708.06 228.4,1701.02 234.48,1693.35 240.57,1685.05 246.65,1676.17 252.74,1666.74 258.82,1656.84 264.91,1646.55 271,1635.99 277.08,1625.26 283.17,1614.49 289.25,1603.8 295.34,1593.33 301.42,1583.17 307.51,1573.44 313.59,1564.2 319.68,1555.53 325.77,1547.47 331.85,1540.04 337.94,1533.24 344.02,1527.06 350.11,1521.5 356.19,1516.51 362.28,1512.07 368.36,1508.12 374.45,1504.64 380.54,1501.58 386.62,1498.89 392.71,1496.54 398.79,1494.5 404.88,1492.71 410.96,1491.17 417.05,1489.83 423.13,1488.66 429.22,1487.66 435.31,1486.79 441.39,1486.05 447.48,1485.4 453.56,1484.85 459.65,1484.37 465.73,1483.96 471.82,1483.6 477.9,1483.3 483.99,1483.04 490.08,1482.81 496.16,1482.62 502.25,1482.45 508.33,1482.31 514.42,1482.19 520.5,1482.09 526.59,1482 532.67,1481.92 538.76,1481.85 544.85,1481.79 550.93,1481.75 557.02,1481.7 563.1,1481.67 569.19,1481.64 575.27,1481.61 581.36,1481.59 587.44,1481.57 593.53,1481.55 599.62,1481.54 605.7,1481.53 611.79,1481.52 617.87,1481.51 623.96,1481.5 630.04,1481.49 636.13,1481.49 642.21,1481.48 648.3,1481.48" stroke="#a0682c" stroke-width="4.2"/>
<polyline points="100.6,1760.05 106.69,1759.68 112.77,1759.25 118.86,1758.75 124.94,1758.17 131.03,1757.5 137.11,1756.72 143.2,1755.82 149.28,1754.78 155.37,1753.58 161.46,1752.2 167.54,1750.6 173.63,1748.77 179.71,1746.67 185.8,1744.27 191.88,1741.54 197.97,1738.44 204.05,1734.94 210.14,1731 216.23,1726.58 222.31,1721.66 228.4,1716.22 234.48,1710.24 240.57,1703.73 246.65,1696.68 252.74,1689.13 258.82,1681.12 264.91,1672.71 271,1663.96 277.08,1654.98 283.17,1645.86 289.25,1636.71 295.34,1627.63 301.42,1618.73 307.51,1610.1 313.59,1601.82 319.68,1593.97 325.77,1586.6 331.85,1579.74 337.94,1573.42 344.02,1567.64 350.11,1562.39 356.19,1557.66 362.28,1553.42 368.36,1549.64 374.45,1546.29 380.54,1543.33 386.62,1540.72 392.71,1538.44 398.79,1536.44 404.88,1534.7 410.96,1533.19 417.05,1531.87 423.13,1530.73 429.22,1529.74 435.31,1528.89 441.39,1528.15 447.48,1527.52 453.56,1526.97 459.65,1526.49 465.73,1526.09 471.82,1525.74 477.9,1525.44 483.99,1525.18 490.08,1524.96 496.16,1524.77 502.25,1524.6 508.33,1524.46 514.42,1524.34 520.5,1524.24 526.59,1524.15 532.67,1524.07 538.76,1524 544.85,1523.95 550.93,1523.9 557.02,1523.86 563.1,1523.82 569.19,1523.79 575.27,1523.77 581.36,1523.74 587.44,1523.72 593.53,1523.71 599.62,1523.69 605.7,1523.68 611.79,1523.67 617.87,1523.66 623.96,1523.65 630.04,1523.65 636.13,1523.64 642.21,1523.64 648.3,1523.63" stroke="#7a18a8" stroke-width="4.2"/>
<polyline points="100.6,1760.3 106.69,1759.97 112.77,1759.59 118.86,1759.14 124.94,1758.63 131.03,1758.03 137.11,1757.33 143.2,1756.52 149.28,1755.59 155.37,1754.51 161.46,1753.25 167.54,1751.81 173.63,1750.15 179.71,1748.24 185.8,1746.04 191.88,1743.53 197.97,1740.67 204.05,1737.41 210.14,1733.71 216.23,1729.54 222.31,1724.85 228.4,1719.61 234.48,1713.79 240.57,1707.37 246.65,1700.33 252.74,1692.68 258.82,1684.43 264.91,1675.62 271,1666.32 277.08,1656.58 283.17,1646.5 289.25,1636.19 295.34,1625.77 301.42,1615.35 307.51,1605.05 313.59,1595 319.68,1585.3 325.77,1576.04 331.85,1567.28 337.94,1559.08 344.02,1551.49 350.11,1544.5 356.19,1538.14 362.28,1532.37 368.36,1527.18 374.45,1522.54 380.54,1518.41 386.62,1514.76 392.71,1511.53 398.79,1508.7 404.88,1506.22 410.96,1504.05 417.05,1502.16 423.13,1500.52 429.22,1499.1 435.31,1497.86 441.39,1496.8 447.48,1495.87 453.56,1495.08 459.65,1494.39 465.73,1493.8 471.82,1493.29 477.9,1492.85 483.99,1492.47 490.08,1492.15 496.16,1491.87 502.25,1491.63 508.33,1491.42 514.42,1491.25 520.5,1491.09 526.59,1490.96 532.67,1490.85 538.76,1490.75 544.85,1490.67 550.93,1490.6 557.02,1490.54 563.1,1490.49 569.19,1490.44 575.27,1490.41 581.36,1490.37 587.44,1490.34 593.53,1490.32 599.62,1490.3 605.7,1490.28 611.79,1490.27 617.87,1490.25 623.96,1490.24 630.04,1490.23 636.13,1490.22 642.21,1490.22 648.3,1490.21" stroke="#1010f5" stroke-width="4.2"/>
<polyline points="100.6,1760.79 106.69,1760.54 112.77,1760.25 118.86,1759.92 124.94,1759.53 131.03,1759.08 137.11,1758.56 143.2,1757.95 149.28,1757.25 155.37,1756.44 161.46,1755.5 167.54,1754.42 173.63,1753.18 179.71,1751.75 185.8,1750.12 191.88,1748.26 197.97,1746.13 204.05,1743.72 210.14,1741 216.23,1737.94 222.31,1734.51 228.4,1730.7 234.48,1726.48 240.57,1721.86 246.65,1716.82 252.74,1711.38 258.82,1705.55 264.91,1699.38 271,1692.91 277.08,1686.2 283.17,1679.31 289.25,1672.32 295.34,1665.33 301.42,1658.39 307.51,1651.61 313.59,1645.03 319.68,1638.75 325.77,1632.79 331.85,1627.2 337.94,1622.01 344.02,1617.23 350.11,1612.86 356.19,1608.9 362.28,1605.33 368.36,1602.13 374.45,1599.28 380.54,1596.76 386.62,1594.53 392.71,1592.57 398.79,1590.85 404.88,1589.35 410.96,1588.04 417.05,1586.91 423.13,1585.92 429.22,1585.06 435.31,1584.32 441.39,1583.68 447.48,1583.13 453.56,1582.65 459.65,1582.24 465.73,1581.88 471.82,1581.58 477.9,1581.32 483.99,1581.09 490.08,1580.9 496.16,1580.73 502.25,1580.59 508.33,1580.46 514.42,1580.36 520.5,1580.27 526.59,1580.19 532.67,1580.12 538.76,1580.07 544.85,1580.02 550.93,1579.97 557.02,1579.94 563.1,1579.91 569.19,1579.88 575.27,1579.86 581.36,1579.84 587.44,1579.82 593.53,1579.81 599.62,1579.79 605.7,1579.78 611.79,1579.77 617.87,1579.77 623.96,1579.76 630.04,1579.75 636.13,1579.75 642.21,1579.75 648.3,1579.74" stroke="#1fc026" stroke-width="4.2"/>
<polyline points="100.6,1761.29 106.69,1761.12 112.77,1760.93 118.86,1760.7 124.94,1760.44 131.03,1760.14 137.11,1759.79 143.2,1759.38 149.28,1758.9 155.37,1758.35 161.46,1757.72 167.54,1756.99 173.63,1756.14 179.71,1755.17 185.8,1754.05 191.88,1752.77 197.97,1751.31 204.05,1749.64 210.14,1747.75 216.23,1745.61 222.31,1743.19 228.4,1740.49 234.48,1737.48 240.57,1734.15 246.65,1730.49 252.74,1726.49 258.82,1722.16 264.91,1717.52 271,1712.59 277.08,1707.41 283.17,1702.02 289.25,1696.47 295.34,1690.84 301.42,1685.17 307.51,1679.54 313.59,1674.02 319.68,1668.66 325.77,1663.52 331.85,1658.63 337.94,1654.04 344.02,1649.76 350.11,1645.82 356.19,1642.21 362.28,1638.93 368.36,1635.97 374.45,1633.31 380.54,1630.94 386.62,1628.84 392.71,1626.99 398.79,1625.35 404.88,1623.92 410.96,1622.67 417.05,1621.57 423.13,1620.62 429.22,1619.8 435.31,1619.08 441.39,1618.46 447.48,1617.93 453.56,1617.46 459.65,1617.06 465.73,1616.72 471.82,1616.42 477.9,1616.17 483.99,1615.95 490.08,1615.76 496.16,1615.59 502.25,1615.46 508.33,1615.34 514.42,1615.23 520.5,1615.14 526.59,1615.07 532.67,1615 538.76,1614.95 544.85,1614.9 550.93,1614.86 557.02,1614.82 563.1,1614.79 569.19,1614.76 575.27,1614.74 581.36,1614.72 587.44,1614.71 593.53,1614.69 599.62,1614.68 605.7,1614.67 611.79,1614.66 617.87,1614.65 623.96,1614.65 630.04,1614.64 636.13,1614.64 642.21,1614.63 648.3,1614.63" stroke="#f5b98a" stroke-width="4.2"/>
<polyline points="100.6,1761.38 106.69,1761.23 112.77,1761.05 118.86,1760.84 124.94,1760.61 131.03,1760.33 137.11,1760.01 143.2,1759.64 149.28,1759.21 155.37,1758.71 161.46,1758.14 167.54,1757.47 173.63,1756.71 179.71,1755.84 185.8,1754.83 191.88,1753.69 197.97,1752.38 204.05,1750.89 210.14,1749.21 216.23,1747.32 222.31,1745.2 228.4,1742.84 234.48,1740.23 240.57,1737.35 246.65,1734.21 252.74,1730.81 258.82,1727.16 264.91,1723.29 271,1719.22 277.08,1714.98 283.17,1710.61 289.25,1706.18 295.34,1701.72 301.42,1697.28 307.51,1692.93 313.59,1688.71 319.68,1684.65 325.77,1680.79 331.85,1677.17 337.94,1673.8 344.02,1670.68 350.11,1667.83 356.19,1665.24 362.28,1662.9 368.36,1660.8 374.45,1658.93 380.54,1657.27 386.62,1655.8 392.71,1654.51 398.79,1653.38 404.88,1652.38 410.96,1651.52 417.05,1650.77 423.13,1650.11 429.22,1649.55 435.31,1649.06 441.39,1648.63 447.48,1648.27 453.56,1647.95 459.65,1647.68 465.73,1647.44 471.82,1647.24 477.9,1647.07 483.99,1646.92 490.08,1646.79 496.16,1646.68 502.25,1646.58 508.33,1646.5 514.42,1646.43 520.5,1646.37 526.59,1646.32 532.67,1646.27 538.76,1646.24 544.85,1646.2 550.93,1646.18 557.02,1646.15 563.1,1646.13 569.19,1646.11 575.27,1646.1 581.36,1646.09 587.44,1646.07 593.53,1646.06 599.62,1646.06 605.7,1646.05 611.79,1646.04 617.87,1646.04 623.96,1646.03 630.04,1646.03 636.13,1646.03 642.21,1646.02 648.3,1646.02" stroke="#f01820" stroke-width="4.2"/>
</g>
<line x1="191.88" y1="1704.15" x2="191.88" y2="1744.86" stroke="#000000" stroke-width="3.3"/>
<line x1="186.13" y1="1704.15" x2="197.63" y2="1704.15" stroke="#000000" stroke-width="3.3"/>
<line x1="186.13" y1="1744.86" x2="197.63" y2="1744.86" stroke="#000000" stroke-width="3.3"/>
<circle cx="191.88" cy="1724.5" r="5.6" fill="#000000"/>
<line x1="283.17" y1="1602.4" x2="283.17" y2="1648.91" stroke="#000000" stroke-width="3.3"/>
<line x1="277.42" y1="1602.4" x2="288.92" y2="1602.4" stroke="#000000" stroke-width="3.3"/>
<line x1="277.42" y1="1648.91" x2="288.92" y2="1648.91" stroke="#000000" stroke-width="3.3"/>
<circle cx="283.17" cy="1625.66" r="5.6" fill="#000000"/>
<line x1="374.45" y1="1570.42" x2="374.45" y2="1605.3" stroke="#000000" stroke-width="3.3"/>
<line x1="368.7" y1="1570.42" x2="380.2" y2="1570.42" stroke="#000000" stroke-width="3.3"/>
<line x1="368.7" y1="1605.3" x2="380.2" y2="1605.3" stroke="#000000" stroke-width="3.3"/>
<circle cx="374.45" cy="1587.86" r="5.6" fill="#000000"/>
<line x1="401.93" y1="1467.21" x2="401.93" y2="1516.63" stroke="#000000" stroke-width="3.3"/>
<line x1="396.18" y1="1467.21" x2="407.68" y2="1467.21" stroke="#000000" stroke-width="3.3"/>
<line x1="396.18" y1="1516.63" x2="407.68" y2="1516.63" stroke="#000000" stroke-width="3.3"/>
<circle cx="401.93" cy="1491.92" r="5.6" fill="#000000"/>
<line x1="438.25" y1="1448.31" x2="438.25" y2="1489.01" stroke="#000000" stroke-width="3.3"/>
<line x1="432.5" y1="1448.31" x2="444" y2="1448.31" stroke="#000000" stroke-width="3.3"/>
<line x1="432.5" y1="1489.01" x2="444" y2="1489.01" stroke="#000000" stroke-width="3.3"/>
<circle cx="438.25" cy="1468.66" r="5.6" fill="#000000"/>
<line x1="451.59" y1="1436.68" x2="451.59" y2="1471.57" stroke="#000000" stroke-width="3.3"/>
<line x1="445.84" y1="1436.68" x2="457.34" y2="1436.68" stroke="#000000" stroke-width="3.3"/>
<line x1="445.84" y1="1471.57" x2="457.34" y2="1471.57" stroke="#000000" stroke-width="3.3"/>
<circle cx="451.59" cy="1454.12" r="5.6" fill="#000000"/>
<line x1="461.56" y1="1439.59" x2="461.56" y2="1474.47" stroke="#000000" stroke-width="3.3"/>
<line x1="455.81" y1="1439.59" x2="467.31" y2="1439.59" stroke="#000000" stroke-width="3.3"/>
<line x1="455.81" y1="1474.47" x2="467.31" y2="1474.47" stroke="#000000" stroke-width="3.3"/>
<circle cx="461.56" cy="1457.03" r="5.6" fill="#000000"/>
<line x1="283.17" y1="1643.1" x2="283.17" y2="1672.17" stroke="#1a5a1a" stroke-width="3.3"/>
<line x1="277.42" y1="1643.1" x2="288.92" y2="1643.1" stroke="#1a5a1a" stroke-width="3.3"/>
<line x1="277.42" y1="1672.17" x2="288.92" y2="1672.17" stroke="#1a5a1a" stroke-width="3.3"/>
<path d="M283.17 1650.08 l6.16 7.56 l-6.16 7.56 l-6.16 -7.56 Z" fill="#1a5a1a"/>
<line x1="374.45" y1="1526.81" x2="374.45" y2="1567.51" stroke="#1a5a1a" stroke-width="3.3"/>
<line x1="368.7" y1="1526.81" x2="380.2" y2="1526.81" stroke="#1a5a1a" stroke-width="3.3"/>
<line x1="368.7" y1="1567.51" x2="380.2" y2="1567.51" stroke="#1a5a1a" stroke-width="3.3"/>
<path d="M374.45 1539.6 l6.16 7.56 l-6.16 7.56 l-6.16 -7.56 Z" fill="#1a5a1a"/>
<line x1="401.93" y1="1486.1" x2="401.93" y2="1520.99" stroke="#1a5a1a" stroke-width="3.3"/>
<line x1="396.18" y1="1486.1" x2="407.68" y2="1486.1" stroke="#1a5a1a" stroke-width="3.3"/>
<line x1="396.18" y1="1520.99" x2="407.68" y2="1520.99" stroke="#1a5a1a" stroke-width="3.3"/>
<path d="M401.93 1495.99 l6.16 7.56 l-6.16 7.56 l-6.16 -7.56 Z" fill="#1a5a1a"/>
<line x1="438.25" y1="1468.66" x2="438.25" y2="1503.55" stroke="#1a5a1a" stroke-width="3.3"/>
<line x1="432.5" y1="1468.66" x2="444" y2="1468.66" stroke="#1a5a1a" stroke-width="3.3"/>
<line x1="432.5" y1="1503.55" x2="444" y2="1503.55" stroke="#1a5a1a" stroke-width="3.3"/>
<path d="M438.25 1478.54 l6.16 7.56 l-6.16 7.56 l-6.16 -7.56 Z" fill="#1a5a1a"/>
<line x1="451.59" y1="1462.84" x2="451.59" y2="1497.73" stroke="#1a5a1a" stroke-width="3.3"/>
<line x1="445.84" y1="1462.84" x2="457.34" y2="1462.84" stroke="#1a5a1a" stroke-width="3.3"/>
<line x1="445.84" y1="1497.73" x2="457.34" y2="1497.73" stroke="#1a5a1a" stroke-width="3.3"/>
<path d="M451.59 1472.73 l6.16 7.56 l-6.16 7.56 l-6.16 -7.56 Z" fill="#1a5a1a"/>
<line x1="461.56" y1="1465.75" x2="461.56" y2="1500.64" stroke="#1a5a1a" stroke-width="3.3"/>
<line x1="455.81" y1="1465.75" x2="467.31" y2="1465.75" stroke="#1a5a1a" stroke-width="3.3"/>
<line x1="455.81" y1="1500.64" x2="467.31" y2="1500.64" stroke="#1a5a1a" stroke-width="3.3"/>
<path d="M461.56 1475.64 l6.16 7.56 l-6.16 7.56 l-6.16 -7.56 Z" fill="#1a5a1a"/>
<line x1="283.17" y1="1596.58" x2="283.17" y2="1648.91" stroke="#8e1b2b" stroke-width="3.3"/>
<line x1="277.42" y1="1596.58" x2="288.92" y2="1596.58" stroke="#8e1b2b" stroke-width="3.3"/>
<line x1="277.42" y1="1648.91" x2="288.92" y2="1648.91" stroke="#8e1b2b" stroke-width="3.3"/>
<rect x="277.85" y="1617.43" width="10.64" height="10.64" fill="#8e1b2b"/>
<line x1="374.45" y1="1535.53" x2="374.45" y2="1582.05" stroke="#8e1b2b" stroke-width="3.3"/>
<line x1="368.7" y1="1535.53" x2="380.2" y2="1535.53" stroke="#8e1b2b" stroke-width="3.3"/>
<line x1="368.7" y1="1582.05" x2="380.2" y2="1582.05" stroke="#8e1b2b" stroke-width="3.3"/>
<rect x="369.13" y="1553.47" width="10.64" height="10.64" fill="#8e1b2b"/>
<line x1="401.93" y1="1483.2" x2="401.93" y2="1529.71" stroke="#8e1b2b" stroke-width="3.3"/>
<line x1="396.18" y1="1483.2" x2="407.68" y2="1483.2" stroke="#8e1b2b" stroke-width="3.3"/>
<line x1="396.18" y1="1529.71" x2="407.68" y2="1529.71" stroke="#8e1b2b" stroke-width="3.3"/>
<rect x="396.61" y="1501.13" width="10.64" height="10.64" fill="#8e1b2b"/>
<line x1="438.25" y1="1454.12" x2="438.25" y2="1500.64" stroke="#8e1b2b" stroke-width="3.3"/>
<line x1="432.5" y1="1454.12" x2="444" y2="1454.12" stroke="#8e1b2b" stroke-width="3.3"/>
<line x1="432.5" y1="1500.64" x2="444" y2="1500.64" stroke="#8e1b2b" stroke-width="3.3"/>
<rect x="432.93" y="1472.06" width="10.64" height="10.64" fill="#8e1b2b"/>
<line x1="451.59" y1="1442.49" x2="451.59" y2="1483.2" stroke="#8e1b2b" stroke-width="3.3"/>
<line x1="445.84" y1="1442.49" x2="457.34" y2="1442.49" stroke="#8e1b2b" stroke-width="3.3"/>
<line x1="445.84" y1="1483.2" x2="457.34" y2="1483.2" stroke="#8e1b2b" stroke-width="3.3"/>
<rect x="446.27" y="1457.52" width="10.64" height="10.64" fill="#8e1b2b"/>
<line x1="461.56" y1="1445.4" x2="461.56" y2="1486.1" stroke="#8e1b2b" stroke-width="3.3"/>
<line x1="455.81" y1="1445.4" x2="467.31" y2="1445.4" stroke="#8e1b2b" stroke-width="3.3"/>
<line x1="455.81" y1="1486.1" x2="467.31" y2="1486.1" stroke="#8e1b2b" stroke-width="3.3"/>
<rect x="456.24" y="1460.43" width="10.64" height="10.64" fill="#8e1b2b"/>
<line x1="283.17" y1="1616.93" x2="283.17" y2="1651.82" stroke="#f07fa5" stroke-width="3.3"/>
<line x1="277.42" y1="1616.93" x2="288.92" y2="1616.93" stroke="#f07fa5" stroke-width="3.3"/>
<line x1="277.42" y1="1651.82" x2="288.92" y2="1651.82" stroke="#f07fa5" stroke-width="3.3"/>
<rect x="277.85" y="1629.06" width="10.64" height="10.64" fill="#f07fa5"/>
<line x1="374.45" y1="1550.06" x2="374.45" y2="1590.77" stroke="#f07fa5" stroke-width="3.3"/>
<line x1="368.7" y1="1550.06" x2="380.2" y2="1550.06" stroke="#f07fa5" stroke-width="3.3"/>
<line x1="368.7" y1="1590.77" x2="380.2" y2="1590.77" stroke="#f07fa5" stroke-width="3.3"/>
<rect x="369.13" y="1565.1" width="10.64" height="10.64" fill="#f07fa5"/>
<line x1="401.93" y1="1526.81" x2="401.93" y2="1573.32" stroke="#f07fa5" stroke-width="3.3"/>
<line x1="396.18" y1="1526.81" x2="407.68" y2="1526.81" stroke="#f07fa5" stroke-width="3.3"/>
<line x1="396.18" y1="1573.32" x2="407.68" y2="1573.32" stroke="#f07fa5" stroke-width="3.3"/>
<rect x="396.61" y="1544.74" width="10.64" height="10.64" fill="#f07fa5"/>
<line x1="438.25" y1="1503.55" x2="438.25" y2="1538.44" stroke="#f07fa5" stroke-width="3.3"/>
<line x1="432.5" y1="1503.55" x2="444" y2="1503.55" stroke="#f07fa5" stroke-width="3.3"/>
<line x1="432.5" y1="1538.44" x2="444" y2="1538.44" stroke="#f07fa5" stroke-width="3.3"/>
<rect x="432.93" y="1515.67" width="10.64" height="10.64" fill="#f07fa5"/>
<line x1="451.59" y1="1494.83" x2="451.59" y2="1535.53" stroke="#f07fa5" stroke-width="3.3"/>
<line x1="445.84" y1="1494.83" x2="457.34" y2="1494.83" stroke="#f07fa5" stroke-width="3.3"/>
<line x1="445.84" y1="1535.53" x2="457.34" y2="1535.53" stroke="#f07fa5" stroke-width="3.3"/>
<rect x="446.27" y="1509.86" width="10.64" height="10.64" fill="#f07fa5"/>
<line x1="461.56" y1="1491.92" x2="461.56" y2="1526.81" stroke="#f07fa5" stroke-width="3.3"/>
<line x1="455.81" y1="1491.92" x2="467.31" y2="1491.92" stroke="#f07fa5" stroke-width="3.3"/>
<line x1="455.81" y1="1526.81" x2="467.31" y2="1526.81" stroke="#f07fa5" stroke-width="3.3"/>
<rect x="456.24" y="1504.04" width="10.64" height="10.64" fill="#f07fa5"/>
<line x1="191.88" y1="1724.5" x2="191.88" y2="1741.95" stroke="#d898ee" stroke-width="3.3"/>
<line x1="186.13" y1="1724.5" x2="197.63" y2="1724.5" stroke="#d898ee" stroke-width="3.3"/>
<line x1="186.13" y1="1741.95" x2="197.63" y2="1741.95" stroke="#d898ee" stroke-width="3.3"/>
<path d="M191.88 1739.95 l6.44 -11.2 l-12.88 0 Z" fill="#d898ee"/>
<line x1="283.17" y1="1577.68" x2="283.17" y2="1691.07" stroke="#d898ee" stroke-width="3.3"/>
<line x1="277.42" y1="1577.68" x2="288.92" y2="1577.68" stroke="#d898ee" stroke-width="3.3"/>
<line x1="277.42" y1="1691.07" x2="288.92" y2="1691.07" stroke="#d898ee" stroke-width="3.3"/>
<path d="M283.17 1641.1 l6.44 -11.2 l-12.88 0 Z" fill="#d898ee"/>
<line x1="374.45" y1="1487.56" x2="374.45" y2="1542.8" stroke="#d898ee" stroke-width="3.3"/>
<line x1="368.7" y1="1487.56" x2="380.2" y2="1487.56" stroke="#d898ee" stroke-width="3.3"/>
<line x1="368.7" y1="1542.8" x2="380.2" y2="1542.8" stroke="#d898ee" stroke-width="3.3"/>
<path d="M374.45 1521.9 l6.44 -11.2 l-12.88 0 Z" fill="#d898ee"/>
<line x1="401.93" y1="1480.29" x2="401.93" y2="1532.62" stroke="#d898ee" stroke-width="3.3"/>
<line x1="396.18" y1="1480.29" x2="407.68" y2="1480.29" stroke="#d898ee" stroke-width="3.3"/>
<line x1="396.18" y1="1532.62" x2="407.68" y2="1532.62" stroke="#d898ee" stroke-width="3.3"/>
<path d="M401.93 1513.17 l6.44 -11.2 l-12.88 0 Z" fill="#d898ee"/>
<line x1="438.25" y1="1436.68" x2="438.25" y2="1506.45" stroke="#d898ee" stroke-width="3.3"/>
<line x1="432.5" y1="1436.68" x2="444" y2="1436.68" stroke="#d898ee" stroke-width="3.3"/>
<line x1="432.5" y1="1506.45" x2="444" y2="1506.45" stroke="#d898ee" stroke-width="3.3"/>
<path d="M438.25 1478.29 l6.44 -11.2 l-12.88 0 Z" fill="#d898ee"/>
<line x1="451.59" y1="1417.78" x2="451.59" y2="1484.65" stroke="#d898ee" stroke-width="3.3"/>
<line x1="445.84" y1="1417.78" x2="457.34" y2="1417.78" stroke="#d898ee" stroke-width="3.3"/>
<line x1="445.84" y1="1484.65" x2="457.34" y2="1484.65" stroke="#d898ee" stroke-width="3.3"/>
<path d="M451.59 1457.94 l6.44 -11.2 l-12.88 0 Z" fill="#d898ee"/>
<line x1="461.56" y1="1411.97" x2="461.56" y2="1473.02" stroke="#d898ee" stroke-width="3.3"/>
<line x1="455.81" y1="1411.97" x2="467.31" y2="1411.97" stroke="#d898ee" stroke-width="3.3"/>
<line x1="455.81" y1="1473.02" x2="467.31" y2="1473.02" stroke="#d898ee" stroke-width="3.3"/>
<path d="M461.56 1449.21 l6.44 -11.2 l-12.88 0 Z" fill="#d898ee"/>
<line x1="283.17" y1="1573.32" x2="283.17" y2="1666.36" stroke="#a0682c" stroke-width="3.3"/>
<line x1="277.42" y1="1573.32" x2="288.92" y2="1573.32" stroke="#a0682c" stroke-width="3.3"/>
<line x1="277.42" y1="1666.36" x2="288.92" y2="1666.36" stroke="#a0682c" stroke-width="3.3"/>
<path d="M283.17 1613.12 l6.44 11.2 l-12.88 0 Z" fill="#a0682c"/>
<line x1="374.45" y1="1496.28" x2="374.45" y2="1545.7" stroke="#a0682c" stroke-width="3.3"/>
<line x1="368.7" y1="1496.28" x2="380.2" y2="1496.28" stroke="#a0682c" stroke-width="3.3"/>
<line x1="368.7" y1="1545.7" x2="380.2" y2="1545.7" stroke="#a0682c" stroke-width="3.3"/>
<path d="M374.45 1514.27 l6.44 11.2 l-12.88 0 Z" fill="#a0682c"/>
<line x1="401.93" y1="1486.1" x2="401.93" y2="1538.44" stroke="#a0682c" stroke-width="3.3"/>
<line x1="396.18" y1="1486.1" x2="407.68" y2="1486.1" stroke="#a0682c" stroke-width="3.3"/>
<line x1="396.18" y1="1538.44" x2="407.68" y2="1538.44" stroke="#a0682c" stroke-width="3.3"/>
<path d="M401.93 1505.55 l6.44 11.2 l-12.88 0 Z" fill="#a0682c"/>
<line x1="438.25" y1="1448.31" x2="438.25" y2="1500.64" stroke="#a0682c" stroke-width="3.3"/>
<line x1="432.5" y1="1448.31" x2="444" y2="1448.31" stroke="#a0682c" stroke-width="3.3"/>
<line x1="432.5" y1="1500.64" x2="444" y2="1500.64" stroke="#a0682c" stroke-width="3.3"/>
<path d="M438.25 1467.75 l6.44 11.2 l-12.88 0 Z" fill="#a0682c"/>
<line x1="451.59" y1="1430.86" x2="451.59" y2="1483.2" stroke="#a0682c" stroke-width="3.3"/>
<line x1="445.84" y1="1430.86" x2="457.34" y2="1430.86" stroke="#a0682c" stroke-width="3.3"/>
<line x1="445.84" y1="1483.2" x2="457.34" y2="1483.2" stroke="#a0682c" stroke-width="3.3"/>
<path d="M451.59 1450.31 l6.44 11.2 l-12.88 0 Z" fill="#a0682c"/>
<line x1="461.56" y1="1436.68" x2="461.56" y2="1483.2" stroke="#a0682c" stroke-width="3.3"/>
<line x1="455.81" y1="1436.68" x2="467.31" y2="1436.68" stroke="#a0682c" stroke-width="3.3"/>
<line x1="455.81" y1="1483.2" x2="467.31" y2="1483.2" stroke="#a0682c" stroke-width="3.3"/>
<path d="M461.56 1453.22 l6.44 11.2 l-12.88 0 Z" fill="#a0682c"/>
<line x1="283.17" y1="1628.56" x2="283.17" y2="1651.82" stroke="#7a18a8" stroke-width="3.3"/>
<line x1="277.42" y1="1628.56" x2="288.92" y2="1628.56" stroke="#7a18a8" stroke-width="3.3"/>
<line x1="277.42" y1="1651.82" x2="288.92" y2="1651.82" stroke="#7a18a8" stroke-width="3.3"/>
<circle cx="283.17" cy="1640.19" r="5.6" fill="#7a18a8"/>
<line x1="374.45" y1="1550.06" x2="374.45" y2="1590.77" stroke="#7a18a8" stroke-width="3.3"/>
<line x1="368.7" y1="1550.06" x2="380.2" y2="1550.06" stroke="#7a18a8" stroke-width="3.3"/>
<line x1="368.7" y1="1590.77" x2="380.2" y2="1590.77" stroke="#7a18a8" stroke-width="3.3"/>
<circle cx="374.45" cy="1570.42" r="5.6" fill="#7a18a8"/>
<line x1="401.93" y1="1535.53" x2="401.93" y2="1570.42" stroke="#7a18a8" stroke-width="3.3"/>
<line x1="396.18" y1="1535.53" x2="407.68" y2="1535.53" stroke="#7a18a8" stroke-width="3.3"/>
<line x1="396.18" y1="1570.42" x2="407.68" y2="1570.42" stroke="#7a18a8" stroke-width="3.3"/>
<circle cx="401.93" cy="1552.97" r="5.6" fill="#7a18a8"/>
<line x1="438.25" y1="1518.08" x2="438.25" y2="1547.16" stroke="#7a18a8" stroke-width="3.3"/>
<line x1="432.5" y1="1518.08" x2="444" y2="1518.08" stroke="#7a18a8" stroke-width="3.3"/>
<line x1="432.5" y1="1547.16" x2="444" y2="1547.16" stroke="#7a18a8" stroke-width="3.3"/>
<circle cx="438.25" cy="1532.62" r="5.6" fill="#7a18a8"/>
<line x1="451.59" y1="1506.45" x2="451.59" y2="1535.53" stroke="#7a18a8" stroke-width="3.3"/>
<line x1="445.84" y1="1506.45" x2="457.34" y2="1506.45" stroke="#7a18a8" stroke-width="3.3"/>
<line x1="445.84" y1="1535.53" x2="457.34" y2="1535.53" stroke="#7a18a8" stroke-width="3.3"/>
<circle cx="451.59" cy="1520.99" r="5.6" fill="#7a18a8"/>
<line x1="461.56" y1="1483.2" x2="461.56" y2="1529.71" stroke="#7a18a8" stroke-width="3.3"/>
<line x1="455.81" y1="1483.2" x2="467.31" y2="1483.2" stroke="#7a18a8" stroke-width="3.3"/>
<line x1="455.81" y1="1529.71" x2="467.31" y2="1529.71" stroke="#7a18a8" stroke-width="3.3"/>
<circle cx="461.56" cy="1506.45" r="5.6" fill="#7a18a8"/>
<line x1="283.17" y1="1616.93" x2="283.17" y2="1646.01" stroke="#1010f5" stroke-width="3.3"/>
<line x1="277.42" y1="1616.93" x2="288.92" y2="1616.93" stroke="#1010f5" stroke-width="3.3"/>
<line x1="277.42" y1="1646.01" x2="288.92" y2="1646.01" stroke="#1010f5" stroke-width="3.3"/>
<path d="M283.17 1638.19 l6.44 -11.2 l-12.88 0 Z" fill="#1010f5"/>
<line x1="374.45" y1="1558.79" x2="374.45" y2="1593.67" stroke="#1010f5" stroke-width="3.3"/>
<line x1="368.7" y1="1558.79" x2="380.2" y2="1558.79" stroke="#1010f5" stroke-width="3.3"/>
<line x1="368.7" y1="1593.67" x2="380.2" y2="1593.67" stroke="#1010f5" stroke-width="3.3"/>
<path d="M374.45 1582.95 l6.44 -11.2 l-12.88 0 Z" fill="#1010f5"/>
<line x1="401.93" y1="1520.99" x2="401.93" y2="1561.69" stroke="#1010f5" stroke-width="3.3"/>
<line x1="396.18" y1="1520.99" x2="407.68" y2="1520.99" stroke="#1010f5" stroke-width="3.3"/>
<line x1="396.18" y1="1561.69" x2="407.68" y2="1561.69" stroke="#1010f5" stroke-width="3.3"/>
<path d="M401.93 1548.06 l6.44 -11.2 l-12.88 0 Z" fill="#1010f5"/>
<line x1="438.25" y1="1465.75" x2="438.25" y2="1512.27" stroke="#1010f5" stroke-width="3.3"/>
<line x1="432.5" y1="1465.75" x2="444" y2="1465.75" stroke="#1010f5" stroke-width="3.3"/>
<line x1="432.5" y1="1512.27" x2="444" y2="1512.27" stroke="#1010f5" stroke-width="3.3"/>
<path d="M438.25 1495.73 l6.44 -11.2 l-12.88 0 Z" fill="#1010f5"/>
<line x1="451.59" y1="1459.94" x2="451.59" y2="1506.45" stroke="#1010f5" stroke-width="3.3"/>
<line x1="445.84" y1="1459.94" x2="457.34" y2="1459.94" stroke="#1010f5" stroke-width="3.3"/>
<line x1="445.84" y1="1506.45" x2="457.34" y2="1506.45" stroke="#1010f5" stroke-width="3.3"/>
<path d="M451.59 1489.92 l6.44 -11.2 l-12.88 0 Z" fill="#1010f5"/>
<line x1="461.56" y1="1465.75" x2="461.56" y2="1512.27" stroke="#1010f5" stroke-width="3.3"/>
<line x1="455.81" y1="1465.75" x2="467.31" y2="1465.75" stroke="#1010f5" stroke-width="3.3"/>
<line x1="455.81" y1="1512.27" x2="467.31" y2="1512.27" stroke="#1010f5" stroke-width="3.3"/>
<path d="M461.56 1495.73 l6.44 -11.2 l-12.88 0 Z" fill="#1010f5"/>
<line x1="283.17" y1="1654.73" x2="283.17" y2="1707.06" stroke="#1fc026" stroke-width="3.3"/>
<line x1="277.42" y1="1654.73" x2="288.92" y2="1654.73" stroke="#1fc026" stroke-width="3.3"/>
<line x1="277.42" y1="1707.06" x2="288.92" y2="1707.06" stroke="#1fc026" stroke-width="3.3"/>
<rect x="277.85" y="1675.57" width="10.64" height="10.64" fill="#1fc026"/>
<line x1="374.45" y1="1595.13" x2="374.45" y2="1621.29" stroke="#1fc026" stroke-width="3.3"/>
<line x1="368.7" y1="1595.13" x2="380.2" y2="1595.13" stroke="#1fc026" stroke-width="3.3"/>
<line x1="368.7" y1="1621.29" x2="380.2" y2="1621.29" stroke="#1fc026" stroke-width="3.3"/>
<rect x="369.13" y="1602.89" width="10.64" height="10.64" fill="#1fc026"/>
<line x1="401.93" y1="1590.77" x2="401.93" y2="1614.03" stroke="#1fc026" stroke-width="3.3"/>
<line x1="396.18" y1="1590.77" x2="407.68" y2="1590.77" stroke="#1fc026" stroke-width="3.3"/>
<line x1="396.18" y1="1614.03" x2="407.68" y2="1614.03" stroke="#1fc026" stroke-width="3.3"/>
<rect x="396.61" y="1597.08" width="10.64" height="10.64" fill="#1fc026"/>
<line x1="438.25" y1="1577.68" x2="438.25" y2="1595.13" stroke="#1fc026" stroke-width="3.3"/>
<line x1="432.5" y1="1577.68" x2="444" y2="1577.68" stroke="#1fc026" stroke-width="3.3"/>
<line x1="432.5" y1="1595.13" x2="444" y2="1595.13" stroke="#1fc026" stroke-width="3.3"/>
<rect x="432.93" y="1581.09" width="10.64" height="10.64" fill="#1fc026"/>
<line x1="451.59" y1="1564.6" x2="451.59" y2="1593.67" stroke="#1fc026" stroke-width="3.3"/>
<line x1="445.84" y1="1564.6" x2="457.34" y2="1564.6" stroke="#1fc026" stroke-width="3.3"/>
<line x1="445.84" y1="1593.67" x2="457.34" y2="1593.67" stroke="#1fc026" stroke-width="3.3"/>
<rect x="446.27" y="1573.82" width="10.64" height="10.64" fill="#1fc026"/>
<line x1="461.56" y1="1548.61" x2="461.56" y2="1583.5" stroke="#1fc026" stroke-width="3.3"/>
<line x1="455.81" y1="1548.61" x2="467.31" y2="1548.61" stroke="#1fc026" stroke-width="3.3"/>
<line x1="455.81" y1="1583.5" x2="467.31" y2="1583.5" stroke="#1fc026" stroke-width="3.3"/>
<rect x="456.24" y="1560.74" width="10.64" height="10.64" fill="#1fc026"/>
<line x1="191.88" y1="1747.76" x2="191.88" y2="1765.21" stroke="#f5b98a" stroke-width="3.3"/>
<line x1="186.13" y1="1747.76" x2="197.63" y2="1747.76" stroke="#f5b98a" stroke-width="3.3"/>
<line x1="186.13" y1="1765.21" x2="197.63" y2="1765.21" stroke="#f5b98a" stroke-width="3.3"/>
<path d="M191.88 1748.93 l6.16 7.56 l-6.16 7.56 l-6.16 -7.56 Z" fill="#f5b98a"/>
<line x1="374.45" y1="1616.93" x2="374.45" y2="1669.27" stroke="#f5b98a" stroke-width="3.3"/>
<line x1="368.7" y1="1616.93" x2="380.2" y2="1616.93" stroke="#f5b98a" stroke-width="3.3"/>
<line x1="368.7" y1="1669.27" x2="380.2" y2="1669.27" stroke="#f5b98a" stroke-width="3.3"/>
<path d="M374.45 1635.54 l6.16 7.56 l-6.16 7.56 l-6.16 -7.56 Z" fill="#f5b98a"/>
<line x1="401.93" y1="1605.3" x2="401.93" y2="1646.01" stroke="#f5b98a" stroke-width="3.3"/>
<line x1="396.18" y1="1605.3" x2="407.68" y2="1605.3" stroke="#f5b98a" stroke-width="3.3"/>
<line x1="396.18" y1="1646.01" x2="407.68" y2="1646.01" stroke="#f5b98a" stroke-width="3.3"/>
<path d="M401.93 1618.1 l6.16 7.56 l-6.16 7.56 l-6.16 -7.56 Z" fill="#f5b98a"/>
<line x1="438.25" y1="1606.76" x2="438.25" y2="1621.29" stroke="#f5b98a" stroke-width="3.3"/>
<line x1="432.5" y1="1606.76" x2="444" y2="1606.76" stroke="#f5b98a" stroke-width="3.3"/>
<line x1="432.5" y1="1621.29" x2="444" y2="1621.29" stroke="#f5b98a" stroke-width="3.3"/>
<path d="M438.25 1606.47 l6.16 7.56 l-6.16 7.56 l-6.16 -7.56 Z" fill="#f5b98a"/>
<line x1="451.59" y1="1611.12" x2="451.59" y2="1622.75" stroke="#f5b98a" stroke-width="3.3"/>
<line x1="445.84" y1="1611.12" x2="457.34" y2="1611.12" stroke="#f5b98a" stroke-width="3.3"/>
<line x1="445.84" y1="1622.75" x2="457.34" y2="1622.75" stroke="#f5b98a" stroke-width="3.3"/>
<path d="M451.59 1609.37 l6.16 7.56 l-6.16 7.56 l-6.16 -7.56 Z" fill="#f5b98a"/>
<line x1="461.56" y1="1596.58" x2="461.56" y2="1637.28" stroke="#f5b98a" stroke-width="3.3"/>
<line x1="455.81" y1="1596.58" x2="467.31" y2="1596.58" stroke="#f5b98a" stroke-width="3.3"/>
<line x1="455.81" y1="1637.28" x2="467.31" y2="1637.28" stroke="#f5b98a" stroke-width="3.3"/>
<path d="M461.56 1609.37 l6.16 7.56 l-6.16 7.56 l-6.16 -7.56 Z" fill="#f5b98a"/>
<line x1="191.88" y1="1741.95" x2="191.88" y2="1756.49" stroke="#f01820" stroke-width="3.3"/>
<line x1="186.13" y1="1741.95" x2="197.63" y2="1741.95" stroke="#f01820" stroke-width="3.3"/>
<line x1="186.13" y1="1756.49" x2="197.63" y2="1756.49" stroke="#f01820" stroke-width="3.3"/>
<circle cx="191.88" cy="1749.22" r="5.6" fill="#f01820"/>
<line x1="283.17" y1="1698.34" x2="283.17" y2="1727.41" stroke="#f01820" stroke-width="3.3"/>
<line x1="277.42" y1="1698.34" x2="288.92" y2="1698.34" stroke="#f01820" stroke-width="3.3"/>
<line x1="277.42" y1="1727.41" x2="288.92" y2="1727.41" stroke="#f01820" stroke-width="3.3"/>
<circle cx="283.17" cy="1712.88" r="5.6" fill="#f01820"/>
<line x1="374.45" y1="1663.45" x2="374.45" y2="1680.89" stroke="#f01820" stroke-width="3.3"/>
<line x1="368.7" y1="1663.45" x2="380.2" y2="1663.45" stroke="#f01820" stroke-width="3.3"/>
<line x1="368.7" y1="1680.89" x2="380.2" y2="1680.89" stroke="#f01820" stroke-width="3.3"/>
<circle cx="374.45" cy="1672.17" r="5.6" fill="#f01820"/>
<line x1="401.93" y1="1637.28" x2="401.93" y2="1695.43" stroke="#f01820" stroke-width="3.3"/>
<line x1="396.18" y1="1637.28" x2="407.68" y2="1637.28" stroke="#f01820" stroke-width="3.3"/>
<line x1="396.18" y1="1695.43" x2="407.68" y2="1695.43" stroke="#f01820" stroke-width="3.3"/>
<circle cx="401.93" cy="1666.36" r="5.6" fill="#f01820"/>
<line x1="438.25" y1="1643.1" x2="438.25" y2="1660.54" stroke="#f01820" stroke-width="3.3"/>
<line x1="432.5" y1="1643.1" x2="444" y2="1643.1" stroke="#f01820" stroke-width="3.3"/>
<line x1="432.5" y1="1660.54" x2="444" y2="1660.54" stroke="#f01820" stroke-width="3.3"/>
<circle cx="438.25" cy="1651.82" r="5.6" fill="#f01820"/>
<line x1="451.59" y1="1625.66" x2="451.59" y2="1657.64" stroke="#f01820" stroke-width="3.3"/>
<line x1="445.84" y1="1625.66" x2="457.34" y2="1625.66" stroke="#f01820" stroke-width="3.3"/>
<line x1="445.84" y1="1657.64" x2="457.34" y2="1657.64" stroke="#f01820" stroke-width="3.3"/>
<circle cx="451.59" cy="1641.65" r="5.6" fill="#f01820"/>
<line x1="461.56" y1="1621.29" x2="461.56" y2="1647.46" stroke="#f01820" stroke-width="3.3"/>
<line x1="455.81" y1="1621.29" x2="467.31" y2="1621.29" stroke="#f01820" stroke-width="3.3"/>
<line x1="455.81" y1="1647.46" x2="467.31" y2="1647.46" stroke="#f01820" stroke-width="3.3"/>
<circle cx="461.56" cy="1634.38" r="5.6" fill="#f01820"/>
<circle cx="101.1" cy="1762.3" r="6.2" fill="#ff1018"/>
<text x="93.2" y="1774.5" font-size="29.5" text-anchor="end">0</text>
<text x="93.2" y="1686.68" font-size="29.5" text-anchor="end">3</text>
<text x="93.2" y="1599.66" font-size="29.5" text-anchor="end">6</text>
<text x="93.2" y="1511.44" font-size="29.5" text-anchor="end">9</text>
<text x="93.2" y="1427.22" font-size="29.5" text-anchor="end">12</text>
<text x="93.2" y="1343.3" font-size="29.5" text-anchor="end">15</text>
<text x="113.6" y="1805.5" font-size="29.5" text-anchor="middle">0.01</text>
<text x="211.38" y="1805.5" font-size="29.5" text-anchor="middle">0.1</text>
<text x="283.17" y="1805.5" font-size="29.5" text-anchor="middle">1</text>
<text x="374.45" y="1805.5" font-size="29.5" text-anchor="middle">10</text>
<text x="465.73" y="1805.5" font-size="29.5" text-anchor="middle">100</text>
<text x="557.02" y="1805.5" font-size="29.5" text-anchor="middle">1000</text>
<text x="645.3" y="1805.5" font-size="29.5" text-anchor="middle">10<tspan font-size="19" dy="-11">4</tspan></text>
<text x="368" y="1853.5" font-size="29.5" text-anchor="middle">[DNA] (µMbp)</text>
<text x="36" y="1537.6" font-size="29.5" text-anchor="middle" transform="rotate(-90 36 1537.6)" textLength="239" lengthAdjust="spacingAndGlyphs">ADP/sec/DndFGH</text>
<text x="117.3" y="1367.3" font-size="29.5" textLength="322.5" lengthAdjust="spacingAndGlyphs">non-PT DNA Length (bp)</text>
<text x="191.2" y="1399.2" font-size="25.3" text-anchor="middle" fill="#f01820" style="stroke:#f01820">30</text>
<text x="191.2" y="1429.1" font-size="25.3" text-anchor="middle" fill="#f5b98a" style="stroke:#f5b98a">40</text>
<text x="191.2" y="1459" font-size="25.3" text-anchor="middle" fill="#1fc026" style="stroke:#1fc026">60</text>
<text x="191.2" y="1488.9" font-size="25.3" text-anchor="middle" fill="#7a18a8" style="stroke:#7a18a8">100</text>
<text x="191.2" y="1518.8" font-size="25.3" text-anchor="middle" fill="#1010f5" style="stroke:#1010f5">150</text>
<text x="191.2" y="1548.7" font-size="25.3" text-anchor="middle" fill="#a0682c" style="stroke:#a0682c">250</text>
<text x="191.2" y="1578.6" font-size="25.3" text-anchor="middle" fill="#d898ee" style="stroke:#d898ee">350</text>
<text x="191.2" y="1608.5" font-size="25.3" text-anchor="middle" fill="#000000" style="stroke:#000000">450</text>
<text x="191.2" y="1638.4" font-size="25.3" text-anchor="middle" fill="#8e1b2b" style="stroke:#8e1b2b">550</text>
<text x="191.2" y="1668.3" font-size="25.3" text-anchor="middle" fill="#f07fa5" style="stroke:#f07fa5">650</text>
<text x="191.2" y="1698.2" font-size="25.3" text-anchor="middle" fill="#1a5a1a" style="stroke:#1a5a1a">750</text>
<line x1="820.34" y1="1702.07" x2="820.34" y2="1729.84" stroke="#000" stroke-width="3.4"/>
<line x1="812.94" y1="1702.07" x2="827.74" y2="1702.07" stroke="#000" stroke-width="3.4"/>
<line x1="812.94" y1="1729.84" x2="827.74" y2="1729.84" stroke="#000" stroke-width="3.4"/>
<ellipse cx="820.34" cy="1716.65" rx="7.8" ry="8.4" fill="#000"/>
<line x1="861.98" y1="1679.51" x2="861.98" y2="1734" stroke="#000" stroke-width="3.4"/>
<line x1="854.58" y1="1679.51" x2="869.38" y2="1679.51" stroke="#000" stroke-width="3.4"/>
<line x1="854.58" y1="1734" x2="869.38" y2="1734" stroke="#000" stroke-width="3.4"/>
<ellipse cx="861.98" cy="1707.63" rx="7.8" ry="8.4" fill="#000"/>
<line x1="920.98" y1="1698.25" x2="920.98" y2="1739.55" stroke="#000" stroke-width="3.4"/>
<line x1="913.58" y1="1698.25" x2="928.38" y2="1698.25" stroke="#000" stroke-width="3.4"/>
<line x1="913.58" y1="1739.55" x2="928.38" y2="1739.55" stroke="#000" stroke-width="3.4"/>
<ellipse cx="920.98" cy="1719.08" rx="7.8" ry="8.4" fill="#000"/>
<line x1="995.6" y1="1677.43" x2="995.6" y2="1738.51" stroke="#000" stroke-width="3.4"/>
<line x1="988.2" y1="1677.43" x2="1003" y2="1677.43" stroke="#000" stroke-width="3.4"/>
<line x1="988.2" y1="1738.51" x2="1003" y2="1738.51" stroke="#000" stroke-width="3.4"/>
<ellipse cx="995.6" cy="1708.32" rx="7.8" ry="8.4" fill="#000"/>
<line x1="1054.6" y1="1574.01" x2="1054.6" y2="1741.64" stroke="#000" stroke-width="3.4"/>
<line x1="1047.2" y1="1574.01" x2="1062" y2="1574.01" stroke="#000" stroke-width="3.4"/>
<line x1="1047.2" y1="1741.64" x2="1062" y2="1741.64" stroke="#000" stroke-width="3.4"/>
<ellipse cx="1054.6" cy="1658.34" rx="7.8" ry="8.4" fill="#000"/>
<line x1="1129.21" y1="1659.04" x2="1129.21" y2="1761.07" stroke="#000" stroke-width="3.4"/>
<line x1="1121.81" y1="1659.04" x2="1136.61" y2="1659.04" stroke="#000" stroke-width="3.4"/>
<line x1="1121.81" y1="1761.07" x2="1136.61" y2="1761.07" stroke="#000" stroke-width="3.4"/>
<ellipse cx="1129.21" cy="1710.05" rx="7.8" ry="8.4" fill="#000"/>
<line x1="1177.8" y1="1705.2" x2="1177.8" y2="1748.23" stroke="#000" stroke-width="3.4"/>
<line x1="1170.4" y1="1705.2" x2="1185.2" y2="1705.2" stroke="#000" stroke-width="3.4"/>
<line x1="1170.4" y1="1748.23" x2="1185.2" y2="1748.23" stroke="#000" stroke-width="3.4"/>
<ellipse cx="1177.8" cy="1727.06" rx="7.8" ry="8.4" fill="#000"/>
<line x1="1214.59" y1="1615.31" x2="1214.59" y2="1732.61" stroke="#000" stroke-width="3.4"/>
<line x1="1207.19" y1="1615.31" x2="1221.99" y2="1615.31" stroke="#000" stroke-width="3.4"/>
<line x1="1207.19" y1="1732.61" x2="1221.99" y2="1732.61" stroke="#000" stroke-width="3.4"/>
<ellipse cx="1214.59" cy="1674.31" rx="7.8" ry="8.4" fill="#000"/>
<line x1="1244.09" y1="1696.87" x2="1244.09" y2="1747.19" stroke="#000" stroke-width="3.4"/>
<line x1="1236.69" y1="1696.87" x2="1251.49" y2="1696.87" stroke="#000" stroke-width="3.4"/>
<line x1="1236.69" y1="1747.19" x2="1251.49" y2="1747.19" stroke="#000" stroke-width="3.4"/>
<ellipse cx="1244.09" cy="1721.85" rx="7.8" ry="8.4" fill="#000"/>
<line x1="1268.03" y1="1686.11" x2="1268.03" y2="1744.76" stroke="#000" stroke-width="3.4"/>
<line x1="1260.63" y1="1686.11" x2="1275.43" y2="1686.11" stroke="#000" stroke-width="3.4"/>
<line x1="1260.63" y1="1744.76" x2="1275.43" y2="1744.76" stroke="#000" stroke-width="3.4"/>
<ellipse cx="1268.03" cy="1716.3" rx="7.8" ry="8.4" fill="#000"/>
<line x1="1288.85" y1="1664.24" x2="1288.85" y2="1730.88" stroke="#000" stroke-width="3.4"/>
<line x1="1281.45" y1="1664.24" x2="1296.25" y2="1664.24" stroke="#000" stroke-width="3.4"/>
<line x1="1281.45" y1="1730.88" x2="1296.25" y2="1730.88" stroke="#000" stroke-width="3.4"/>
<ellipse cx="1288.85" cy="1698.6" rx="7.8" ry="8.4" fill="#000"/>
<rect x="761.3" y="1324.2" width="570.2" height="440.3" fill="none" stroke="#000" stroke-width="4"/>
<line x1="820.4" y1="1764.5" x2="820.4" y2="1757" stroke="#000" stroke-width="3.2"/>
<line x1="820.4" y1="1324.2" x2="820.4" y2="1331.7" stroke="#000" stroke-width="3.2"/>
<line x1="862.33" y1="1764.5" x2="862.33" y2="1757" stroke="#000" stroke-width="3.2"/>
<line x1="862.33" y1="1324.2" x2="862.33" y2="1331.7" stroke="#000" stroke-width="3.2"/>
<line x1="894.85" y1="1764.5" x2="894.85" y2="1757" stroke="#000" stroke-width="3.2"/>
<line x1="894.85" y1="1324.2" x2="894.85" y2="1331.7" stroke="#000" stroke-width="3.2"/>
<line x1="921.43" y1="1764.5" x2="921.43" y2="1757" stroke="#000" stroke-width="3.2"/>
<line x1="921.43" y1="1324.2" x2="921.43" y2="1331.7" stroke="#000" stroke-width="3.2"/>
<line x1="943.9" y1="1764.5" x2="943.9" y2="1757" stroke="#000" stroke-width="3.2"/>
<line x1="943.9" y1="1324.2" x2="943.9" y2="1331.7" stroke="#000" stroke-width="3.2"/>
<line x1="963.36" y1="1764.5" x2="963.36" y2="1757" stroke="#000" stroke-width="3.2"/>
<line x1="963.36" y1="1324.2" x2="963.36" y2="1331.7" stroke="#000" stroke-width="3.2"/>
<line x1="980.53" y1="1764.5" x2="980.53" y2="1757" stroke="#000" stroke-width="3.2"/>
<line x1="980.53" y1="1324.2" x2="980.53" y2="1331.7" stroke="#000" stroke-width="3.2"/>
<line x1="995.88" y1="1764.5" x2="995.88" y2="1752" stroke="#000" stroke-width="3.2"/>
<line x1="995.88" y1="1324.2" x2="995.88" y2="1336.7" stroke="#000" stroke-width="3.2"/>
<line x1="1096.92" y1="1764.5" x2="1096.92" y2="1757" stroke="#000" stroke-width="3.2"/>
<line x1="1096.92" y1="1324.2" x2="1096.92" y2="1331.7" stroke="#000" stroke-width="3.2"/>
<line x1="1156.01" y1="1764.5" x2="1156.01" y2="1757" stroke="#000" stroke-width="3.2"/>
<line x1="1156.01" y1="1324.2" x2="1156.01" y2="1331.7" stroke="#000" stroke-width="3.2"/>
<line x1="1197.95" y1="1764.5" x2="1197.95" y2="1757" stroke="#000" stroke-width="3.2"/>
<line x1="1197.95" y1="1324.2" x2="1197.95" y2="1331.7" stroke="#000" stroke-width="3.2"/>
<line x1="1230.47" y1="1764.5" x2="1230.47" y2="1757" stroke="#000" stroke-width="3.2"/>
<line x1="1230.47" y1="1324.2" x2="1230.47" y2="1331.7" stroke="#000" stroke-width="3.2"/>
<line x1="1257.04" y1="1764.5" x2="1257.04" y2="1757" stroke="#000" stroke-width="3.2"/>
<line x1="1257.04" y1="1324.2" x2="1257.04" y2="1331.7" stroke="#000" stroke-width="3.2"/>
<line x1="1279.51" y1="1764.5" x2="1279.51" y2="1757" stroke="#000" stroke-width="3.2"/>
<line x1="1279.51" y1="1324.2" x2="1279.51" y2="1331.7" stroke="#000" stroke-width="3.2"/>
<line x1="1298.98" y1="1764.5" x2="1298.98" y2="1757" stroke="#000" stroke-width="3.2"/>
<line x1="1298.98" y1="1324.2" x2="1298.98" y2="1331.7" stroke="#000" stroke-width="3.2"/>
<line x1="1316.14" y1="1764.5" x2="1316.14" y2="1757" stroke="#000" stroke-width="3.2"/>
<line x1="1316.14" y1="1324.2" x2="1316.14" y2="1331.7" stroke="#000" stroke-width="3.2"/>
<line x1="761.3" y1="1676.44" x2="773.3" y2="1676.44" stroke="#000" stroke-width="3.4"/>
<line x1="1331.5" y1="1676.44" x2="1319.5" y2="1676.44" stroke="#000" stroke-width="3.4"/>
<line x1="761.3" y1="1588.38" x2="773.3" y2="1588.38" stroke="#000" stroke-width="3.4"/>
<line x1="1331.5" y1="1588.38" x2="1319.5" y2="1588.38" stroke="#000" stroke-width="3.4"/>
<line x1="761.3" y1="1500.32" x2="773.3" y2="1500.32" stroke="#000" stroke-width="3.4"/>
<line x1="1331.5" y1="1500.32" x2="1319.5" y2="1500.32" stroke="#000" stroke-width="3.4"/>
<line x1="761.3" y1="1412.26" x2="773.3" y2="1412.26" stroke="#000" stroke-width="3.4"/>
<line x1="1331.5" y1="1412.26" x2="1319.5" y2="1412.26" stroke="#000" stroke-width="3.4"/>
<text x="752.5" y="1777.7" font-size="29.5" text-anchor="end">0</text>
<text x="752.5" y="1688.94" font-size="29.5" text-anchor="end">3</text>
<text x="752.5" y="1602.68" font-size="29.5" text-anchor="end">6</text>
<text x="752.5" y="1514.62" font-size="29.5" text-anchor="end">9</text>
<text x="752.5" y="1424.76" font-size="29.5" text-anchor="end">12</text>
<text x="752.5" y="1342.6" font-size="29.5" text-anchor="end">15</text>
<text x="763.3" y="1802.4" font-size="29.5" text-anchor="middle">20</text>
<text x="1006.18" y="1802.4" font-size="29.5" text-anchor="middle">100</text>
<text x="1319.5" y="1802.4" font-size="29.5" text-anchor="middle">1000</text>
<text x="1038.5" y="1852" font-size="29.5" text-anchor="middle" xml:space="preserve">DNA  Length (bp)</text>
<text x="707.5" y="1560" font-size="29.5" text-anchor="middle" textLength="135.5" lengthAdjust="spacingAndGlyphs" transform="rotate(-90 707.5 1560)">K<tspan font-size="19" dy="5">m</tspan><tspan dy="-5"> (µMbp)</tspan></text>
<line x1="1515.17" y1="1633.7" x2="1515.17" y2="1653.49" stroke="#000" stroke-width="3.4"/>
<line x1="1507.77" y1="1633.7" x2="1522.57" y2="1633.7" stroke="#000" stroke-width="3.4"/>
<line x1="1507.77" y1="1653.49" x2="1522.57" y2="1653.49" stroke="#000" stroke-width="3.4"/>
<ellipse cx="1515.17" cy="1643.42" rx="7.8" ry="8.4" fill="#000"/>
<line x1="1557.51" y1="1595.88" x2="1557.51" y2="1627.11" stroke="#000" stroke-width="3.4"/>
<line x1="1550.11" y1="1595.88" x2="1564.91" y2="1595.88" stroke="#000" stroke-width="3.4"/>
<line x1="1550.11" y1="1627.11" x2="1564.91" y2="1627.11" stroke="#000" stroke-width="3.4"/>
<ellipse cx="1557.51" cy="1611.84" rx="7.8" ry="8.4" fill="#000"/>
<line x1="1617.55" y1="1566.72" x2="1617.55" y2="1584.42" stroke="#000" stroke-width="3.4"/>
<line x1="1610.15" y1="1566.72" x2="1624.95" y2="1566.72" stroke="#000" stroke-width="3.4"/>
<line x1="1610.15" y1="1584.42" x2="1624.95" y2="1584.42" stroke="#000" stroke-width="3.4"/>
<ellipse cx="1617.55" cy="1575.75" rx="7.8" ry="8.4" fill="#000"/>
<line x1="1692.17" y1="1495.99" x2="1692.17" y2="1535.9" stroke="#000" stroke-width="3.4"/>
<line x1="1684.77" y1="1495.99" x2="1699.57" y2="1495.99" stroke="#000" stroke-width="3.4"/>
<line x1="1684.77" y1="1535.9" x2="1699.57" y2="1535.9" stroke="#000" stroke-width="3.4"/>
<ellipse cx="1692.17" cy="1516.12" rx="7.8" ry="8.4" fill="#000"/>
<line x1="1751.86" y1="1437" x2="1751.86" y2="1509.18" stroke="#000" stroke-width="3.4"/>
<line x1="1744.46" y1="1437" x2="1759.26" y2="1437" stroke="#000" stroke-width="3.4"/>
<line x1="1744.46" y1="1509.18" x2="1759.26" y2="1509.18" stroke="#000" stroke-width="3.4"/>
<ellipse cx="1751.86" cy="1473.44" rx="7.8" ry="8.4" fill="#000"/>
<line x1="1827.17" y1="1439.08" x2="1827.17" y2="1497.04" stroke="#000" stroke-width="3.4"/>
<line x1="1819.77" y1="1439.08" x2="1834.57" y2="1439.08" stroke="#000" stroke-width="3.4"/>
<line x1="1819.77" y1="1497.04" x2="1834.57" y2="1497.04" stroke="#000" stroke-width="3.4"/>
<ellipse cx="1827.17" cy="1467.88" rx="7.8" ry="8.4" fill="#000"/>
<line x1="1877.15" y1="1424.15" x2="1877.15" y2="1503.98" stroke="#000" stroke-width="3.4"/>
<line x1="1869.75" y1="1424.15" x2="1884.55" y2="1424.15" stroke="#000" stroke-width="3.4"/>
<line x1="1869.75" y1="1503.98" x2="1884.55" y2="1503.98" stroke="#000" stroke-width="3.4"/>
<ellipse cx="1877.15" cy="1464.41" rx="7.8" ry="8.4" fill="#000"/>
<line x1="1913.59" y1="1450.53" x2="1913.59" y2="1473.78" stroke="#000" stroke-width="3.4"/>
<line x1="1906.19" y1="1450.53" x2="1920.99" y2="1450.53" stroke="#000" stroke-width="3.4"/>
<line x1="1906.19" y1="1473.78" x2="1920.99" y2="1473.78" stroke="#000" stroke-width="3.4"/>
<ellipse cx="1913.59" cy="1462.33" rx="7.8" ry="8.4" fill="#000"/>
<line x1="1943.43" y1="1453.65" x2="1943.43" y2="1501.89" stroke="#000" stroke-width="3.4"/>
<line x1="1936.03" y1="1453.65" x2="1950.83" y2="1453.65" stroke="#000" stroke-width="3.4"/>
<line x1="1936.03" y1="1501.89" x2="1950.83" y2="1501.89" stroke="#000" stroke-width="3.4"/>
<ellipse cx="1943.43" cy="1478.29" rx="7.8" ry="8.4" fill="#000"/>
<line x1="1967.73" y1="1474.13" x2="1967.73" y2="1524.45" stroke="#000" stroke-width="3.4"/>
<line x1="1960.33" y1="1474.13" x2="1975.13" y2="1474.13" stroke="#000" stroke-width="3.4"/>
<line x1="1960.33" y1="1524.45" x2="1975.13" y2="1524.45" stroke="#000" stroke-width="3.4"/>
<ellipse cx="1967.73" cy="1499.46" rx="7.8" ry="8.4" fill="#000"/>
<line x1="1989.59" y1="1450.18" x2="1989.59" y2="1498.77" stroke="#000" stroke-width="3.4"/>
<line x1="1982.19" y1="1450.18" x2="1996.99" y2="1450.18" stroke="#000" stroke-width="3.4"/>
<line x1="1982.19" y1="1498.77" x2="1996.99" y2="1498.77" stroke="#000" stroke-width="3.4"/>
<ellipse cx="1989.59" cy="1475.52" rx="7.8" ry="8.4" fill="#000"/>
<rect x="1456.2" y="1314.5" width="575.4" height="449.4" fill="none" stroke="#000" stroke-width="4"/>
<line x1="1515.84" y1="1763.9" x2="1515.84" y2="1756.4" stroke="#000" stroke-width="3.2"/>
<line x1="1515.84" y1="1314.5" x2="1515.84" y2="1322" stroke="#000" stroke-width="3.2"/>
<line x1="1558.15" y1="1763.9" x2="1558.15" y2="1756.4" stroke="#000" stroke-width="3.2"/>
<line x1="1558.15" y1="1314.5" x2="1558.15" y2="1322" stroke="#000" stroke-width="3.2"/>
<line x1="1590.97" y1="1763.9" x2="1590.97" y2="1756.4" stroke="#000" stroke-width="3.2"/>
<line x1="1590.97" y1="1314.5" x2="1590.97" y2="1322" stroke="#000" stroke-width="3.2"/>
<line x1="1617.79" y1="1763.9" x2="1617.79" y2="1756.4" stroke="#000" stroke-width="3.2"/>
<line x1="1617.79" y1="1314.5" x2="1617.79" y2="1322" stroke="#000" stroke-width="3.2"/>
<line x1="1640.46" y1="1763.9" x2="1640.46" y2="1756.4" stroke="#000" stroke-width="3.2"/>
<line x1="1640.46" y1="1314.5" x2="1640.46" y2="1322" stroke="#000" stroke-width="3.2"/>
<line x1="1660.1" y1="1763.9" x2="1660.1" y2="1756.4" stroke="#000" stroke-width="3.2"/>
<line x1="1660.1" y1="1314.5" x2="1660.1" y2="1322" stroke="#000" stroke-width="3.2"/>
<line x1="1677.43" y1="1763.9" x2="1677.43" y2="1756.4" stroke="#000" stroke-width="3.2"/>
<line x1="1677.43" y1="1314.5" x2="1677.43" y2="1322" stroke="#000" stroke-width="3.2"/>
<line x1="1692.92" y1="1763.9" x2="1692.92" y2="1751.4" stroke="#000" stroke-width="3.2"/>
<line x1="1692.92" y1="1314.5" x2="1692.92" y2="1327" stroke="#000" stroke-width="3.2"/>
<line x1="1794.88" y1="1763.9" x2="1794.88" y2="1756.4" stroke="#000" stroke-width="3.2"/>
<line x1="1794.88" y1="1314.5" x2="1794.88" y2="1322" stroke="#000" stroke-width="3.2"/>
<line x1="1854.51" y1="1763.9" x2="1854.51" y2="1756.4" stroke="#000" stroke-width="3.2"/>
<line x1="1854.51" y1="1314.5" x2="1854.51" y2="1322" stroke="#000" stroke-width="3.2"/>
<line x1="1896.83" y1="1763.9" x2="1896.83" y2="1756.4" stroke="#000" stroke-width="3.2"/>
<line x1="1896.83" y1="1314.5" x2="1896.83" y2="1322" stroke="#000" stroke-width="3.2"/>
<line x1="1929.65" y1="1763.9" x2="1929.65" y2="1756.4" stroke="#000" stroke-width="3.2"/>
<line x1="1929.65" y1="1314.5" x2="1929.65" y2="1322" stroke="#000" stroke-width="3.2"/>
<line x1="1956.47" y1="1763.9" x2="1956.47" y2="1756.4" stroke="#000" stroke-width="3.2"/>
<line x1="1956.47" y1="1314.5" x2="1956.47" y2="1322" stroke="#000" stroke-width="3.2"/>
<line x1="1979.14" y1="1763.9" x2="1979.14" y2="1756.4" stroke="#000" stroke-width="3.2"/>
<line x1="1979.14" y1="1314.5" x2="1979.14" y2="1322" stroke="#000" stroke-width="3.2"/>
<line x1="1998.78" y1="1763.9" x2="1998.78" y2="1756.4" stroke="#000" stroke-width="3.2"/>
<line x1="1998.78" y1="1314.5" x2="1998.78" y2="1322" stroke="#000" stroke-width="3.2"/>
<line x1="2016.1" y1="1763.9" x2="2016.1" y2="1756.4" stroke="#000" stroke-width="3.2"/>
<line x1="2016.1" y1="1314.5" x2="2016.1" y2="1322" stroke="#000" stroke-width="3.2"/>
<line x1="1456.2" y1="1674.02" x2="1468.2" y2="1674.02" stroke="#000" stroke-width="3.4"/>
<line x1="2031.6" y1="1674.02" x2="2019.6" y2="1674.02" stroke="#000" stroke-width="3.4"/>
<line x1="1456.2" y1="1584.14" x2="1468.2" y2="1584.14" stroke="#000" stroke-width="3.4"/>
<line x1="2031.6" y1="1584.14" x2="2019.6" y2="1584.14" stroke="#000" stroke-width="3.4"/>
<line x1="1456.2" y1="1494.26" x2="1468.2" y2="1494.26" stroke="#000" stroke-width="3.4"/>
<line x1="2031.6" y1="1494.26" x2="2019.6" y2="1494.26" stroke="#000" stroke-width="3.4"/>
<line x1="1456.2" y1="1404.38" x2="1468.2" y2="1404.38" stroke="#000" stroke-width="3.4"/>
<line x1="2031.6" y1="1404.38" x2="2019.6" y2="1404.38" stroke="#000" stroke-width="3.4"/>
<text x="1446.5" y="1773" font-size="29.5" text-anchor="end">0</text>
<text x="1446.5" y="1686.22" font-size="29.5" text-anchor="end">3</text>
<text x="1446.5" y="1596.64" font-size="29.5" text-anchor="end">6</text>
<text x="1446.5" y="1506.76" font-size="29.5" text-anchor="end">9</text>
<text x="1446.5" y="1416.18" font-size="29.5" text-anchor="end">12</text>
<text x="1446.5" y="1334" font-size="29.5" text-anchor="end">15</text>
<text x="1462" y="1804.3" font-size="29.5" text-anchor="middle">20</text>
<text x="1704.62" y="1804.3" font-size="29.5" text-anchor="middle">100</text>
<text x="2026.6" y="1804.3" font-size="29.5" text-anchor="middle">1000</text>
<text x="1780" y="1848" font-size="29.5" text-anchor="middle" xml:space="preserve">DNA  Length (bp)</text>
<text x="1402" y="1541" font-size="29.5" text-anchor="middle" textLength="323" lengthAdjust="spacingAndGlyphs" transform="rotate(-90 1402 1541)">V<tspan font-size="19" dy="5">max</tspan><tspan dy="-5"> (ADP/sec/DndFGH)</tspan></text>
</svg>
</body></html>
